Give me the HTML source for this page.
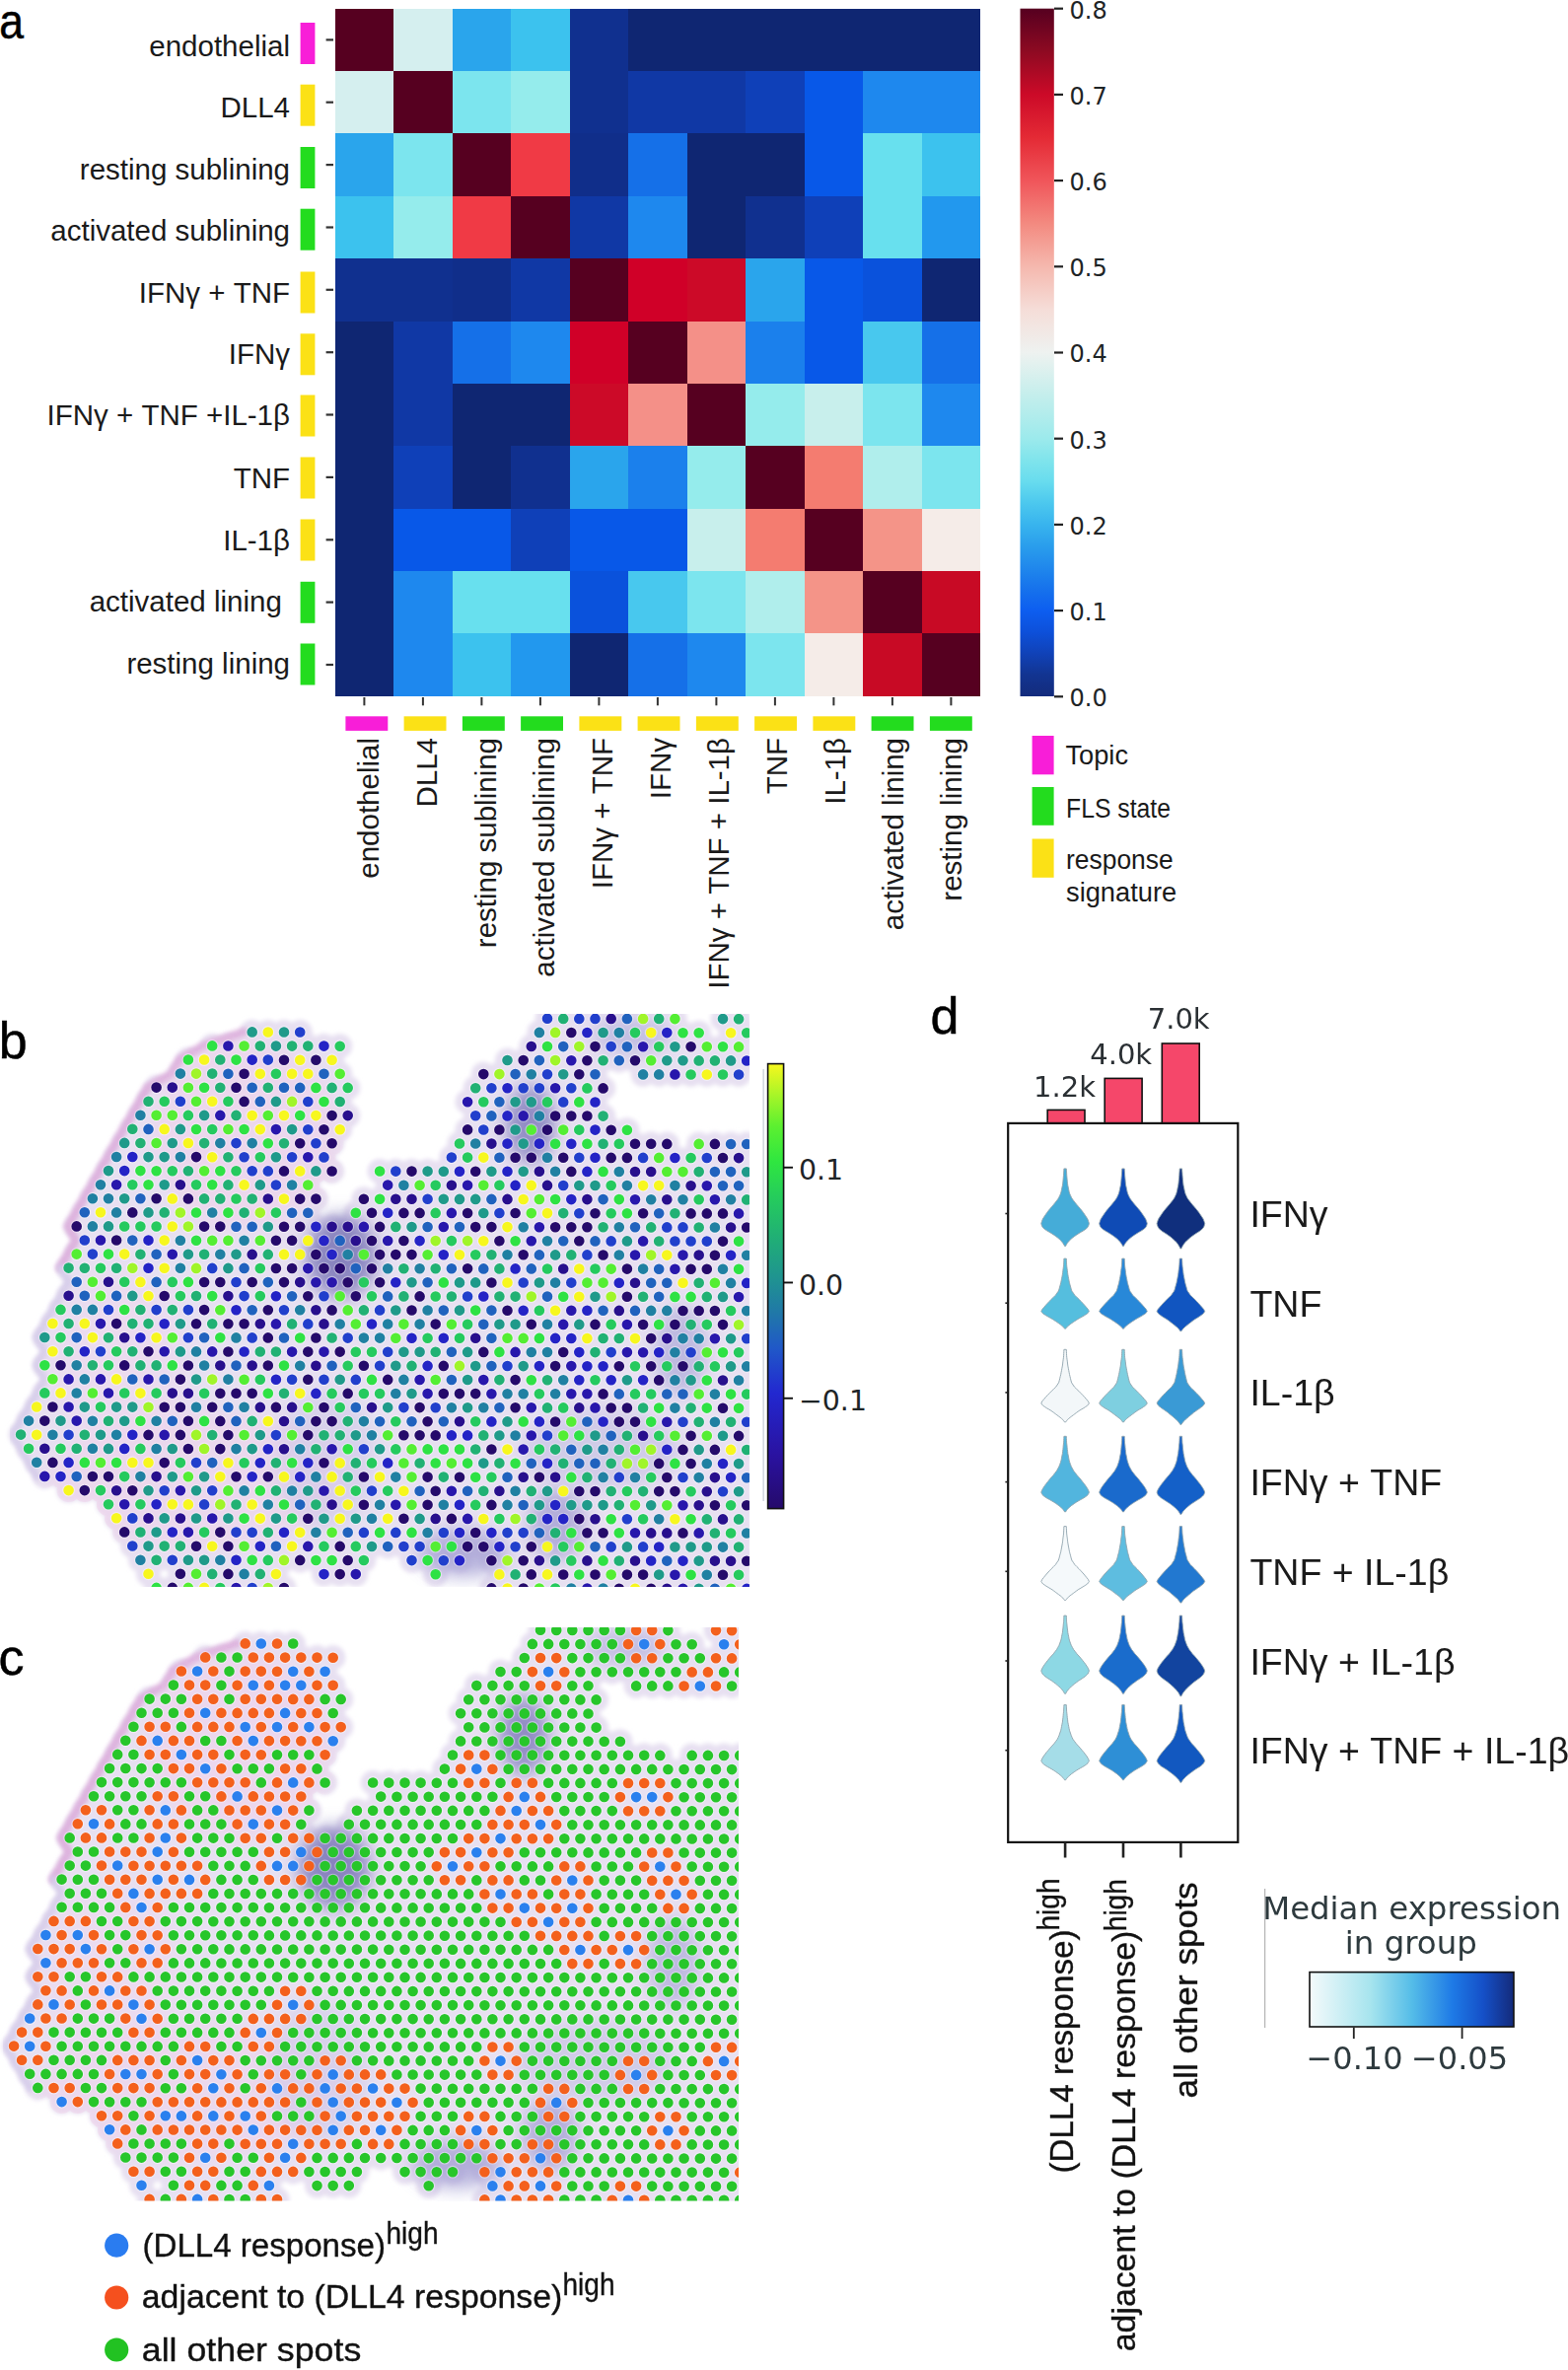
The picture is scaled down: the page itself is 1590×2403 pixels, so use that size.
<!DOCTYPE html>
<html><head><meta charset="utf-8"><title>Figure</title>
<style>html,body{margin:0;padding:0;background:#fff}svg{display:block}</style></head>
<body>
<svg width="1590" height="2403" viewBox="0 0 1590 2403">
<rect width="1590" height="2403" fill="#fff"/>
<g shape-rendering="crispEdges">
<rect x="339.6" y="8.7" width="60.1" height="64" fill="#560020"/>
<rect x="399.1" y="8.7" width="60.1" height="64" fill="#d5efef"/>
<rect x="458.6" y="8.7" width="60.1" height="64" fill="#2aa5ec"/>
<rect x="518.1" y="8.7" width="60.1" height="64" fill="#3cc2ee"/>
<rect x="577.6" y="8.7" width="60.1" height="64" fill="#10308f"/>
<rect x="637.1" y="8.7" width="60.1" height="64" fill="#0f2672"/>
<rect x="696.6" y="8.7" width="60.1" height="64" fill="#0f2672"/>
<rect x="756.1" y="8.7" width="60.1" height="64" fill="#0f2672"/>
<rect x="815.6" y="8.7" width="60.1" height="64" fill="#0f2672"/>
<rect x="875.1" y="8.7" width="60.1" height="64" fill="#0f2672"/>
<rect x="934.6" y="8.7" width="59.5" height="64" fill="#0f2672"/>
<rect x="339.6" y="72.1" width="60.1" height="64" fill="#d5efef"/>
<rect x="399.1" y="72.1" width="60.1" height="64" fill="#560020"/>
<rect x="458.6" y="72.1" width="60.1" height="64" fill="#7ce5ee"/>
<rect x="518.1" y="72.1" width="60.1" height="64" fill="#95ecec"/>
<rect x="577.6" y="72.1" width="60.1" height="64" fill="#10308f"/>
<rect x="637.1" y="72.1" width="60.1" height="64" fill="#1038a5"/>
<rect x="696.6" y="72.1" width="60.1" height="64" fill="#1038a5"/>
<rect x="756.1" y="72.1" width="60.1" height="64" fill="#0f40b8"/>
<rect x="815.6" y="72.1" width="60.1" height="64" fill="#0858e8"/>
<rect x="875.1" y="72.1" width="60.1" height="64" fill="#1e88ee"/>
<rect x="934.6" y="72.1" width="59.5" height="64" fill="#1e88ee"/>
<rect x="339.6" y="135.4" width="60.1" height="64" fill="#2aa5ec"/>
<rect x="399.1" y="135.4" width="60.1" height="64" fill="#7ce5ee"/>
<rect x="458.6" y="135.4" width="60.1" height="64" fill="#560020"/>
<rect x="518.1" y="135.4" width="60.1" height="64" fill="#f03a45"/>
<rect x="577.6" y="135.4" width="60.1" height="64" fill="#102e8a"/>
<rect x="637.1" y="135.4" width="60.1" height="64" fill="#1570e8"/>
<rect x="696.6" y="135.4" width="60.1" height="64" fill="#0f2672"/>
<rect x="756.1" y="135.4" width="60.1" height="64" fill="#0f2672"/>
<rect x="815.6" y="135.4" width="60.1" height="64" fill="#0858e8"/>
<rect x="875.1" y="135.4" width="60.1" height="64" fill="#68e0ee"/>
<rect x="934.6" y="135.4" width="59.5" height="64" fill="#3cc2ee"/>
<rect x="339.6" y="198.8" width="60.1" height="64" fill="#3cc2ee"/>
<rect x="399.1" y="198.8" width="60.1" height="64" fill="#95ecec"/>
<rect x="458.6" y="198.8" width="60.1" height="64" fill="#f03a45"/>
<rect x="518.1" y="198.8" width="60.1" height="64" fill="#560020"/>
<rect x="577.6" y="198.8" width="60.1" height="64" fill="#1038a5"/>
<rect x="637.1" y="198.8" width="60.1" height="64" fill="#1e88ee"/>
<rect x="696.6" y="198.8" width="60.1" height="64" fill="#0f2672"/>
<rect x="756.1" y="198.8" width="60.1" height="64" fill="#10308f"/>
<rect x="815.6" y="198.8" width="60.1" height="64" fill="#0f40b8"/>
<rect x="875.1" y="198.8" width="60.1" height="64" fill="#68e0ee"/>
<rect x="934.6" y="198.8" width="59.5" height="64" fill="#2298ee"/>
<rect x="339.6" y="262.1" width="60.1" height="64" fill="#10308f"/>
<rect x="399.1" y="262.1" width="60.1" height="64" fill="#10308f"/>
<rect x="458.6" y="262.1" width="60.1" height="64" fill="#102e8a"/>
<rect x="518.1" y="262.1" width="60.1" height="64" fill="#1038a5"/>
<rect x="577.6" y="262.1" width="60.1" height="64" fill="#560020"/>
<rect x="637.1" y="262.1" width="60.1" height="64" fill="#d00028"/>
<rect x="696.6" y="262.1" width="60.1" height="64" fill="#cc0a28"/>
<rect x="756.1" y="262.1" width="60.1" height="64" fill="#2aa5ec"/>
<rect x="815.6" y="262.1" width="60.1" height="64" fill="#0858e8"/>
<rect x="875.1" y="262.1" width="60.1" height="64" fill="#0a52dc"/>
<rect x="934.6" y="262.1" width="59.5" height="64" fill="#0f2672"/>
<rect x="339.6" y="325.5" width="60.1" height="64" fill="#0f2672"/>
<rect x="399.1" y="325.5" width="60.1" height="64" fill="#1038a5"/>
<rect x="458.6" y="325.5" width="60.1" height="64" fill="#1570e8"/>
<rect x="518.1" y="325.5" width="60.1" height="64" fill="#1e88ee"/>
<rect x="577.6" y="325.5" width="60.1" height="64" fill="#d00028"/>
<rect x="637.1" y="325.5" width="60.1" height="64" fill="#560020"/>
<rect x="696.6" y="325.5" width="60.1" height="64" fill="#f49088"/>
<rect x="756.1" y="325.5" width="60.1" height="64" fill="#1b80ec"/>
<rect x="815.6" y="325.5" width="60.1" height="64" fill="#0858e8"/>
<rect x="875.1" y="325.5" width="60.1" height="64" fill="#48c8ee"/>
<rect x="934.6" y="325.5" width="59.5" height="64" fill="#1570e8"/>
<rect x="339.6" y="388.9" width="60.1" height="64" fill="#0f2672"/>
<rect x="399.1" y="388.9" width="60.1" height="64" fill="#1038a5"/>
<rect x="458.6" y="388.9" width="60.1" height="64" fill="#0f2672"/>
<rect x="518.1" y="388.9" width="60.1" height="64" fill="#0f2672"/>
<rect x="577.6" y="388.9" width="60.1" height="64" fill="#cc0a28"/>
<rect x="637.1" y="388.9" width="60.1" height="64" fill="#f49088"/>
<rect x="696.6" y="388.9" width="60.1" height="64" fill="#560020"/>
<rect x="756.1" y="388.9" width="60.1" height="64" fill="#95ecec"/>
<rect x="815.6" y="388.9" width="60.1" height="64" fill="#c8efec"/>
<rect x="875.1" y="388.9" width="60.1" height="64" fill="#7ce5ee"/>
<rect x="934.6" y="388.9" width="59.5" height="64" fill="#1e88ee"/>
<rect x="339.6" y="452.2" width="60.1" height="64" fill="#0f2672"/>
<rect x="399.1" y="452.2" width="60.1" height="64" fill="#0f40b8"/>
<rect x="458.6" y="452.2" width="60.1" height="64" fill="#0f2672"/>
<rect x="518.1" y="452.2" width="60.1" height="64" fill="#10308f"/>
<rect x="577.6" y="452.2" width="60.1" height="64" fill="#2aa5ec"/>
<rect x="637.1" y="452.2" width="60.1" height="64" fill="#1b80ec"/>
<rect x="696.6" y="452.2" width="60.1" height="64" fill="#95ecec"/>
<rect x="756.1" y="452.2" width="60.1" height="64" fill="#560020"/>
<rect x="815.6" y="452.2" width="60.1" height="64" fill="#f47c70"/>
<rect x="875.1" y="452.2" width="60.1" height="64" fill="#b0eeec"/>
<rect x="934.6" y="452.2" width="59.5" height="64" fill="#7ce5ee"/>
<rect x="339.6" y="515.6" width="60.1" height="64" fill="#0f2672"/>
<rect x="399.1" y="515.6" width="60.1" height="64" fill="#0858e8"/>
<rect x="458.6" y="515.6" width="60.1" height="64" fill="#0858e8"/>
<rect x="518.1" y="515.6" width="60.1" height="64" fill="#0f40b8"/>
<rect x="577.6" y="515.6" width="60.1" height="64" fill="#0858e8"/>
<rect x="637.1" y="515.6" width="60.1" height="64" fill="#0858e8"/>
<rect x="696.6" y="515.6" width="60.1" height="64" fill="#c8efec"/>
<rect x="756.1" y="515.6" width="60.1" height="64" fill="#f47c70"/>
<rect x="815.6" y="515.6" width="60.1" height="64" fill="#560020"/>
<rect x="875.1" y="515.6" width="60.1" height="64" fill="#f49488"/>
<rect x="934.6" y="515.6" width="59.5" height="64" fill="#f5ece8"/>
<rect x="339.6" y="578.9" width="60.1" height="64" fill="#0f2672"/>
<rect x="399.1" y="578.9" width="60.1" height="64" fill="#1e88ee"/>
<rect x="458.6" y="578.9" width="60.1" height="64" fill="#68e0ee"/>
<rect x="518.1" y="578.9" width="60.1" height="64" fill="#68e0ee"/>
<rect x="577.6" y="578.9" width="60.1" height="64" fill="#0a52dc"/>
<rect x="637.1" y="578.9" width="60.1" height="64" fill="#48c8ee"/>
<rect x="696.6" y="578.9" width="60.1" height="64" fill="#7ce5ee"/>
<rect x="756.1" y="578.9" width="60.1" height="64" fill="#b0eeec"/>
<rect x="815.6" y="578.9" width="60.1" height="64" fill="#f49488"/>
<rect x="875.1" y="578.9" width="60.1" height="64" fill="#560020"/>
<rect x="934.6" y="578.9" width="59.5" height="64" fill="#c80a25"/>
<rect x="339.6" y="642.3" width="60.1" height="63.4" fill="#0f2672"/>
<rect x="399.1" y="642.3" width="60.1" height="63.4" fill="#1e88ee"/>
<rect x="458.6" y="642.3" width="60.1" height="63.4" fill="#3cc2ee"/>
<rect x="518.1" y="642.3" width="60.1" height="63.4" fill="#2298ee"/>
<rect x="577.6" y="642.3" width="60.1" height="63.4" fill="#0f2672"/>
<rect x="637.1" y="642.3" width="60.1" height="63.4" fill="#1570e8"/>
<rect x="696.6" y="642.3" width="60.1" height="63.4" fill="#1e88ee"/>
<rect x="756.1" y="642.3" width="60.1" height="63.4" fill="#7ce5ee"/>
<rect x="815.6" y="642.3" width="60.1" height="63.4" fill="#f5ece8"/>
<rect x="875.1" y="642.3" width="60.1" height="63.4" fill="#c80a25"/>
<rect x="934.6" y="642.3" width="59.5" height="63.4" fill="#560020"/>
</g>
<g font-family='"Liberation Sans", Arial, sans-serif' font-size="29.5" fill="#1a1a1a">
<text x="294" y="57" text-anchor="end" xml:space="preserve">endothelial</text>
<rect x="304.6" y="23" width="14.8" height="42" fill="#f81ed8"/>
<rect x="330.6" y="39.3" width="7.4" height="2.2" fill="#333"/>
<rect x="368.4" y="707" width="2" height="8.3" fill="#333"/>
<rect x="350.4" y="726.3" width="42.9" height="14.6" fill="#f81ed8"/>
<text transform="translate(384.3 748) rotate(-90)" text-anchor="end">endothelial</text>
<text x="294" y="119" text-anchor="end" xml:space="preserve">DLL4</text>
<rect x="304.6" y="85.7" width="14.8" height="42" fill="#fbe116"/>
<rect x="330.6" y="102.6" width="7.4" height="2.2" fill="#333"/>
<rect x="427.9" y="707" width="2" height="8.3" fill="#333"/>
<rect x="409.6" y="726.3" width="42.9" height="14.6" fill="#fbe116"/>
<text transform="translate(443.4 748) rotate(-90)" text-anchor="end">DLL4</text>
<text x="294" y="182" text-anchor="end" xml:space="preserve">resting sublining</text>
<rect x="304.6" y="149" width="14.8" height="42" fill="#23dc1e"/>
<rect x="330.6" y="166" width="7.4" height="2.2" fill="#333"/>
<rect x="487.4" y="707" width="2" height="8.3" fill="#333"/>
<rect x="468.9" y="726.3" width="42.9" height="14.6" fill="#23dc1e"/>
<text transform="translate(502.5 748) rotate(-90)" text-anchor="end">resting sublining</text>
<text x="294" y="244" text-anchor="end" xml:space="preserve">activated sublining</text>
<rect x="304.6" y="211.7" width="14.8" height="42" fill="#23dc1e"/>
<rect x="330.6" y="229.4" width="7.4" height="2.2" fill="#333"/>
<rect x="546.9" y="707" width="2" height="8.3" fill="#333"/>
<rect x="528.1" y="726.3" width="42.9" height="14.6" fill="#23dc1e"/>
<text transform="translate(561.6 748) rotate(-90)" text-anchor="end">activated sublining</text>
<text x="294" y="307" text-anchor="end" xml:space="preserve">IFNγ + TNF</text>
<rect x="304.6" y="275.5" width="14.8" height="42" fill="#fbe116"/>
<rect x="330.6" y="292.7" width="7.4" height="2.2" fill="#333"/>
<rect x="606.4" y="707" width="2" height="8.3" fill="#333"/>
<rect x="587.4" y="726.3" width="42.9" height="14.6" fill="#fbe116"/>
<text transform="translate(620.7 748) rotate(-90)" text-anchor="end">IFNγ + TNF</text>
<text x="294" y="368.5" text-anchor="end" xml:space="preserve">IFNγ</text>
<rect x="304.6" y="338.3" width="14.8" height="42" fill="#fbe116"/>
<rect x="330.6" y="356.1" width="7.4" height="2.2" fill="#333"/>
<rect x="665.9" y="707" width="2" height="8.3" fill="#333"/>
<rect x="646.6" y="726.3" width="42.9" height="14.6" fill="#fbe116"/>
<text transform="translate(679.8 748) rotate(-90)" text-anchor="end">IFNγ</text>
<text x="294" y="431" text-anchor="end" xml:space="preserve">IFNγ + TNF +IL-1β</text>
<rect x="304.6" y="400.5" width="14.8" height="42" fill="#fbe116"/>
<rect x="330.6" y="419.4" width="7.4" height="2.2" fill="#333"/>
<rect x="725.4" y="707" width="2" height="8.3" fill="#333"/>
<rect x="705.9" y="726.3" width="42.9" height="14.6" fill="#fbe116"/>
<text transform="translate(738.9 748) rotate(-90)" text-anchor="end">IFNγ + TNF + IL-1β</text>
<text x="294" y="494.5" text-anchor="end" xml:space="preserve">TNF</text>
<rect x="304.6" y="463.5" width="14.8" height="42" fill="#fbe116"/>
<rect x="330.6" y="482.8" width="7.4" height="2.2" fill="#333"/>
<rect x="784.9" y="707" width="2" height="8.3" fill="#333"/>
<rect x="765.1" y="726.3" width="42.9" height="14.6" fill="#fbe116"/>
<text transform="translate(798 748) rotate(-90)" text-anchor="end">TNF</text>
<text x="294" y="558" text-anchor="end" xml:space="preserve">IL-1β</text>
<rect x="304.6" y="526.5" width="14.8" height="42" fill="#fbe116"/>
<rect x="330.6" y="546.2" width="7.4" height="2.2" fill="#333"/>
<rect x="844.4" y="707" width="2" height="8.3" fill="#333"/>
<rect x="824.4" y="726.3" width="42.9" height="14.6" fill="#fbe116"/>
<text transform="translate(857.1 748) rotate(-90)" text-anchor="end">IL-1β</text>
<text x="294" y="619.5" text-anchor="end" xml:space="preserve">activated lining </text>
<rect x="304.6" y="589.8" width="14.8" height="42" fill="#23dc1e"/>
<rect x="330.6" y="609.5" width="7.4" height="2.2" fill="#333"/>
<rect x="903.9" y="707" width="2" height="8.3" fill="#333"/>
<rect x="883.6" y="726.3" width="42.9" height="14.6" fill="#23dc1e"/>
<text transform="translate(916.2 748) rotate(-90)" text-anchor="end">activated lining</text>
<text x="294" y="683" text-anchor="end" xml:space="preserve">resting lining</text>
<rect x="304.6" y="652.5" width="14.8" height="42" fill="#23dc1e"/>
<rect x="330.6" y="672.9" width="7.4" height="2.2" fill="#333"/>
<rect x="963.4" y="707" width="2" height="8.3" fill="#333"/>
<rect x="942.9" y="726.3" width="42.9" height="14.6" fill="#23dc1e"/>
<text transform="translate(975.3 748) rotate(-90)" text-anchor="end">resting lining</text>
</g>
<defs><linearGradient id="ga" x1="0" y1="1" x2="0" y2="0">
<stop offset="0.0000" stop-color="#132b7c"/>
<stop offset="0.0312" stop-color="#123491"/>
<stop offset="0.0625" stop-color="#1042b8"/>
<stop offset="0.0937" stop-color="#0d50da"/>
<stop offset="0.1250" stop-color="#0d5ef0"/>
<stop offset="0.1562" stop-color="#1672ec"/>
<stop offset="0.1875" stop-color="#2088ec"/>
<stop offset="0.2187" stop-color="#2a9eec"/>
<stop offset="0.2500" stop-color="#38b4ee"/>
<stop offset="0.2812" stop-color="#4cc8ee"/>
<stop offset="0.3125" stop-color="#68dcee"/>
<stop offset="0.3438" stop-color="#80e4ec"/>
<stop offset="0.3750" stop-color="#9ceaec"/>
<stop offset="0.4375" stop-color="#c4eeec"/>
<stop offset="0.5000" stop-color="#eef2f0"/>
<stop offset="0.5625" stop-color="#f5ddd8"/>
<stop offset="0.6250" stop-color="#f5b8ae"/>
<stop offset="0.6875" stop-color="#f38a80"/>
<stop offset="0.7500" stop-color="#f0555a"/>
<stop offset="0.8125" stop-color="#e42a35"/>
<stop offset="0.8750" stop-color="#cc0a28"/>
<stop offset="0.9375" stop-color="#8e0a22"/>
<stop offset="1.0000" stop-color="#560020"/>
</linearGradient></defs>
<rect x="1034.5" y="8.7" width="34.3" height="697.3" fill="url(#ga)"/>
<g font-family='"DejaVu Sans", "Liberation Sans", sans-serif' font-size="24" fill="#1e2426">
<rect x="1069" y="705.2" width="9" height="2.2" fill="#222"/>
<text x="1084.5" y="716.1">0.0</text>
<rect x="1069" y="618" width="9" height="2.2" fill="#222"/>
<text x="1084.5" y="628.9">0.1</text>
<rect x="1069" y="530.8" width="9" height="2.2" fill="#222"/>
<text x="1084.5" y="541.8">0.2</text>
<rect x="1069" y="443.6" width="9" height="2.2" fill="#222"/>
<text x="1084.5" y="454.5">0.3</text>
<rect x="1069" y="356.4" width="9" height="2.2" fill="#222"/>
<text x="1084.5" y="367.3">0.4</text>
<rect x="1069" y="269.2" width="9" height="2.2" fill="#222"/>
<text x="1084.5" y="280.1">0.5</text>
<rect x="1069" y="182" width="9" height="2.2" fill="#222"/>
<text x="1084.5" y="192.9">0.6</text>
<rect x="1069" y="94.8" width="9" height="2.2" fill="#222"/>
<text x="1084.5" y="105.7">0.7</text>
<rect x="1069" y="7.6" width="9" height="2.2" fill="#222"/>
<text x="1084.5" y="18.5">0.8</text>
</g>
<rect x="1046.6" y="746" width="22" height="39.3" fill="#f81ed8"/>
<rect x="1046.6" y="798" width="22" height="38.8" fill="#23dc1e"/>
<rect x="1046.6" y="850.5" width="22" height="39.3" fill="#fbe116"/>
<g font-family='"Liberation Sans", Arial, sans-serif' font-size="27" fill="#1a1a1a">
<text x="1080.5" y="775" textLength="63.5" lengthAdjust="spacingAndGlyphs">Topic</text>
<text x="1081" y="828.6" textLength="106" lengthAdjust="spacingAndGlyphs">FLS state</text>
<text x="1081" y="881" textLength="108.7" lengthAdjust="spacingAndGlyphs">response</text>
<text x="1081" y="914.3" textLength="112.2" lengthAdjust="spacingAndGlyphs">signature</text>
</g>
<g font-family='"Liberation Sans", Arial, sans-serif' font-size="52" fill="#000" stroke="#000" stroke-width="0.5">
<text transform="translate(-0.8 39.3) scale(0.9 1)" font-size="49.5">a</text>
<text x="-1.3" y="1072.8">b</text>
<text x="-1.5" y="1697.6">c</text>
<text x="943.5" y="1047.8">d</text>
</g>
<defs>
<path id="allsp" d="M555 1032.8h0M571.2 1032.9h0M587.3 1032.9h0M603.5 1032.9h0M619.7 1033h0M635.9 1033h0M652.1 1033h0M668.2 1033h0M684.4 1033.1h0M733 1033.1h0M749.1 1033.2h0M255.7 1046.4h0M271.8 1046.5h0M288 1046.5h0M304.2 1046.5h0M546.9 1046.9h0M563.1 1046.9h0M579.3 1047h0M595.4 1047h0M611.6 1047h0M627.8 1047.1h0M644 1047.1h0M660.2 1047.1h0M676.3 1047.1h0M692.5 1047.2h0M708.7 1047.2h0M741.1 1047.2h0M757.2 1047.3h0M215.2 1060.4h0M231.4 1060.5h0M247.6 1060.5h0M263.8 1060.5h0M279.9 1060.6h0M296.1 1060.6h0M312.3 1060.6h0M328.5 1060.6h0M344.7 1060.7h0M538.8 1061h0M555 1061h0M571.2 1061.1h0M587.3 1061.1h0M603.5 1061.1h0M619.7 1061.1h0M635.9 1061.2h0M652.1 1061.2h0M668.2 1061.2h0M684.4 1061.2h0M700.6 1061.3h0M716.8 1061.3h0M733 1061.3h0M749.1 1061.4h0M190.9 1074.5h0M207.1 1074.5h0M223.3 1074.5h0M239.5 1074.6h0M255.7 1074.6h0M271.8 1074.6h0M288 1074.7h0M304.2 1074.7h0M320.4 1074.7h0M336.6 1074.7h0M514.5 1075h0M530.7 1075.1h0M546.9 1075.1h0M563.1 1075.1h0M579.3 1075.2h0M595.4 1075.2h0M611.6 1075.2h0M627.8 1075.2h0M644 1075.3h0M660.2 1075.3h0M676.3 1075.3h0M692.5 1075.3h0M708.7 1075.4h0M724.9 1075.4h0M741.1 1075.4h0M757.2 1075.5h0M182.9 1088.6h0M199 1088.6h0M215.2 1088.6h0M231.4 1088.7h0M247.6 1088.7h0M263.8 1088.7h0M279.9 1088.7h0M296.1 1088.8h0M312.3 1088.8h0M328.5 1088.8h0M344.7 1088.8h0M490.3 1089.1h0M506.4 1089.1h0M522.6 1089.1h0M538.8 1089.2h0M555 1089.2h0M571.2 1089.2h0M587.3 1089.3h0M603.5 1089.3h0M652.1 1089.4h0M668.2 1089.4h0M684.4 1089.4h0M700.6 1089.5h0M716.8 1089.5h0M733 1089.5h0M749.1 1089.5h0M158.6 1102.6h0M174.8 1102.6h0M190.9 1102.7h0M207.1 1102.7h0M223.3 1102.7h0M239.5 1102.8h0M255.7 1102.8h0M271.8 1102.8h0M288 1102.8h0M304.2 1102.9h0M320.4 1102.9h0M336.6 1102.9h0M352.7 1102.9h0M482.2 1103.2h0M498.4 1103.2h0M514.5 1103.2h0M530.7 1103.3h0M546.9 1103.3h0M563.1 1103.3h0M579.3 1103.3h0M595.4 1103.4h0M611.6 1103.4h0M150.5 1116.7h0M166.7 1116.7h0M182.9 1116.8h0M199 1116.8h0M215.2 1116.8h0M231.4 1116.8h0M247.6 1116.9h0M263.8 1116.9h0M279.9 1116.9h0M296.1 1116.9h0M312.3 1117h0M328.5 1117h0M344.7 1117h0M474.1 1117.2h0M490.3 1117.3h0M506.4 1117.3h0M522.6 1117.3h0M538.8 1117.4h0M555 1117.4h0M571.2 1117.4h0M587.3 1117.4h0M603.5 1117.5h0M142.4 1130.8h0M158.6 1130.8h0M174.8 1130.8h0M190.9 1130.9h0M207.1 1130.9h0M223.3 1130.9h0M239.5 1130.9h0M255.7 1131h0M271.8 1131h0M288 1131h0M304.2 1131h0M320.4 1131.1h0M336.6 1131.1h0M352.7 1131.1h0M482.2 1131.3h0M498.4 1131.4h0M514.5 1131.4h0M530.7 1131.4h0M546.9 1131.5h0M563.1 1131.5h0M579.3 1131.5h0M595.4 1131.5h0M611.6 1131.6h0M134.3 1144.8h0M150.5 1144.9h0M166.7 1144.9h0M182.9 1144.9h0M199 1145h0M215.2 1145h0M231.4 1145h0M247.6 1145h0M263.8 1145.1h0M279.9 1145.1h0M296.1 1145.1h0M312.3 1145.2h0M328.5 1145.2h0M344.7 1145.2h0M474.1 1145.4h0M490.3 1145.5h0M506.4 1145.5h0M522.6 1145.5h0M538.8 1145.5h0M555 1145.6h0M571.2 1145.6h0M587.3 1145.6h0M603.5 1145.6h0M619.7 1145.7h0M635.9 1145.7h0M126.2 1158.9h0M142.4 1159h0M158.6 1159h0M174.8 1159h0M190.9 1159h0M207.1 1159.1h0M223.3 1159.1h0M239.5 1159.1h0M255.7 1159.1h0M271.8 1159.2h0M288 1159.2h0M304.2 1159.2h0M320.4 1159.3h0M336.6 1159.3h0M466 1159.5h0M482.2 1159.5h0M498.4 1159.6h0M514.5 1159.6h0M530.7 1159.6h0M546.9 1159.6h0M563.1 1159.7h0M579.3 1159.7h0M595.4 1159.7h0M611.6 1159.7h0M627.8 1159.8h0M644 1159.8h0M660.2 1159.8h0M676.3 1159.9h0M708.7 1159.9h0M724.9 1159.9h0M741.1 1160h0M757.2 1160h0M118.1 1173h0M134.3 1173h0M150.5 1173.1h0M166.7 1173.1h0M182.9 1173.1h0M199 1173.1h0M215.2 1173.2h0M231.4 1173.2h0M247.6 1173.2h0M263.8 1173.2h0M279.9 1173.3h0M296.1 1173.3h0M312.3 1173.3h0M328.5 1173.4h0M457.9 1173.6h0M474.1 1173.6h0M490.3 1173.6h0M506.4 1173.7h0M522.6 1173.7h0M538.8 1173.7h0M555 1173.7h0M571.2 1173.8h0M587.3 1173.8h0M603.5 1173.8h0M619.7 1173.9h0M635.9 1173.9h0M652.1 1173.9h0M668.2 1173.9h0M684.4 1174h0M700.6 1174h0M716.8 1174h0M733 1174h0M749.1 1174.1h0M110 1187.1h0M126.2 1187.1h0M142.4 1187.1h0M158.6 1187.2h0M174.8 1187.2h0M190.9 1187.2h0M207.1 1187.2h0M223.3 1187.3h0M239.5 1187.3h0M255.7 1187.3h0M271.8 1187.4h0M288 1187.4h0M304.2 1187.4h0M320.4 1187.4h0M336.6 1187.5h0M385.1 1187.5h0M401.3 1187.6h0M417.5 1187.6h0M433.6 1187.6h0M449.8 1187.7h0M466 1187.7h0M482.2 1187.7h0M498.4 1187.7h0M514.5 1187.8h0M530.7 1187.8h0M546.9 1187.8h0M563.1 1187.8h0M579.3 1187.9h0M595.4 1187.9h0M611.6 1187.9h0M627.8 1188h0M644 1188h0M660.2 1188h0M676.3 1188h0M692.5 1188.1h0M708.7 1188.1h0M724.9 1188.1h0M741.1 1188.1h0M757.2 1188.2h0M102 1201.2h0M118.1 1201.2h0M134.3 1201.2h0M150.5 1201.2h0M166.7 1201.3h0M182.9 1201.3h0M199 1201.3h0M215.2 1201.3h0M231.4 1201.4h0M247.6 1201.4h0M263.8 1201.4h0M279.9 1201.5h0M296.1 1201.5h0M312.3 1201.5h0M393.2 1201.6h0M409.4 1201.7h0M425.6 1201.7h0M441.7 1201.7h0M457.9 1201.8h0M474.1 1201.8h0M490.3 1201.8h0M506.4 1201.8h0M522.6 1201.9h0M538.8 1201.9h0M555 1201.9h0M571.2 1202h0M587.3 1202h0M603.5 1202h0M619.7 1202h0M635.9 1202.1h0M652.1 1202.1h0M668.2 1202.1h0M684.4 1202.1h0M700.6 1202.2h0M716.8 1202.2h0M733 1202.2h0M749.1 1202.3h0M93.9 1215.2h0M110 1215.3h0M126.2 1215.3h0M142.4 1215.3h0M158.6 1215.3h0M174.8 1215.4h0M190.9 1215.4h0M207.1 1215.4h0M223.3 1215.4h0M239.5 1215.5h0M255.7 1215.5h0M271.8 1215.5h0M288 1215.6h0M304.2 1215.6h0M320.4 1215.6h0M368.9 1215.7h0M385.1 1215.7h0M401.3 1215.8h0M417.5 1215.8h0M433.6 1215.8h0M449.8 1215.8h0M466 1215.9h0M482.2 1215.9h0M498.4 1215.9h0M514.5 1215.9h0M530.7 1216h0M546.9 1216h0M563.1 1216h0M579.3 1216.1h0M595.4 1216.1h0M611.6 1216.1h0M627.8 1216.1h0M644 1216.2h0M660.2 1216.2h0M676.3 1216.2h0M692.5 1216.2h0M708.7 1216.3h0M724.9 1216.3h0M741.1 1216.3h0M757.2 1216.4h0M85.8 1229.3h0M102 1229.3h0M118.1 1229.4h0M134.3 1229.4h0M150.5 1229.4h0M166.7 1229.4h0M182.9 1229.5h0M199 1229.5h0M215.2 1229.5h0M231.4 1229.6h0M247.6 1229.6h0M263.8 1229.6h0M279.9 1229.6h0M296.1 1229.7h0M312.3 1229.7h0M360.8 1229.8h0M377 1229.8h0M393.2 1229.8h0M409.4 1229.9h0M425.6 1229.9h0M441.7 1229.9h0M457.9 1229.9h0M474.1 1230h0M490.3 1230h0M506.4 1230h0M522.6 1230h0M538.8 1230.1h0M555 1230.1h0M571.2 1230.1h0M587.3 1230.2h0M603.5 1230.2h0M619.7 1230.2h0M635.9 1230.2h0M652.1 1230.3h0M668.2 1230.3h0M684.4 1230.3h0M700.6 1230.4h0M716.8 1230.4h0M733 1230.4h0M749.1 1230.4h0M77.7 1243.4h0M93.9 1243.4h0M110 1243.4h0M126.2 1243.5h0M142.4 1243.5h0M158.6 1243.5h0M174.8 1243.5h0M190.9 1243.6h0M207.1 1243.6h0M223.3 1243.6h0M239.5 1243.7h0M255.7 1243.7h0M271.8 1243.7h0M288 1243.7h0M304.2 1243.8h0M320.4 1243.8h0M336.6 1243.8h0M352.7 1243.8h0M368.9 1243.9h0M385.1 1243.9h0M401.3 1243.9h0M417.5 1244h0M433.6 1244h0M449.8 1244h0M466 1244h0M482.2 1244.1h0M498.4 1244.1h0M514.5 1244.1h0M530.7 1244.2h0M546.9 1244.2h0M563.1 1244.2h0M579.3 1244.2h0M595.4 1244.3h0M611.6 1244.3h0M627.8 1244.3h0M644 1244.3h0M660.2 1244.4h0M676.3 1244.4h0M692.5 1244.4h0M708.7 1244.5h0M724.9 1244.5h0M741.1 1244.5h0M757.2 1244.5h0M85.8 1257.5h0M102 1257.5h0M118.1 1257.5h0M134.3 1257.6h0M150.5 1257.6h0M166.7 1257.6h0M182.9 1257.7h0M199 1257.7h0M215.2 1257.7h0M231.4 1257.7h0M247.6 1257.8h0M263.8 1257.8h0M279.9 1257.8h0M296.1 1257.8h0M312.3 1257.9h0M328.5 1257.9h0M344.7 1257.9h0M360.8 1258h0M377 1258h0M393.2 1258h0M409.4 1258h0M425.6 1258.1h0M441.7 1258.1h0M457.9 1258.1h0M474.1 1258.1h0M490.3 1258.2h0M506.4 1258.2h0M522.6 1258.2h0M538.8 1258.3h0M555 1258.3h0M571.2 1258.3h0M587.3 1258.3h0M603.5 1258.4h0M619.7 1258.4h0M635.9 1258.4h0M652.1 1258.4h0M668.2 1258.5h0M684.4 1258.5h0M700.6 1258.5h0M716.8 1258.6h0M733 1258.6h0M749.1 1258.6h0M77.7 1271.6h0M93.9 1271.6h0M110 1271.6h0M126.2 1271.6h0M142.4 1271.7h0M158.6 1271.7h0M174.8 1271.7h0M190.9 1271.8h0M207.1 1271.8h0M223.3 1271.8h0M239.5 1271.8h0M255.7 1271.9h0M271.8 1271.9h0M288 1271.9h0M304.2 1271.9h0M320.4 1272h0M336.6 1272h0M352.7 1272h0M368.9 1272.1h0M385.1 1272.1h0M401.3 1272.1h0M417.5 1272.1h0M433.6 1272.2h0M449.8 1272.2h0M466 1272.2h0M482.2 1272.2h0M498.4 1272.3h0M514.5 1272.3h0M530.7 1272.3h0M546.9 1272.4h0M563.1 1272.4h0M579.3 1272.4h0M595.4 1272.4h0M611.6 1272.5h0M627.8 1272.5h0M644 1272.5h0M660.2 1272.6h0M676.3 1272.6h0M692.5 1272.6h0M708.7 1272.6h0M724.9 1272.7h0M741.1 1272.7h0M757.2 1272.7h0M69.6 1285.6h0M85.8 1285.7h0M102 1285.7h0M118.1 1285.7h0M134.3 1285.7h0M150.5 1285.8h0M166.7 1285.8h0M182.9 1285.8h0M199 1285.9h0M215.2 1285.9h0M231.4 1285.9h0M247.6 1285.9h0M263.8 1286h0M279.9 1286h0M296.1 1286h0M312.3 1286.1h0M328.5 1286.1h0M344.7 1286.1h0M360.8 1286.1h0M377 1286.2h0M393.2 1286.2h0M409.4 1286.2h0M425.6 1286.2h0M441.7 1286.3h0M457.9 1286.3h0M474.1 1286.3h0M490.3 1286.4h0M506.4 1286.4h0M522.6 1286.4h0M538.8 1286.4h0M555 1286.5h0M571.2 1286.5h0M587.3 1286.5h0M603.5 1286.5h0M619.7 1286.6h0M635.9 1286.6h0M652.1 1286.6h0M668.2 1286.7h0M684.4 1286.7h0M700.6 1286.7h0M716.8 1286.7h0M733 1286.8h0M749.1 1286.8h0M77.7 1299.7h0M93.9 1299.8h0M110 1299.8h0M126.2 1299.8h0M142.4 1299.9h0M158.6 1299.9h0M174.8 1299.9h0M190.9 1299.9h0M207.1 1300h0M223.3 1300h0M239.5 1300h0M255.7 1300h0M271.8 1300.1h0M288 1300.1h0M304.2 1300.1h0M320.4 1300.2h0M336.6 1300.2h0M352.7 1300.2h0M368.9 1300.2h0M385.1 1300.3h0M401.3 1300.3h0M417.5 1300.3h0M433.6 1300.3h0M449.8 1300.4h0M466 1300.4h0M482.2 1300.4h0M498.4 1300.5h0M514.5 1300.5h0M530.7 1300.5h0M546.9 1300.5h0M563.1 1300.6h0M579.3 1300.6h0M595.4 1300.6h0M611.6 1300.6h0M627.8 1300.7h0M644 1300.7h0M660.2 1300.7h0M676.3 1300.8h0M692.5 1300.8h0M708.7 1300.8h0M724.9 1300.8h0M741.1 1300.9h0M757.2 1300.9h0M69.6 1313.8h0M85.8 1313.8h0M102 1313.9h0M118.1 1313.9h0M134.3 1313.9h0M150.5 1314h0M166.7 1314h0M182.9 1314h0M199 1314h0M215.2 1314.1h0M231.4 1314.1h0M247.6 1314.1h0M263.8 1314.1h0M279.9 1314.2h0M296.1 1314.2h0M312.3 1314.2h0M328.5 1314.3h0M344.7 1314.3h0M360.8 1314.3h0M377 1314.3h0M393.2 1314.4h0M409.4 1314.4h0M425.6 1314.4h0M441.7 1314.5h0M457.9 1314.5h0M474.1 1314.5h0M490.3 1314.5h0M506.4 1314.6h0M522.6 1314.6h0M538.8 1314.6h0M555 1314.6h0M571.2 1314.7h0M587.3 1314.7h0M603.5 1314.7h0M619.7 1314.8h0M635.9 1314.8h0M652.1 1314.8h0M668.2 1314.8h0M684.4 1314.9h0M700.6 1314.9h0M716.8 1314.9h0M733 1314.9h0M749.1 1315h0M61.5 1327.9h0M77.7 1327.9h0M93.9 1327.9h0M110 1328h0M126.2 1328h0M142.4 1328h0M158.6 1328.1h0M174.8 1328.1h0M190.9 1328.1h0M207.1 1328.1h0M223.3 1328.2h0M239.5 1328.2h0M255.7 1328.2h0M271.8 1328.3h0M288 1328.3h0M304.2 1328.3h0M320.4 1328.3h0M336.6 1328.4h0M352.7 1328.4h0M368.9 1328.4h0M385.1 1328.4h0M401.3 1328.5h0M417.5 1328.5h0M433.6 1328.5h0M449.8 1328.6h0M466 1328.6h0M482.2 1328.6h0M498.4 1328.6h0M514.5 1328.7h0M530.7 1328.7h0M546.9 1328.7h0M563.1 1328.7h0M579.3 1328.8h0M595.4 1328.8h0M611.6 1328.8h0M627.8 1328.9h0M644 1328.9h0M660.2 1328.9h0M676.3 1328.9h0M692.5 1329h0M708.7 1329h0M724.9 1329h0M741.1 1329h0M757.2 1329.1h0M53.4 1342h0M69.6 1342h0M85.8 1342h0M102 1342.1h0M118.1 1342.1h0M134.3 1342.1h0M150.5 1342.1h0M166.7 1342.2h0M182.9 1342.2h0M199 1342.2h0M215.2 1342.2h0M231.4 1342.3h0M247.6 1342.3h0M263.8 1342.3h0M279.9 1342.4h0M296.1 1342.4h0M312.3 1342.4h0M328.5 1342.4h0M344.7 1342.5h0M360.8 1342.5h0M377 1342.5h0M393.2 1342.5h0M409.4 1342.6h0M425.6 1342.6h0M441.7 1342.6h0M457.9 1342.7h0M474.1 1342.7h0M490.3 1342.7h0M506.4 1342.7h0M522.6 1342.8h0M538.8 1342.8h0M555 1342.8h0M571.2 1342.9h0M587.3 1342.9h0M603.5 1342.9h0M619.7 1342.9h0M635.9 1343h0M652.1 1343h0M668.2 1343h0M684.4 1343h0M700.6 1343.1h0M716.8 1343.1h0M733 1343.1h0M749.1 1343.2h0M45.3 1356h0M61.5 1356.1h0M77.7 1356.1h0M93.9 1356.1h0M110 1356.2h0M126.2 1356.2h0M142.4 1356.2h0M158.6 1356.2h0M174.8 1356.3h0M190.9 1356.3h0M207.1 1356.3h0M223.3 1356.3h0M239.5 1356.4h0M255.7 1356.4h0M271.8 1356.4h0M288 1356.5h0M304.2 1356.5h0M320.4 1356.5h0M336.6 1356.5h0M352.7 1356.6h0M368.9 1356.6h0M385.1 1356.6h0M401.3 1356.7h0M417.5 1356.7h0M433.6 1356.7h0M449.8 1356.7h0M466 1356.8h0M482.2 1356.8h0M498.4 1356.8h0M514.5 1356.8h0M530.7 1356.9h0M546.9 1356.9h0M563.1 1356.9h0M579.3 1357h0M595.4 1357h0M611.6 1357h0M627.8 1357h0M644 1357.1h0M660.2 1357.1h0M676.3 1357.1h0M692.5 1357.1h0M708.7 1357.2h0M724.9 1357.2h0M741.1 1357.2h0M757.2 1357.3h0M53.4 1370.2h0M69.6 1370.2h0M85.8 1370.2h0M102 1370.2h0M118.1 1370.3h0M134.3 1370.3h0M150.5 1370.3h0M166.7 1370.3h0M182.9 1370.4h0M199 1370.4h0M215.2 1370.4h0M231.4 1370.5h0M247.6 1370.5h0M263.8 1370.5h0M279.9 1370.5h0M296.1 1370.6h0M312.3 1370.6h0M328.5 1370.6h0M344.7 1370.6h0M360.8 1370.7h0M377 1370.7h0M393.2 1370.7h0M409.4 1370.8h0M425.6 1370.8h0M441.7 1370.8h0M457.9 1370.8h0M474.1 1370.9h0M490.3 1370.9h0M506.4 1370.9h0M522.6 1370.9h0M538.8 1371h0M555 1371h0M571.2 1371h0M587.3 1371.1h0M603.5 1371.1h0M619.7 1371.1h0M635.9 1371.1h0M652.1 1371.2h0M668.2 1371.2h0M684.4 1371.2h0M700.6 1371.3h0M716.8 1371.3h0M733 1371.3h0M749.1 1371.3h0M45.3 1384.2h0M61.5 1384.3h0M77.7 1384.3h0M93.9 1384.3h0M110 1384.3h0M126.2 1384.4h0M142.4 1384.4h0M158.6 1384.4h0M174.8 1384.4h0M190.9 1384.5h0M207.1 1384.5h0M223.3 1384.5h0M239.5 1384.6h0M255.7 1384.6h0M271.8 1384.6h0M288 1384.6h0M304.2 1384.7h0M320.4 1384.7h0M336.6 1384.7h0M352.7 1384.7h0M368.9 1384.8h0M385.1 1384.8h0M401.3 1384.8h0M417.5 1384.9h0M433.6 1384.9h0M449.8 1384.9h0M466 1384.9h0M482.2 1385h0M498.4 1385h0M514.5 1385h0M530.7 1385.1h0M546.9 1385.1h0M563.1 1385.1h0M579.3 1385.1h0M595.4 1385.2h0M611.6 1385.2h0M627.8 1385.2h0M644 1385.2h0M660.2 1385.3h0M676.3 1385.3h0M692.5 1385.3h0M708.7 1385.4h0M724.9 1385.4h0M741.1 1385.4h0M757.2 1385.4h0M53.4 1398.3h0M69.6 1398.4h0M85.8 1398.4h0M102 1398.4h0M118.1 1398.4h0M134.3 1398.5h0M150.5 1398.5h0M166.7 1398.5h0M182.9 1398.6h0M199 1398.6h0M215.2 1398.6h0M231.4 1398.6h0M247.6 1398.7h0M263.8 1398.7h0M279.9 1398.7h0M296.1 1398.7h0M312.3 1398.8h0M328.5 1398.8h0M344.7 1398.8h0M360.8 1398.9h0M377 1398.9h0M393.2 1398.9h0M409.4 1398.9h0M425.6 1399h0M441.7 1399h0M457.9 1399h0M474.1 1399h0M490.3 1399.1h0M506.4 1399.1h0M522.6 1399.1h0M538.8 1399.2h0M555 1399.2h0M571.2 1399.2h0M587.3 1399.2h0M603.5 1399.3h0M619.7 1399.3h0M635.9 1399.3h0M652.1 1399.3h0M668.2 1399.4h0M684.4 1399.4h0M700.6 1399.4h0M716.8 1399.5h0M733 1399.5h0M749.1 1399.5h0M45.3 1412.4h0M61.5 1412.4h0M77.7 1412.5h0M93.9 1412.5h0M110 1412.5h0M126.2 1412.5h0M142.4 1412.6h0M158.6 1412.6h0M174.8 1412.6h0M190.9 1412.7h0M207.1 1412.7h0M223.3 1412.7h0M239.5 1412.7h0M255.7 1412.8h0M271.8 1412.8h0M288 1412.8h0M304.2 1412.8h0M320.4 1412.9h0M336.6 1412.9h0M352.7 1412.9h0M368.9 1413h0M385.1 1413h0M401.3 1413h0M417.5 1413h0M433.6 1413.1h0M449.8 1413.1h0M466 1413.1h0M482.2 1413.1h0M498.4 1413.2h0M514.5 1413.2h0M530.7 1413.2h0M546.9 1413.3h0M563.1 1413.3h0M579.3 1413.3h0M595.4 1413.3h0M611.6 1413.4h0M627.8 1413.4h0M644 1413.4h0M660.2 1413.5h0M676.3 1413.5h0M692.5 1413.5h0M708.7 1413.5h0M724.9 1413.6h0M741.1 1413.6h0M757.2 1413.6h0M37.2 1426.5h0M53.4 1426.5h0M69.6 1426.5h0M85.8 1426.6h0M102 1426.6h0M118.1 1426.6h0M134.3 1426.6h0M150.5 1426.7h0M166.7 1426.7h0M182.9 1426.7h0M199 1426.8h0M215.2 1426.8h0M231.4 1426.8h0M247.6 1426.8h0M263.8 1426.9h0M279.9 1426.9h0M296.1 1426.9h0M312.3 1427h0M328.5 1427h0M344.7 1427h0M360.8 1427h0M377 1427.1h0M393.2 1427.1h0M409.4 1427.1h0M425.6 1427.1h0M441.7 1427.2h0M457.9 1427.2h0M474.1 1427.2h0M490.3 1427.3h0M506.4 1427.3h0M522.6 1427.3h0M538.8 1427.3h0M555 1427.4h0M571.2 1427.4h0M587.3 1427.4h0M603.5 1427.4h0M619.7 1427.5h0M635.9 1427.5h0M652.1 1427.5h0M668.2 1427.6h0M684.4 1427.6h0M700.6 1427.6h0M716.8 1427.6h0M733 1427.7h0M749.1 1427.7h0M29.1 1440.6h0M45.3 1440.6h0M61.5 1440.6h0M77.7 1440.6h0M93.9 1440.7h0M110 1440.7h0M126.2 1440.7h0M142.4 1440.8h0M158.6 1440.8h0M174.8 1440.8h0M190.9 1440.8h0M207.1 1440.9h0M223.3 1440.9h0M239.5 1440.9h0M255.7 1440.9h0M271.8 1441h0M288 1441h0M304.2 1441h0M320.4 1441.1h0M336.6 1441.1h0M352.7 1441.1h0M368.9 1441.1h0M385.1 1441.2h0M401.3 1441.2h0M417.5 1441.2h0M433.6 1441.2h0M449.8 1441.3h0M466 1441.3h0M482.2 1441.3h0M498.4 1441.4h0M514.5 1441.4h0M530.7 1441.4h0M546.9 1441.4h0M563.1 1441.5h0M579.3 1441.5h0M595.4 1441.5h0M611.6 1441.5h0M627.8 1441.6h0M644 1441.6h0M660.2 1441.6h0M676.3 1441.7h0M692.5 1441.7h0M708.7 1441.7h0M724.9 1441.7h0M741.1 1441.8h0M757.2 1441.8h0M21.1 1454.6h0M37.2 1454.7h0M53.4 1454.7h0M69.6 1454.7h0M85.8 1454.7h0M102 1454.8h0M118.1 1454.8h0M134.3 1454.8h0M150.5 1454.9h0M166.7 1454.9h0M182.9 1454.9h0M199 1454.9h0M215.2 1455h0M231.4 1455h0M247.6 1455h0M263.8 1455h0M279.9 1455.1h0M296.1 1455.1h0M312.3 1455.1h0M328.5 1455.2h0M344.7 1455.2h0M360.8 1455.2h0M377 1455.2h0M393.2 1455.3h0M409.4 1455.3h0M425.6 1455.3h0M441.7 1455.4h0M457.9 1455.4h0M474.1 1455.4h0M490.3 1455.4h0M506.4 1455.5h0M522.6 1455.5h0M538.8 1455.5h0M555 1455.5h0M571.2 1455.6h0M587.3 1455.6h0M603.5 1455.6h0M619.7 1455.7h0M635.9 1455.7h0M652.1 1455.7h0M668.2 1455.7h0M684.4 1455.8h0M700.6 1455.8h0M716.8 1455.8h0M733 1455.8h0M749.1 1455.9h0M29.1 1468.7h0M45.3 1468.8h0M61.5 1468.8h0M77.7 1468.8h0M93.9 1468.8h0M110 1468.9h0M126.2 1468.9h0M142.4 1468.9h0M158.6 1469h0M174.8 1469h0M190.9 1469h0M207.1 1469h0M223.3 1469.1h0M239.5 1469.1h0M255.7 1469.1h0M271.8 1469.2h0M288 1469.2h0M304.2 1469.2h0M320.4 1469.2h0M336.6 1469.3h0M352.7 1469.3h0M368.9 1469.3h0M385.1 1469.3h0M401.3 1469.4h0M417.5 1469.4h0M433.6 1469.4h0M449.8 1469.5h0M466 1469.5h0M482.2 1469.5h0M498.4 1469.5h0M514.5 1469.6h0M530.7 1469.6h0M546.9 1469.6h0M563.1 1469.6h0M579.3 1469.7h0M595.4 1469.7h0M611.6 1469.7h0M627.8 1469.8h0M644 1469.8h0M660.2 1469.8h0M676.3 1469.8h0M692.5 1469.9h0M708.7 1469.9h0M724.9 1469.9h0M741.1 1469.9h0M757.2 1470h0M37.2 1482.8h0M53.4 1482.9h0M69.6 1482.9h0M85.8 1482.9h0M102 1483h0M118.1 1483h0M134.3 1483h0M150.5 1483h0M166.7 1483.1h0M182.9 1483.1h0M199 1483.1h0M215.2 1483.1h0M231.4 1483.2h0M247.6 1483.2h0M263.8 1483.2h0M279.9 1483.3h0M296.1 1483.3h0M312.3 1483.3h0M328.5 1483.3h0M344.7 1483.4h0M360.8 1483.4h0M377 1483.4h0M393.2 1483.4h0M409.4 1483.5h0M425.6 1483.5h0M441.7 1483.5h0M457.9 1483.6h0M474.1 1483.6h0M490.3 1483.6h0M506.4 1483.6h0M522.6 1483.7h0M538.8 1483.7h0M555 1483.7h0M571.2 1483.8h0M587.3 1483.8h0M603.5 1483.8h0M619.7 1483.8h0M635.9 1483.9h0M652.1 1483.9h0M668.2 1483.9h0M684.4 1483.9h0M700.6 1484h0M716.8 1484h0M733 1484h0M749.1 1484.1h0M45.3 1496.9h0M61.5 1497h0M77.7 1497h0M93.9 1497h0M110 1497.1h0M126.2 1497.1h0M142.4 1497.1h0M158.6 1497.1h0M174.8 1497.2h0M190.9 1497.2h0M207.1 1497.2h0M223.3 1497.2h0M239.5 1497.3h0M255.7 1497.3h0M271.8 1497.3h0M288 1497.4h0M304.2 1497.4h0M320.4 1497.4h0M336.6 1497.4h0M352.7 1497.5h0M368.9 1497.5h0M385.1 1497.5h0M401.3 1497.6h0M417.5 1497.6h0M433.6 1497.6h0M449.8 1497.6h0M466 1497.7h0M482.2 1497.7h0M498.4 1497.7h0M514.5 1497.7h0M530.7 1497.8h0M546.9 1497.8h0M563.1 1497.8h0M579.3 1497.9h0M595.4 1497.9h0M611.6 1497.9h0M627.8 1497.9h0M644 1498h0M660.2 1498h0M676.3 1498h0M692.5 1498h0M708.7 1498.1h0M724.9 1498.1h0M741.1 1498.1h0M757.2 1498.2h0M69.6 1511.1h0M85.8 1511.1h0M102 1511.1h0M118.1 1511.2h0M134.3 1511.2h0M150.5 1511.2h0M166.7 1511.2h0M182.9 1511.3h0M199 1511.3h0M215.2 1511.3h0M231.4 1511.4h0M247.6 1511.4h0M263.8 1511.4h0M279.9 1511.4h0M296.1 1511.5h0M312.3 1511.5h0M328.5 1511.5h0M344.7 1511.5h0M360.8 1511.6h0M377 1511.6h0M393.2 1511.6h0M409.4 1511.7h0M425.6 1511.7h0M441.7 1511.7h0M457.9 1511.7h0M474.1 1511.8h0M490.3 1511.8h0M506.4 1511.8h0M522.6 1511.8h0M538.8 1511.9h0M555 1511.9h0M571.2 1511.9h0M587.3 1512h0M603.5 1512h0M619.7 1512h0M635.9 1512h0M652.1 1512.1h0M668.2 1512.1h0M684.4 1512.1h0M700.6 1512.2h0M716.8 1512.2h0M733 1512.2h0M749.1 1512.2h0M110 1525.2h0M126.2 1525.3h0M142.4 1525.3h0M158.6 1525.3h0M174.8 1525.3h0M190.9 1525.4h0M207.1 1525.4h0M223.3 1525.4h0M239.5 1525.5h0M255.7 1525.5h0M271.8 1525.5h0M288 1525.5h0M304.2 1525.6h0M320.4 1525.6h0M336.6 1525.6h0M352.7 1525.6h0M368.9 1525.7h0M385.1 1525.7h0M401.3 1525.7h0M417.5 1525.8h0M433.6 1525.8h0M449.8 1525.8h0M466 1525.8h0M482.2 1525.9h0M498.4 1525.9h0M514.5 1525.9h0M530.7 1526h0M546.9 1526h0M563.1 1526h0M579.3 1526h0M595.4 1526.1h0M611.6 1526.1h0M627.8 1526.1h0M644 1526.1h0M660.2 1526.2h0M676.3 1526.2h0M692.5 1526.2h0M708.7 1526.3h0M724.9 1526.3h0M741.1 1526.3h0M757.2 1526.3h0M118.1 1539.3h0M134.3 1539.4h0M150.5 1539.4h0M166.7 1539.4h0M182.9 1539.5h0M199 1539.5h0M215.2 1539.5h0M231.4 1539.5h0M247.6 1539.6h0M263.8 1539.6h0M279.9 1539.6h0M296.1 1539.6h0M312.3 1539.7h0M328.5 1539.7h0M344.7 1539.7h0M360.8 1539.8h0M377 1539.8h0M393.2 1539.8h0M409.4 1539.8h0M425.6 1539.9h0M441.7 1539.9h0M457.9 1539.9h0M474.1 1539.9h0M490.3 1540h0M506.4 1540h0M522.6 1540h0M538.8 1540.1h0M555 1540.1h0M571.2 1540.1h0M587.3 1540.1h0M603.5 1540.2h0M619.7 1540.2h0M635.9 1540.2h0M652.1 1540.2h0M668.2 1540.3h0M684.4 1540.3h0M700.6 1540.3h0M716.8 1540.4h0M733 1540.4h0M749.1 1540.4h0M126.2 1553.4h0M142.4 1553.5h0M158.6 1553.5h0M174.8 1553.5h0M190.9 1553.6h0M207.1 1553.6h0M223.3 1553.6h0M239.5 1553.6h0M255.7 1553.7h0M271.8 1553.7h0M288 1553.7h0M304.2 1553.7h0M320.4 1553.8h0M336.6 1553.8h0M352.7 1553.8h0M368.9 1553.9h0M385.1 1553.9h0M401.3 1553.9h0M417.5 1553.9h0M433.6 1554h0M449.8 1554h0M466 1554h0M482.2 1554h0M498.4 1554.1h0M514.5 1554.1h0M530.7 1554.1h0M546.9 1554.2h0M563.1 1554.2h0M579.3 1554.2h0M595.4 1554.2h0M611.6 1554.3h0M627.8 1554.3h0M644 1554.3h0M660.2 1554.4h0M676.3 1554.4h0M692.5 1554.4h0M708.7 1554.4h0M724.9 1554.5h0M741.1 1554.5h0M757.2 1554.5h0M134.3 1567.5h0M150.5 1567.6h0M166.7 1567.6h0M182.9 1567.6h0M199 1567.7h0M215.2 1567.7h0M231.4 1567.7h0M247.6 1567.7h0M263.8 1567.8h0M279.9 1567.8h0M296.1 1567.8h0M312.3 1567.9h0M328.5 1567.9h0M344.7 1567.9h0M360.8 1567.9h0M377 1568h0M393.2 1568h0M409.4 1568h0M425.6 1568h0M441.7 1568.1h0M457.9 1568.1h0M474.1 1568.1h0M490.3 1568.2h0M506.4 1568.2h0M522.6 1568.2h0M538.8 1568.2h0M555 1568.3h0M571.2 1568.3h0M587.3 1568.3h0M603.5 1568.3h0M619.7 1568.4h0M635.9 1568.4h0M652.1 1568.4h0M668.2 1568.5h0M684.4 1568.5h0M700.6 1568.5h0M716.8 1568.5h0M733 1568.6h0M749.1 1568.6h0M142.4 1581.7h0M158.6 1581.7h0M174.8 1581.7h0M190.9 1581.7h0M207.1 1581.8h0M223.3 1581.8h0M239.5 1581.8h0M255.7 1581.8h0M271.8 1581.9h0M288 1581.9h0M304.2 1581.9h0M320.4 1582h0M336.6 1582h0M352.7 1582h0M368.9 1582h0M417.5 1582.1h0M433.6 1582.1h0M449.8 1582.2h0M466 1582.2h0M498.4 1582.3h0M514.5 1582.3h0M530.7 1582.3h0M546.9 1582.3h0M563.1 1582.4h0M579.3 1582.4h0M595.4 1582.4h0M611.6 1582.4h0M627.8 1582.5h0M644 1582.5h0M660.2 1582.5h0M676.3 1582.6h0M692.5 1582.6h0M708.7 1582.6h0M724.9 1582.6h0M741.1 1582.7h0M757.2 1582.7h0M150.5 1595.8h0M182.9 1595.8h0M199 1595.8h0M215.2 1595.9h0M231.4 1595.9h0M247.6 1595.9h0M263.8 1595.9h0M279.9 1596h0M328.5 1596.1h0M344.7 1596.1h0M360.8 1596.1h0M441.7 1596.3h0M506.4 1596.4h0M522.6 1596.4h0M538.8 1596.4h0M555 1596.4h0M571.2 1596.5h0M587.3 1596.5h0M603.5 1596.5h0M619.7 1596.6h0M635.9 1596.6h0M652.1 1596.6h0M668.2 1596.6h0M684.4 1596.7h0M700.6 1596.7h0M716.8 1596.7h0M733 1596.7h0M749.1 1596.8h0M158.6 1609.9h0M174.8 1609.9h0M190.9 1609.9h0M207.1 1609.9h0M223.3 1610h0M239.5 1610h0M255.7 1610h0M271.8 1610.1h0M288 1610.1h0M498.4 1610.4h0M514.5 1610.5h0M530.7 1610.5h0M546.9 1610.5h0M563.1 1610.5h0M579.3 1610.6h0M595.4 1610.6h0M611.6 1610.6h0M627.8 1610.7h0M644 1610.7h0M660.2 1610.7h0M676.3 1610.7h0M692.5 1610.8h0M708.7 1610.8h0M724.9 1610.8h0M741.1 1610.8h0M757.2 1610.9h0"/>
<clipPath id="clipb"><rect x="0" y="1028" width="760" height="581"/></clipPath>
<clipPath id="clipc"><rect x="0" y="1650" width="749" height="581.5"/></clipPath>
<filter id="bl3" x="-5%" y="-5%" width="110%" height="110%"><feGaussianBlur stdDeviation="2.2"/></filter>
<filter id="bl10" x="-50%" y="-50%" width="200%" height="200%"><feGaussianBlur stdDeviation="9"/></filter>
<filter id="bl5" x="-20%" y="-20%" width="140%" height="140%"><feGaussianBlur stdDeviation="4"/></filter>
<mask id="tm" maskUnits="userSpaceOnUse" x="0" y="1000" width="800" height="640"><use href="#allsp" stroke="#fff" stroke-width="24" stroke-linecap="round" fill="none"/></mask>
<g id="tissue">
<use href="#allsp" stroke="#e7e0f1" stroke-width="25" stroke-linecap="round" fill="none" filter="url(#bl3)"/>
<polyline points="246.7,1046.4 206.2,1060.4 181.9,1074.5 173.9,1088.6 149.6,1102.6 141.5,1116.7 133.4,1130.8 125.3,1144.8 117.2,1158.9 109.1,1173 101,1187.1 93,1201.2 84.9,1215.2 76.8,1229.3 68.7,1243.4 76.8,1257.5 68.7,1271.6 60.6,1285.6" fill="none" stroke="#dcaedc" stroke-width="9" stroke-linejoin="round" stroke-linecap="round" filter="url(#bl3)" opacity="0.9"/>
<polyline points="61.6,1285.6 69.7,1299.7 61.6,1313.8 53.5,1327.9 45.4,1342 37.3,1356 45.4,1370.2 37.3,1384.2 45.4,1398.3 37.3,1412.4 29.2,1426.5 21.1,1440.6 13.1,1454.6 21.1,1468.7 29.2,1482.8 37.3,1496.9" fill="none" stroke="#d6cdea" stroke-width="8" stroke-linejoin="round" stroke-linecap="round" filter="url(#bl3)" opacity="0.9"/>
<g mask="url(#tm)">
<ellipse cx="250" cy="1150" rx="95" ry="95" fill="#f0cfe9" opacity="0.55" filter="url(#bl10)"/>
<ellipse cx="200" cy="1500" rx="150" ry="70" fill="#f0cfe9" opacity="0.5" filter="url(#bl10)"/>
<ellipse cx="120" cy="1380" rx="70" ry="90" fill="#efd6ee" opacity="0.45" filter="url(#bl10)"/>
</g>
<ellipse cx="346" cy="1274" rx="36" ry="42" fill="#928cc4" filter="url(#bl10)"/>
<ellipse cx="346" cy="1270" rx="20" ry="24" fill="#8783bd" filter="url(#bl10)"/>
<ellipse cx="538" cy="1140" rx="25" ry="40" fill="#9a95c9" filter="url(#bl10)"/>
<ellipse cx="538" cy="1140" rx="12" ry="22" fill="#908bc3" filter="url(#bl10)"/>
<ellipse cx="690" cy="1370" rx="26" ry="45" fill="#b4b0dc" opacity="0.8" filter="url(#bl10)"/>
<ellipse cx="565" cy="1545" rx="28" ry="36" fill="#aaa5d6" opacity="0.85" filter="url(#bl10)"/>
<ellipse cx="470" cy="1575" rx="45" ry="24" fill="#a9a4d6" opacity="0.85" filter="url(#bl10)"/>
<ellipse cx="610" cy="1470" rx="80" ry="40" fill="#c2bee2" opacity="0.6" filter="url(#bl10)"/>
<ellipse cx="330" cy="1480" rx="50" ry="70" fill="#c9c4e6" opacity="0.5" filter="url(#bl10)"/>
<ellipse cx="640" cy="1050" rx="40" ry="18" fill="#b4b0dc" opacity="0.7" filter="url(#bl10)"/>
</g>
</defs>
<g clip-path="url(#clipb)">
<use href="#tissue"/>
<use href="#allsp" stroke="#fff" stroke-opacity="0.4" stroke-width="12.8" stroke-linecap="round" fill="none"/>
<g stroke-width="10.6" stroke-linecap="round" fill="none">
<path stroke="#250a6b" d="M579.3 1047h0M603.5 1061.1h0M700.6 1061.3h0M288 1074.7h0M320.4 1074.7h0M530.7 1075.1h0M595.4 1075.2h0M644 1075.3h0M247.6 1088.7h0M490.3 1089.1h0M587.3 1089.3h0M158.6 1102.6h0M239.5 1102.8h0M611.6 1103.4h0M247.6 1116.9h0M336.6 1131.1h0M563.1 1131.5h0M579.3 1131.5h0M595.4 1131.5h0M328.5 1145.2h0M474.1 1145.4h0M506.4 1145.5h0M555 1145.6h0M619.7 1145.7h0M304.2 1159.2h0M336.6 1159.3h0M644 1159.8h0M660.2 1159.8h0M676.3 1159.9h0M724.9 1159.9h0M199 1173.1h0M522.6 1173.7h0M538.8 1173.7h0M571.2 1173.8h0M619.7 1173.9h0M635.9 1173.9h0M733 1174h0M288 1187.4h0M336.6 1187.5h0M417.5 1187.6h0M482.2 1187.7h0M579.3 1187.9h0M158.6 1215.3h0M190.9 1215.4h0M304.2 1215.6h0M320.4 1215.6h0M368.9 1215.7h0M134.3 1229.4h0M377 1229.8h0M409.4 1229.9h0M425.6 1229.9h0M474.1 1230h0M522.6 1230h0M603.5 1230.2h0M652.1 1230.3h0M700.6 1230.4h0M716.8 1230.4h0M733 1230.4h0M77.7 1243.4h0M207.1 1243.6h0M223.3 1243.6h0M288 1243.7h0M304.2 1243.8h0M385.1 1243.9h0M482.2 1244.1h0M498.4 1244.1h0M563.1 1244.2h0M579.3 1244.2h0M595.4 1244.3h0M757.2 1244.5h0M118.1 1257.5h0M279.9 1257.8h0M296.1 1257.8h0M377 1258h0M409.4 1258h0M506.4 1258.2h0M587.3 1258.3h0M733 1258.6h0M320.4 1272h0M385.1 1272.1h0M401.3 1272.1h0M417.5 1272.1h0M530.7 1272.3h0M611.6 1272.5h0M724.9 1272.7h0M279.9 1286h0M296.1 1286h0M328.5 1286.1h0M344.7 1286.1h0M377 1286.2h0M474.1 1286.3h0M635.9 1286.6h0M700.6 1286.7h0M716.8 1286.7h0M207.1 1300h0M223.3 1300h0M255.7 1300h0M288 1300.1h0M352.7 1300.2h0M385.1 1300.3h0M498.4 1300.5h0M166.7 1314h0M312.3 1314.2h0M360.8 1314.3h0M425.6 1314.4h0M635.9 1314.8h0M207.1 1328.1h0M271.8 1328.3h0M336.6 1328.4h0M417.5 1328.5h0M514.5 1328.7h0M692.5 1329h0M708.7 1329h0M724.9 1329h0M118.1 1342.1h0M199 1342.2h0M231.4 1342.3h0M247.6 1342.3h0M441.7 1342.6h0M538.8 1342.8h0M603.5 1342.9h0M652.1 1343h0M684.4 1343h0M733 1343.1h0M271.8 1356.4h0M320.4 1356.5h0M660.2 1357.1h0M150.5 1370.3h0M231.4 1370.5h0M312.3 1370.6h0M344.7 1370.6h0M490.3 1370.9h0M571.2 1371h0M61.5 1384.3h0M126.2 1384.4h0M190.9 1384.5h0M271.8 1384.6h0M368.9 1384.8h0M449.8 1384.9h0M563.1 1385.1h0M627.8 1385.2h0M660.2 1385.3h0M692.5 1385.3h0M182.9 1398.6h0M312.3 1398.8h0M393.2 1398.9h0M522.6 1399.1h0M668.2 1399.4h0M223.3 1412.7h0M239.5 1412.7h0M255.7 1412.8h0M352.7 1412.9h0M449.8 1413.1h0M466 1413.1h0M482.2 1413.1h0M611.6 1413.4h0M53.4 1426.5h0M166.7 1426.7h0M182.9 1426.7h0M215.2 1426.8h0M279.9 1426.9h0M328.5 1427h0M425.6 1427.1h0M522.6 1427.3h0M619.7 1427.5h0M635.9 1427.5h0M733 1427.7h0M45.3 1440.6h0M190.9 1440.8h0M223.3 1440.9h0M320.4 1441.1h0M336.6 1441.1h0M433.6 1441.2h0M563.1 1441.5h0M627.8 1441.6h0M644 1441.6h0M150.5 1454.9h0M182.9 1454.9h0M231.4 1455h0M312.3 1455.1h0M409.4 1455.3h0M425.6 1455.3h0M441.7 1455.4h0M700.6 1455.8h0M749.1 1455.9h0M190.9 1469h0M223.3 1469.1h0M498.4 1469.5h0M692.5 1469.9h0M724.9 1469.9h0M53.4 1482.9h0M166.7 1483.1h0M328.5 1483.3h0M668.2 1483.9h0M700.6 1484h0M93.9 1497h0M110 1497.1h0M239.5 1497.3h0M271.8 1497.3h0M368.9 1497.5h0M433.6 1497.6h0M466 1497.7h0M546.9 1497.8h0M676.3 1498h0M85.8 1511.1h0M134.3 1511.2h0M441.7 1511.7h0M587.3 1512h0M603.5 1512h0M668.2 1512.1h0M684.4 1512.1h0M368.9 1525.7h0M433.6 1525.8h0M498.4 1525.9h0M724.9 1526.3h0M757.2 1526.3h0M312.3 1539.7h0M409.4 1539.8h0M457.9 1539.9h0M587.3 1540.1h0M126.2 1553.4h0M223.3 1553.6h0M482.2 1554h0M595.4 1554.2h0M611.6 1554.3h0M692.5 1554.4h0M199 1567.7h0M231.4 1567.7h0M344.7 1567.9h0M474.1 1568.1h0M490.3 1568.2h0M538.8 1568.2h0M304.2 1581.9h0M352.7 1582h0M498.4 1582.3h0M530.7 1582.3h0M757.2 1582.7h0M182.9 1595.8h0M231.4 1595.9h0M344.7 1596.1h0M538.8 1596.4h0M571.2 1596.5h0M603.5 1596.5h0M635.9 1596.6h0M652.1 1596.6h0M733 1596.7h0M174.8 1609.9h0M288 1610.1h0M498.4 1610.4h0M530.7 1610.5h0M627.8 1610.7h0M660.2 1610.7h0"/>
<path stroke="#280f8d" d="M619.7 1033h0M538.8 1061h0M174.8 1102.6h0M352.7 1131.1h0M498.4 1159.6h0M749.1 1174.1h0M546.9 1187.8h0M644 1188h0M660.2 1188h0M182.9 1201.3h0M457.9 1201.8h0M555 1201.9h0M700.6 1202.2h0M271.8 1215.5h0M401.3 1215.8h0M417.5 1215.8h0M514.5 1215.9h0M595.4 1216.1h0M676.3 1216.2h0M336.6 1243.8h0M352.7 1243.8h0M741.1 1244.5h0M360.8 1258h0M255.7 1271.9h0M708.7 1272.6h0M571.2 1286.5h0M110 1299.8h0M304.2 1300.1h0M644 1300.7h0M69.6 1313.8h0M231.4 1314.1h0M320.4 1328.3h0M627.8 1328.9h0M263.8 1342.3h0M328.5 1342.4h0M126.2 1356.2h0M482.2 1356.8h0M676.3 1357.1h0M223.3 1384.5h0M255.7 1384.6h0M320.4 1384.7h0M733 1399.5h0M174.8 1412.6h0M190.9 1412.7h0M263.8 1426.9h0M296.1 1426.9h0M377 1427.1h0M587.3 1427.4h0M288 1441h0M466 1441.3h0M652.1 1455.7h0M45.3 1468.8h0M288 1469.2h0M158.6 1497.1h0M530.7 1497.8h0M563.1 1497.8h0M724.9 1498.1h0M118.1 1511.2h0M506.4 1511.8h0M716.8 1512.2h0M336.6 1525.6h0M708.7 1526.3h0M150.5 1539.4h0M182.9 1539.5h0M441.7 1539.9h0M603.5 1540.2h0M733 1540.4h0M660.2 1554.4h0M676.3 1554.4h0M546.9 1582.3h0M595.4 1582.4h0M644 1582.5h0M724.9 1582.6h0M741.1 1582.7h0M676.3 1610.7h0"/>
<path stroke="#2817ac" d="M231.4 1060.5h0M652.1 1061.2h0M579.3 1075.2h0M684.4 1089.4h0M563.1 1103.3h0M474.1 1117.2h0M223.3 1130.9h0M530.7 1131.4h0M279.9 1145.1h0M312.3 1173.3h0M118.1 1201.2h0M393.2 1201.6h0M474.1 1201.8h0M716.8 1202.2h0M644 1216.2h0M724.9 1216.3h0M457.9 1229.9h0M749.1 1230.4h0M368.9 1243.9h0M449.8 1244h0M546.9 1244.2h0M102 1257.5h0M393.2 1258h0M538.8 1258.3h0M652.1 1258.4h0M174.8 1271.7h0M644 1272.5h0M692.5 1272.6h0M312.3 1286.1h0M684.4 1286.7h0M320.4 1300.2h0M336.6 1300.2h0M749.1 1315h0M579.3 1328.8h0M102 1342.1h0M279.9 1342.4h0M571.2 1342.9h0M635.9 1343h0M724.9 1357.2h0M166.7 1370.3h0M215.2 1370.4h0M296.1 1370.6h0M328.5 1370.6h0M522.6 1370.9h0M635.9 1371.1h0M652.1 1371.2h0M579.3 1385.1h0M69.6 1398.4h0M102 1398.4h0M150.5 1398.5h0M425.6 1399h0M490.3 1399.1h0M110 1412.5h0M433.6 1413.1h0M498.4 1413.2h0M579.3 1413.3h0M595.4 1413.3h0M69.6 1426.5h0M538.8 1427.3h0M603.5 1427.4h0M77.7 1440.6h0M676.3 1441.7h0M166.7 1454.9h0M538.8 1455.5h0M336.6 1469.3h0M530.7 1469.6h0M45.3 1496.9h0M182.9 1511.3h0M328.5 1511.5h0M457.9 1511.7h0M126.2 1525.3h0M401.3 1525.7h0M692.5 1526.2h0M215.2 1539.5h0M474.1 1539.9h0M190.9 1553.6h0M644 1554.3h0M708.7 1554.4h0M312.3 1567.9h0M360.8 1596.1h0M684.4 1596.7h0M239.5 1610h0M595.4 1610.6h0M692.5 1610.8h0"/>
<path stroke="#2423c6" d="M595.4 1047h0M676.3 1047.1h0M328.5 1060.6h0M255.7 1074.6h0M757.2 1075.5h0M514.5 1103.2h0M603.5 1117.5h0M514.5 1131.4h0M603.5 1145.6h0M514.5 1159.6h0M546.9 1159.6h0M579.3 1159.7h0M134.3 1173h0M603.5 1173.8h0M684.4 1174h0M126.2 1187.1h0M466 1187.7h0M514.5 1187.8h0M595.4 1187.9h0M522.6 1201.9h0M579.3 1216.1h0M393.2 1229.8h0M320.4 1243.8h0M150.5 1257.6h0M328.5 1257.9h0M425.6 1258.1h0M336.6 1272h0M449.8 1272.2h0M741.1 1272.7h0M150.5 1285.8h0M522.6 1286.4h0M401.3 1300.3h0M627.8 1300.7h0M757.2 1300.9h0M279.9 1314.2h0M490.3 1314.5h0M239.5 1328.2h0M530.7 1328.7h0M595.4 1328.8h0M166.7 1342.2h0M377 1342.5h0M142.4 1356.2h0M417.5 1356.7h0M449.8 1356.7h0M563.1 1356.9h0M579.3 1357h0M85.8 1370.2h0M247.6 1370.5h0M587.3 1371.1h0M668.2 1371.2h0M433.6 1384.9h0M546.9 1385.1h0M595.4 1385.2h0M611.6 1385.2h0M279.9 1398.7h0M587.3 1399.2h0M619.7 1399.3h0M652.1 1399.3h0M320.4 1412.9h0M498.4 1441.4h0M546.9 1441.4h0M611.6 1441.5h0M134.3 1454.8h0M457.9 1455.4h0M474.1 1455.4h0M126.2 1468.9h0M271.8 1469.2h0M676.3 1469.8h0M69.6 1482.9h0M263.8 1483.2h0M312.3 1483.3h0M393.2 1483.4h0M555 1483.7h0M733 1484h0M61.5 1497h0M255.7 1497.3h0M304.2 1497.4h0M741.1 1498.1h0M158.6 1525.3h0M466 1525.8h0M563.1 1526h0M555 1540.1h0M571.2 1540.1h0M174.8 1553.5h0M288 1553.7h0M466 1554h0M498.4 1554.1h0M263.8 1567.8h0M506.4 1568.2h0M668.2 1568.5h0M239.5 1581.8h0M466 1582.2h0M660.2 1582.5h0M692.5 1582.6h0M328.5 1596.1h0M757.2 1610.9h0"/>
<path stroke="#213fcc" d="M555 1032.8h0M587.3 1032.9h0M603.5 1032.9h0M304.2 1046.5h0M619.7 1061.1h0M271.8 1074.6h0M555 1089.2h0M749.1 1089.5h0M498.4 1103.2h0M530.7 1103.3h0M546.9 1103.3h0M579.3 1103.3h0M182.9 1116.8h0M312.3 1117h0M571.2 1117.4h0M482.2 1131.3h0M312.3 1145.2h0M490.3 1145.5h0M239.5 1159.1h0M320.4 1159.3h0M247.6 1173.2h0M296.1 1173.3h0M328.5 1173.4h0M457.9 1173.6h0M587.3 1173.8h0M652.1 1173.9h0M716.8 1174h0M255.7 1187.3h0M271.8 1187.4h0M401.3 1187.6h0M279.9 1201.5h0M571.2 1202h0M433.6 1215.8h0M506.4 1230h0M587.3 1230.2h0M676.3 1244.4h0M692.5 1244.4h0M85.8 1257.5h0M619.7 1258.4h0M684.4 1258.5h0M700.6 1258.5h0M716.8 1258.6h0M93.9 1271.6h0M595.4 1272.4h0M215.2 1285.9h0M239.5 1300h0M530.7 1300.5h0M579.3 1300.6h0M247.6 1314.1h0M328.5 1314.3h0M474.1 1314.5h0M110 1328h0M158.6 1328.1h0M190.9 1328.1h0M288 1328.3h0M385.1 1328.4h0M312.3 1342.4h0M190.9 1356.3h0M255.7 1356.4h0M352.7 1356.6h0M757.2 1357.3h0M102 1370.2h0M393.2 1370.7h0M619.7 1371.1h0M700.6 1371.3h0M385.1 1384.8h0M514.5 1385h0M296.1 1398.7h0M328.5 1398.8h0M360.8 1398.9h0M409.4 1427.1h0M441.7 1427.2h0M692.5 1441.7h0M757.2 1441.8h0M69.6 1454.7h0M279.9 1455.1h0M555 1455.5h0M368.9 1469.3h0M199 1483.1h0M627.8 1497.9h0M692.5 1498h0M166.7 1511.2h0M215.2 1511.3h0M377 1511.6h0M733 1512.2h0M207.1 1525.4h0M134.3 1539.4h0M635.9 1540.2h0M239.5 1553.6h0M255.7 1553.7h0M368.9 1553.9h0M401.3 1553.9h0M449.8 1554h0M514.5 1554.1h0M530.7 1554.1h0M134.3 1567.5h0M409.4 1568h0M425.6 1568h0M522.6 1568.2h0M619.7 1568.4h0M652.1 1568.4h0M174.8 1581.7h0M417.5 1582.1h0M449.8 1582.2h0M255.7 1610h0"/>
<path stroke="#2062be" d="M635.9 1033h0M571.2 1061.1h0M635.9 1061.2h0M546.9 1075.1h0M627.8 1075.2h0M231.4 1088.7h0M328.5 1088.8h0M522.6 1089.1h0M603.5 1089.3h0M255.7 1102.8h0M288 1102.8h0M304.2 1102.9h0M263.8 1116.9h0M506.4 1117.3h0M498.4 1131.4h0M150.5 1144.9h0M741.1 1160h0M757.2 1160h0M506.4 1173.7h0M724.9 1188.1h0M741.1 1188.1h0M733 1202.2h0M749.1 1202.3h0M142.4 1215.3h0M498.4 1215.9h0M611.6 1216.1h0M85.8 1229.3h0M296.1 1229.7h0M312.3 1229.7h0M668.2 1230.3h0M239.5 1243.7h0M255.7 1243.7h0M433.6 1244h0M466 1244h0M644 1244.3h0M134.3 1257.6h0M344.7 1257.9h0M571.2 1258.3h0M603.5 1258.4h0M158.6 1271.7h0M546.9 1272.4h0M247.6 1285.9h0M360.8 1286.1h0M457.9 1286.3h0M490.3 1286.4h0M538.8 1286.4h0M668.2 1286.7h0M77.7 1299.7h0M158.6 1299.9h0M271.8 1300.1h0M433.6 1300.3h0M660.2 1300.7h0M676.3 1300.8h0M85.8 1313.8h0M118.1 1313.9h0M296.1 1314.2h0M393.2 1314.4h0M555 1314.6h0M668.2 1314.8h0M255.7 1328.2h0M449.8 1328.6h0M498.4 1328.6h0M611.6 1328.8h0M644 1328.9h0M490.3 1342.7h0M77.7 1356.1h0M207.1 1356.3h0M288 1356.5h0M498.4 1356.8h0M457.9 1370.8h0M239.5 1384.6h0M336.6 1384.7h0M498.4 1385h0M134.3 1398.5h0M166.7 1398.5h0M457.9 1399h0M627.8 1413.4h0M676.3 1413.5h0M692.5 1413.5h0M231.4 1426.8h0M360.8 1427h0M506.4 1427.3h0M174.8 1440.8h0M239.5 1440.9h0M304.2 1441h0M385.1 1441.2h0M417.5 1441.2h0M449.8 1441.3h0M595.4 1441.5h0M619.7 1455.7h0M579.3 1469.7h0M215.2 1483.1h0M538.8 1483.7h0M587.3 1483.8h0M603.5 1483.8h0M77.7 1497h0M514.5 1497.7h0M757.2 1498.2h0M425.6 1511.7h0M474.1 1511.8h0M304.2 1525.6h0M530.7 1526h0M352.7 1553.8h0M546.9 1554.2h0M279.9 1567.8h0M393.2 1568h0M603.5 1568.3h0M676.3 1582.6h0M724.9 1610.8h0"/>
<path stroke="#2080a2" d="M546.9 1046.9h0M627.8 1047.1h0M182.9 1088.6h0M538.8 1089.2h0M652.1 1089.4h0M668.2 1089.4h0M142.4 1130.8h0M546.9 1131.5h0M223.3 1159.1h0M255.7 1159.1h0M482.2 1159.5h0M118.1 1173h0M182.9 1173.1h0M555 1173.7h0M563.1 1187.8h0M627.8 1188h0M102 1201.2h0M296.1 1201.5h0M409.4 1201.7h0M635.9 1202.1h0M684.4 1202.1h0M93.9 1215.2h0M110 1215.3h0M660.2 1216.2h0M692.5 1216.2h0M741.1 1216.3h0M118.1 1229.4h0M215.2 1229.5h0M93.9 1243.4h0M530.7 1244.2h0M627.8 1244.3h0M724.9 1244.5h0M182.9 1257.7h0M247.6 1257.8h0M555 1258.3h0M223.3 1271.8h0M352.7 1272h0M514.5 1272.3h0M627.8 1272.5h0M757.2 1272.7h0M182.9 1285.8h0M393.2 1286.2h0M425.6 1286.2h0M652.1 1286.6h0M733 1286.8h0M563.1 1300.6h0M741.1 1300.9h0M77.7 1327.9h0M93.9 1327.9h0M304.2 1328.3h0M433.6 1328.5h0M660.2 1328.9h0M676.3 1328.9h0M757.2 1329.1h0M344.7 1342.5h0M393.2 1342.5h0M425.6 1342.6h0M555 1342.8h0M239.5 1356.4h0M368.9 1356.6h0M385.1 1356.6h0M692.5 1357.1h0M708.7 1357.2h0M199 1370.4h0M538.8 1371h0M555 1371h0M684.4 1371.2h0M77.7 1384.3h0M207.1 1384.5h0M304.2 1384.7h0M757.2 1385.4h0M85.8 1398.4h0M231.4 1398.6h0M409.4 1398.9h0M571.2 1399.2h0M684.4 1399.4h0M749.1 1399.5h0M77.7 1412.5h0M401.3 1413h0M514.5 1413.2h0M530.7 1413.2h0M563.1 1413.3h0M724.9 1413.6h0M199 1426.8h0M247.6 1426.8h0M457.9 1427.2h0M490.3 1427.3h0M684.4 1427.6h0M29.1 1440.6h0M93.9 1440.7h0M158.6 1440.8h0M368.9 1441.1h0M724.9 1441.7h0M53.4 1454.7h0M118.1 1454.8h0M377 1455.2h0M522.6 1455.5h0M93.9 1468.8h0M158.6 1469h0M239.5 1469.1h0M304.2 1469.2h0M611.6 1469.7h0M37.2 1482.8h0M716.8 1484h0M142.4 1497.1h0M320.4 1497.4h0M401.3 1497.6h0M611.6 1497.9h0M644 1498h0M708.7 1498.1h0M247.6 1511.4h0M296.1 1511.5h0M522.6 1511.8h0M271.8 1525.5h0M385.1 1525.7h0M449.8 1525.8h0M514.5 1525.9h0M377 1539.8h0M668.2 1540.3h0M320.4 1553.8h0M433.6 1554h0M757.2 1554.5h0M733 1568.6h0M142.4 1581.7h0M223.3 1581.8h0M247.6 1595.9h0M716.8 1596.7h0M579.3 1610.6h0M611.6 1610.6h0"/>
<path stroke="#1f9a8a" d="M733 1033.1h0M255.7 1046.4h0M288 1046.5h0M611.6 1047h0M279.9 1060.6h0M684.4 1061.2h0M514.5 1075h0M676.3 1075.3h0M692.5 1075.3h0M741.1 1075.4h0M571.2 1089.2h0M279.9 1116.9h0M522.6 1117.3h0M538.8 1117.4h0M207.1 1130.9h0M182.9 1144.9h0M296.1 1145.1h0M522.6 1145.5h0M126.2 1158.9h0M174.8 1159h0M530.7 1159.6h0M150.5 1173.1h0M166.7 1173.1h0M279.9 1173.3h0M110 1187.1h0M320.4 1187.4h0M433.6 1187.6h0M449.8 1187.7h0M498.4 1187.7h0M530.7 1187.8h0M757.2 1188.2h0M166.7 1201.3h0M263.8 1201.4h0M587.3 1202h0M603.5 1202h0M126.2 1215.3h0M449.8 1215.8h0M466 1215.9h0M482.2 1215.9h0M150.5 1229.4h0M490.3 1230h0M110 1243.4h0M271.8 1243.7h0M417.5 1244h0M635.9 1258.4h0M190.9 1271.8h0M239.5 1271.8h0M563.1 1272.4h0M231.4 1285.9h0M417.5 1300.3h0M466 1300.4h0M482.2 1300.4h0M546.9 1300.5h0M134.3 1313.9h0M603.5 1314.7h0M733 1314.9h0M401.3 1328.5h0M466 1328.6h0M182.9 1342.2h0M506.4 1342.7h0M522.6 1342.8h0M587.3 1342.9h0M45.3 1356h0M741.1 1357.2h0M182.9 1370.4h0M409.4 1370.8h0M425.6 1370.8h0M474.1 1370.9h0M401.3 1384.8h0M482.2 1385h0M530.7 1385.1h0M741.1 1385.4h0M199 1398.6h0M344.7 1398.8h0M474.1 1399h0M635.9 1399.3h0M700.6 1399.4h0M417.5 1413h0M85.8 1426.6h0M118.1 1426.6h0M134.3 1426.6h0M393.2 1427.1h0M474.1 1427.2h0M61.5 1440.6h0M126.2 1440.7h0M514.5 1441.4h0M102 1454.8h0M263.8 1455h0M360.8 1455.2h0M506.4 1455.5h0M603.5 1455.6h0M733 1455.8h0M110 1468.9h0M174.8 1469h0M255.7 1469.1h0M385.1 1469.3h0M595.4 1469.7h0M708.7 1469.9h0M490.3 1483.6h0M749.1 1484.1h0M174.8 1497.2h0M207.1 1497.2h0M150.5 1511.2h0M199 1511.3h0M312.3 1511.5h0M555 1511.9h0M749.1 1512.2h0M546.9 1526h0M579.3 1526h0M595.4 1526.1h0M611.6 1526.1h0M660.2 1526.2h0M166.7 1539.4h0M199 1539.5h0M231.4 1539.5h0M279.9 1539.6h0M328.5 1539.7h0M360.8 1539.8h0M425.6 1539.9h0M158.6 1553.5h0M150.5 1567.6h0M377 1568h0M635.9 1568.4h0M684.4 1568.5h0M700.6 1568.5h0M716.8 1568.5h0M190.9 1581.7h0M207.1 1581.8h0M563.1 1582.4h0M708.7 1582.6h0M668.2 1596.6h0M708.7 1610.8h0"/>
<path stroke="#21b174" d="M571.2 1032.9h0M668.2 1033h0M749.1 1033.2h0M263.8 1060.5h0M296.1 1060.6h0M312.3 1060.6h0M223.3 1074.5h0M611.6 1075.2h0M708.7 1075.4h0M724.9 1075.4h0M215.2 1088.6h0M223.3 1102.7h0M271.8 1102.8h0M336.6 1102.9h0M482.2 1103.2h0M150.5 1116.7h0M344.7 1117h0M239.5 1130.9h0M611.6 1131.6h0M134.3 1144.8h0M142.4 1159h0M207.1 1159.1h0M288 1159.2h0M611.6 1159.7h0M231.4 1173.2h0M190.9 1187.2h0M708.7 1188.1h0M231.4 1201.4h0M207.1 1215.4h0M223.3 1215.4h0M255.7 1215.5h0M757.2 1216.4h0M166.7 1229.4h0M247.6 1229.6h0M571.2 1230.1h0M684.4 1230.3h0M401.3 1243.9h0M611.6 1244.3h0M660.2 1244.4h0M708.7 1244.5h0M668.2 1258.5h0M142.4 1271.7h0M207.1 1271.8h0M271.8 1271.9h0M498.4 1272.3h0M579.3 1272.4h0M69.6 1285.6h0M85.8 1285.7h0M118.1 1285.7h0M409.4 1286.2h0M441.7 1286.3h0M506.4 1286.4h0M708.7 1300.8h0M199 1314h0M409.4 1314.4h0M457.9 1314.5h0M506.4 1314.6h0M522.6 1314.6h0M652.1 1314.8h0M716.8 1314.9h0M142.4 1328h0M174.8 1328.1h0M368.9 1328.4h0M69.6 1342h0M134.3 1342.1h0M150.5 1342.1h0M215.2 1342.2h0M296.1 1342.4h0M700.6 1343.1h0M110 1356.2h0M336.6 1356.5h0M611.6 1357h0M627.8 1357h0M69.6 1370.2h0M134.3 1370.3h0M263.8 1370.5h0M279.9 1370.5h0M441.7 1370.8h0M603.5 1371.1h0M93.9 1384.3h0M142.4 1384.4h0M158.6 1384.4h0M417.5 1384.9h0M708.7 1385.4h0M506.4 1399.1h0M555 1399.2h0M288 1412.8h0M555 1427.4h0M652.1 1427.5h0M700.6 1427.6h0M110 1440.7h0M255.7 1440.9h0M352.7 1441.1h0M708.7 1441.7h0M741.1 1441.8h0M21.1 1454.6h0M85.8 1454.7h0M215.2 1455h0M328.5 1455.2h0M344.7 1455.2h0M490.3 1455.4h0M635.9 1455.7h0M77.7 1468.8h0M320.4 1469.2h0M482.2 1469.5h0M563.1 1469.6h0M627.8 1469.8h0M757.2 1470h0M279.9 1483.3h0M360.8 1483.4h0M425.6 1483.5h0M506.4 1483.6h0M571.2 1483.8h0M619.7 1483.8h0M352.7 1497.5h0M449.8 1497.6h0M595.4 1497.9h0M279.9 1511.4h0M490.3 1511.8h0M538.8 1511.9h0M619.7 1512h0M652.1 1512.1h0M239.5 1525.5h0M320.4 1525.6h0M627.8 1526.1h0M538.8 1540.1h0M716.8 1540.4h0M749.1 1540.4h0M142.4 1553.5h0M271.8 1553.7h0M563.1 1554.2h0M724.9 1554.5h0M166.7 1567.6h0M182.9 1567.6h0M749.1 1568.6h0M158.6 1581.7h0M627.8 1582.5h0M215.2 1595.9h0M263.8 1595.9h0M522.6 1596.4h0"/>
<path stroke="#25ca5e" d="M644 1047.1h0M757.2 1047.3h0M344.7 1060.7h0M668.2 1061.2h0M279.9 1088.7h0M700.6 1089.5h0M733 1089.5h0M352.7 1102.9h0M595.4 1103.4h0M166.7 1116.7h0M231.4 1116.8h0M490.3 1117.3h0M555 1117.4h0M190.9 1130.9h0M215.2 1145h0M587.3 1145.6h0M466 1159.5h0M627.8 1159.8h0M263.8 1173.2h0M474.1 1173.6h0M700.6 1174h0M174.8 1187.2h0M239.5 1187.3h0M134.3 1201.2h0M199 1201.3h0M441.7 1201.7h0M506.4 1201.8h0M619.7 1202h0M239.5 1215.5h0M708.7 1216.3h0M279.9 1229.6h0M441.7 1229.9h0M619.7 1230.2h0M126.2 1243.5h0M142.4 1243.5h0M158.6 1243.5h0M457.9 1258.1h0M482.2 1272.2h0M102 1285.7h0M263.8 1286h0M555 1286.5h0M603.5 1286.5h0M126.2 1299.8h0M174.8 1299.9h0M368.9 1300.2h0M182.9 1314h0M263.8 1314.1h0M377 1314.3h0M441.7 1314.5h0M61.5 1327.9h0M546.9 1328.7h0M741.1 1329h0M474.1 1342.7h0M619.7 1342.9h0M716.8 1343.1h0M61.5 1356.1h0M433.6 1356.7h0M466 1356.8h0M118.1 1370.3h0M360.8 1370.7h0M377 1370.7h0M749.1 1371.3h0M110 1384.3h0M352.7 1384.7h0M644 1385.2h0M676.3 1385.3h0M724.9 1385.4h0M263.8 1398.7h0M603.5 1399.3h0M45.3 1412.4h0M126.2 1412.5h0M158.6 1412.6h0M207.1 1412.7h0M336.6 1412.9h0M368.9 1413h0M385.1 1413h0M546.9 1413.3h0M644 1413.4h0M660.2 1413.5h0M757.2 1413.6h0M102 1426.6h0M344.7 1427h0M571.2 1427.4h0M401.3 1441.2h0M482.2 1441.3h0M668.2 1455.7h0M29.1 1468.7h0M61.5 1468.8h0M142.4 1468.9h0M401.3 1469.4h0M546.9 1469.6h0M182.9 1483.1h0M247.6 1483.2h0M377 1483.4h0M126.2 1497.1h0M498.4 1497.7h0M660.2 1498h0M102 1511.1h0M360.8 1511.6h0M393.2 1511.6h0M635.9 1512h0M700.6 1512.2h0M110 1525.2h0M142.4 1525.3h0M482.2 1525.9h0M741.1 1526.3h0M296.1 1539.6h0M506.4 1540h0M652.1 1540.2h0M207.1 1553.6h0M741.1 1554.5h0M328.5 1567.9h0M360.8 1567.9h0M571.2 1568.3h0M271.8 1581.9h0M368.9 1582h0M579.3 1582.4h0M749.1 1596.8h0M223.3 1610h0M563.1 1610.5h0"/>
<path stroke="#2ee244" d="M692.5 1047.2h0M708.7 1047.2h0M215.2 1060.4h0M555 1061h0M733 1061.3h0M190.9 1074.5h0M239.5 1074.6h0M207.1 1102.7h0M320.4 1102.9h0M328.5 1117h0M587.3 1117.4h0M304.2 1131h0M199 1145h0M247.6 1145h0M635.9 1145.7h0M271.8 1159.2h0M563.1 1159.7h0M595.4 1159.7h0M142.4 1187.1h0M158.6 1187.2h0M223.3 1187.3h0M385.1 1187.5h0M611.6 1187.9h0M150.5 1201.2h0M215.2 1201.3h0M385.1 1215.7h0M563.1 1216h0M627.8 1216.1h0M199 1229.5h0M231.4 1229.6h0M360.8 1229.8h0M635.9 1230.2h0M199 1257.7h0M522.6 1258.2h0M749.1 1258.6h0M110 1271.6h0M749.1 1286.8h0M190.9 1299.9h0M449.8 1300.4h0M215.2 1314.1h0M571.2 1314.7h0M684.4 1314.9h0M700.6 1314.9h0M126.2 1328h0M482.2 1328.6h0M668.2 1343h0M223.3 1356.3h0M304.2 1356.5h0M546.9 1356.9h0M506.4 1370.9h0M733 1371.3h0M45.3 1384.2h0M174.8 1384.4h0M288 1384.6h0M377 1398.9h0M538.8 1399.2h0M716.8 1399.5h0M271.8 1412.8h0M741.1 1413.6h0M668.2 1427.6h0M716.8 1427.6h0M749.1 1427.7h0M142.4 1440.8h0M207.1 1440.9h0M530.7 1441.4h0M660.2 1441.6h0M587.3 1455.6h0M352.7 1469.3h0M433.6 1469.4h0M449.8 1469.5h0M466 1469.5h0M85.8 1482.9h0M118.1 1483h0M296.1 1483.3h0M441.7 1483.5h0M474.1 1483.6h0M522.6 1483.7h0M684.4 1483.9h0M482.2 1497.7h0M579.3 1497.9h0M263.8 1511.4h0M288 1525.5h0M247.6 1539.6h0M619.7 1540.2h0M700.6 1540.3h0M385.1 1553.9h0M417.5 1553.9h0M579.3 1554.2h0M627.8 1554.3h0M457.9 1568.1h0M255.7 1581.8h0M320.4 1582h0M336.6 1582h0M433.6 1582.1h0M611.6 1582.4h0M441.7 1596.3h0M587.3 1596.5h0M700.6 1596.7h0M158.6 1609.9h0"/>
<path stroke="#54ee33" d="M684.4 1033.1h0M247.6 1060.5h0M716.8 1061.3h0M749.1 1061.4h0M660.2 1075.3h0M344.7 1088.8h0M190.9 1102.7h0M199 1116.8h0M158.6 1130.8h0M174.8 1130.8h0M271.8 1131h0M231.4 1145h0M538.8 1145.5h0M571.2 1145.6h0M158.6 1159h0M708.7 1159.9h0M668.2 1173.9h0M207.1 1187.2h0M676.3 1188h0M692.5 1188.1h0M312.3 1201.5h0M425.6 1201.7h0M490.3 1201.8h0M546.9 1216h0M538.8 1230.1h0M215.2 1257.7h0M231.4 1257.7h0M263.8 1257.8h0M77.7 1271.6h0M368.9 1272.1h0M433.6 1272.2h0M619.7 1286.6h0M93.9 1299.8h0M595.4 1300.6h0M611.6 1300.6h0M724.9 1300.8h0M102 1313.9h0M344.7 1314.3h0M223.3 1328.2h0M352.7 1328.4h0M360.8 1342.5h0M409.4 1342.6h0M457.9 1342.7h0M174.8 1356.3h0M401.3 1356.7h0M514.5 1356.8h0M530.7 1356.9h0M716.8 1371.3h0M53.4 1398.3h0M247.6 1398.7h0M441.7 1399h0M93.9 1412.5h0M708.7 1413.5h0M312.3 1427h0M579.3 1441.5h0M247.6 1455h0M296.1 1455.1h0M393.2 1455.3h0M571.2 1455.6h0M684.4 1455.8h0M716.8 1455.8h0M417.5 1469.4h0M644 1469.8h0M102 1483h0M409.4 1483.5h0M457.9 1483.6h0M190.9 1497.2h0M417.5 1497.6h0M231.4 1511.4h0M417.5 1525.8h0M644 1526.1h0M676.3 1526.2h0M336.6 1553.8h0M247.6 1567.7h0M441.7 1568.1h0M587.3 1568.3h0M199 1595.8h0M619.7 1596.6h0M190.9 1609.9h0M546.9 1610.5h0M741.1 1610.8h0"/>
<path stroke="#a0f529" d="M652.1 1033h0M563.1 1046.9h0M587.3 1061.1h0M563.1 1075.1h0M199 1088.6h0M506.4 1089.1h0M296.1 1116.9h0M182.9 1229.5h0M263.8 1229.6h0M190.9 1243.6h0M441.7 1258.1h0M474.1 1258.1h0M660.2 1272.6h0M134.3 1285.7h0M199 1285.9h0M538.8 1314.6h0M619.7 1314.8h0M749.1 1343.2h0M466 1384.9h0M215.2 1398.6h0M150.5 1426.7h0M199 1454.9h0M207.1 1469h0M660.2 1469.8h0M635.9 1483.9h0M652.1 1483.9h0M223.3 1525.4h0M522.6 1540h0M288 1581.9h0M514.5 1582.3h0M271.8 1610.1h0"/>
<path stroke="#f7f71e" d="M271.8 1046.5h0M660.2 1047.1h0M741.1 1047.2h0M207.1 1074.5h0M304.2 1074.7h0M336.6 1074.7h0M263.8 1088.7h0M296.1 1088.8h0M312.3 1088.8h0M716.8 1089.5h0M215.2 1116.8h0M255.7 1131h0M288 1131h0M320.4 1131.1h0M166.7 1144.9h0M263.8 1145.1h0M344.7 1145.2h0M190.9 1159h0M215.2 1173.2h0M490.3 1173.6h0M304.2 1187.4h0M247.6 1201.4h0M538.8 1201.9h0M652.1 1202.1h0M668.2 1202.1h0M174.8 1215.4h0M288 1215.6h0M530.7 1216h0M102 1229.3h0M555 1230.1h0M174.8 1243.5h0M514.5 1244.1h0M166.7 1257.6h0M312.3 1257.9h0M490.3 1258.2h0M126.2 1271.6h0M288 1271.9h0M304.2 1271.9h0M466 1272.2h0M676.3 1272.6h0M166.7 1285.8h0M587.3 1286.5h0M142.4 1299.9h0M514.5 1300.5h0M692.5 1300.8h0M150.5 1314h0M587.3 1314.7h0M563.1 1328.7h0M53.4 1342h0M85.8 1342h0M93.9 1356.1h0M158.6 1356.2h0M595.4 1357h0M644 1357.1h0M53.4 1370.2h0M118.1 1398.4h0M61.5 1412.4h0M142.4 1412.6h0M304.2 1412.8h0M37.2 1426.5h0M271.8 1441h0M37.2 1454.7h0M514.5 1469.6h0M741.1 1469.9h0M134.3 1483h0M150.5 1483h0M231.4 1483.2h0M344.7 1483.4h0M223.3 1497.2h0M288 1497.4h0M336.6 1497.4h0M385.1 1497.5h0M69.6 1511.1h0M344.7 1511.5h0M409.4 1511.7h0M571.2 1511.9h0M174.8 1525.3h0M190.9 1525.4h0M255.7 1525.5h0M352.7 1525.6h0M118.1 1539.3h0M263.8 1539.6h0M344.7 1539.7h0M393.2 1539.8h0M490.3 1540h0M684.4 1540.3h0M304.2 1553.7h0M215.2 1567.7h0M296.1 1567.8h0M555 1568.3h0M150.5 1595.8h0M279.9 1596h0M506.4 1596.4h0M555 1596.4h0M207.1 1609.9h0M514.5 1610.5h0M644 1610.7h0"/>
</g></g>
<defs><linearGradient id="gb" x1="0" y1="1" x2="0" y2="0">
<stop offset="0.000" stop-color="#250a6b"/>
<stop offset="0.120" stop-color="#2a12a0"/>
<stop offset="0.260" stop-color="#2228d0"/>
<stop offset="0.360" stop-color="#2058c8"/>
<stop offset="0.440" stop-color="#2078a8"/>
<stop offset="0.520" stop-color="#1f9490"/>
<stop offset="0.600" stop-color="#20ac78"/>
<stop offset="0.700" stop-color="#25cc5c"/>
<stop offset="0.780" stop-color="#2fe640"/>
<stop offset="0.860" stop-color="#5cf030"/>
<stop offset="0.930" stop-color="#a8f528"/>
<stop offset="1.000" stop-color="#f7f71e"/>
</linearGradient></defs>
<rect x="773.6" y="1084" width="1" height="438" fill="#b8c0cc"/>
<rect x="778.6" y="1078.6" width="16" height="451" fill="url(#gb)" stroke="#111" stroke-width="1.6"/>
<g font-family='"DejaVu Sans", "Liberation Sans", sans-serif' font-size="28.4" fill="#1e2426">
<rect x="795" y="1182.8" width="9" height="1.9" fill="#111"/>
<text x="810" y="1196.1">0.1</text>
<rect x="795" y="1299.5" width="9" height="1.9" fill="#111"/>
<text x="810" y="1312.8">0.0</text>
<rect x="795" y="1416.8" width="9" height="1.9" fill="#111"/>
<text x="810" y="1430">−0.1</text>
</g>
<g clip-path="url(#clipc)">
<g transform="translate(-7 620)">
<use href="#tissue"/>
<use href="#allsp" stroke="#fff" stroke-opacity="0.4" stroke-width="12.8" stroke-linecap="round" fill="none"/>
<g stroke-width="10.6" stroke-linecap="round" fill="none">
<path stroke="#27c62a" d="M555 1032.8h0M571.2 1032.9h0M587.3 1032.9h0M603.5 1032.9h0M619.7 1033h0M635.9 1033h0M684.4 1033.1h0M304.2 1046.5h0M546.9 1046.9h0M563.1 1046.9h0M579.3 1047h0M595.4 1047h0M611.6 1047h0M627.8 1047.1h0M692.5 1047.2h0M708.7 1047.2h0M231.4 1060.5h0M247.6 1060.5h0M538.8 1061h0M587.3 1061.1h0M603.5 1061.1h0M619.7 1061.1h0M635.9 1061.2h0M684.4 1061.2h0M700.6 1061.3h0M716.8 1061.3h0M239.5 1074.6h0M514.5 1075h0M530.7 1075.1h0M595.4 1075.2h0M611.6 1075.2h0M627.8 1075.2h0M644 1075.3h0M660.2 1075.3h0M676.3 1075.3h0M692.5 1075.3h0M741.1 1075.4h0M757.2 1075.5h0M182.9 1088.6h0M231.4 1088.7h0M490.3 1089.1h0M506.4 1089.1h0M522.6 1089.1h0M538.8 1089.2h0M587.3 1089.3h0M603.5 1089.3h0M652.1 1089.4h0M668.2 1089.4h0M684.4 1089.4h0M749.1 1089.5h0M158.6 1102.6h0M174.8 1102.6h0M190.9 1102.7h0M239.5 1102.8h0M336.6 1102.9h0M352.7 1102.9h0M482.2 1103.2h0M498.4 1103.2h0M514.5 1103.2h0M530.7 1103.3h0M546.9 1103.3h0M563.1 1103.3h0M579.3 1103.3h0M595.4 1103.4h0M611.6 1103.4h0M150.5 1116.7h0M166.7 1116.7h0M182.9 1116.8h0M344.7 1117h0M474.1 1117.2h0M490.3 1117.3h0M506.4 1117.3h0M522.6 1117.3h0M538.8 1117.4h0M555 1117.4h0M571.2 1117.4h0M587.3 1117.4h0M603.5 1117.5h0M142.4 1130.8h0M190.9 1130.9h0M482.2 1131.3h0M498.4 1131.4h0M514.5 1131.4h0M530.7 1131.4h0M546.9 1131.5h0M563.1 1131.5h0M579.3 1131.5h0M595.4 1131.5h0M611.6 1131.6h0M134.3 1144.8h0M215.2 1145h0M231.4 1145h0M474.1 1145.4h0M490.3 1145.5h0M506.4 1145.5h0M522.6 1145.5h0M538.8 1145.5h0M555 1145.6h0M571.2 1145.6h0M587.3 1145.6h0M603.5 1145.6h0M619.7 1145.7h0M635.9 1145.7h0M126.2 1158.9h0M142.4 1159h0M239.5 1159.1h0M288 1159.2h0M304.2 1159.2h0M320.4 1159.3h0M466 1159.5h0M514.5 1159.6h0M530.7 1159.6h0M546.9 1159.6h0M563.1 1159.7h0M579.3 1159.7h0M595.4 1159.7h0M611.6 1159.7h0M627.8 1159.8h0M644 1159.8h0M660.2 1159.8h0M676.3 1159.9h0M708.7 1159.9h0M724.9 1159.9h0M741.1 1160h0M757.2 1160h0M118.1 1173h0M134.3 1173h0M150.5 1173.1h0M166.7 1173.1h0M247.6 1173.2h0M263.8 1173.2h0M279.9 1173.3h0M328.5 1173.4h0M457.9 1173.6h0M522.6 1173.7h0M538.8 1173.7h0M555 1173.7h0M571.2 1173.8h0M587.3 1173.8h0M603.5 1173.8h0M619.7 1173.9h0M635.9 1173.9h0M652.1 1173.9h0M668.2 1173.9h0M684.4 1174h0M700.6 1174h0M716.8 1174h0M733 1174h0M749.1 1174.1h0M110 1187.1h0M126.2 1187.1h0M142.4 1187.1h0M158.6 1187.2h0M174.8 1187.2h0M190.9 1187.2h0M271.8 1187.4h0M336.6 1187.5h0M385.1 1187.5h0M401.3 1187.6h0M417.5 1187.6h0M433.6 1187.6h0M449.8 1187.7h0M466 1187.7h0M514.5 1187.8h0M563.1 1187.8h0M579.3 1187.9h0M595.4 1187.9h0M611.6 1187.9h0M627.8 1188h0M692.5 1188.1h0M708.7 1188.1h0M724.9 1188.1h0M741.1 1188.1h0M757.2 1188.2h0M102 1201.2h0M118.1 1201.2h0M134.3 1201.2h0M150.5 1201.2h0M199 1201.3h0M215.2 1201.3h0M393.2 1201.6h0M409.4 1201.7h0M425.6 1201.7h0M441.7 1201.7h0M457.9 1201.8h0M474.1 1201.8h0M490.3 1201.8h0M506.4 1201.8h0M571.2 1202h0M587.3 1202h0M603.5 1202h0M619.7 1202h0M700.6 1202.2h0M716.8 1202.2h0M733 1202.2h0M749.1 1202.3h0M126.2 1215.3h0M142.4 1215.3h0M207.1 1215.4h0M223.3 1215.4h0M320.4 1215.6h0M368.9 1215.7h0M385.1 1215.7h0M401.3 1215.8h0M417.5 1215.8h0M433.6 1215.8h0M449.8 1215.8h0M466 1215.9h0M482.2 1215.9h0M498.4 1215.9h0M579.3 1216.1h0M595.4 1216.1h0M611.6 1216.1h0M627.8 1216.1h0M692.5 1216.2h0M708.7 1216.3h0M724.9 1216.3h0M741.1 1216.3h0M757.2 1216.4h0M134.3 1229.4h0M150.5 1229.4h0M199 1229.5h0M215.2 1229.5h0M231.4 1229.6h0M312.3 1229.7h0M360.8 1229.8h0M377 1229.8h0M393.2 1229.8h0M409.4 1229.9h0M425.6 1229.9h0M441.7 1229.9h0M457.9 1229.9h0M474.1 1230h0M490.3 1230h0M587.3 1230.2h0M603.5 1230.2h0M619.7 1230.2h0M635.9 1230.2h0M652.1 1230.3h0M668.2 1230.3h0M684.4 1230.3h0M700.6 1230.4h0M716.8 1230.4h0M733 1230.4h0M749.1 1230.4h0M77.7 1243.4h0M126.2 1243.5h0M142.4 1243.5h0M207.1 1243.6h0M223.3 1243.6h0M239.5 1243.7h0M288 1243.7h0M336.6 1243.8h0M352.7 1243.8h0M368.9 1243.9h0M385.1 1243.9h0M401.3 1243.9h0M417.5 1244h0M433.6 1244h0M449.8 1244h0M466 1244h0M579.3 1244.2h0M595.4 1244.3h0M611.6 1244.3h0M627.8 1244.3h0M644 1244.3h0M660.2 1244.4h0M676.3 1244.4h0M692.5 1244.4h0M708.7 1244.5h0M724.9 1244.5h0M741.1 1244.5h0M757.2 1244.5h0M85.8 1257.5h0M102 1257.5h0M199 1257.7h0M215.2 1257.7h0M231.4 1257.7h0M247.6 1257.8h0M263.8 1257.8h0M344.7 1257.9h0M360.8 1258h0M377 1258h0M393.2 1258h0M409.4 1258h0M425.6 1258.1h0M441.7 1258.1h0M538.8 1258.3h0M555 1258.3h0M571.2 1258.3h0M587.3 1258.3h0M603.5 1258.4h0M619.7 1258.4h0M635.9 1258.4h0M652.1 1258.4h0M700.6 1258.5h0M716.8 1258.6h0M733 1258.6h0M749.1 1258.6h0M77.7 1271.6h0M93.9 1271.6h0M223.3 1271.8h0M239.5 1271.8h0M255.7 1271.9h0M336.6 1272h0M352.7 1272h0M368.9 1272.1h0M385.1 1272.1h0M401.3 1272.1h0M417.5 1272.1h0M433.6 1272.2h0M514.5 1272.3h0M530.7 1272.3h0M546.9 1272.4h0M563.1 1272.4h0M611.6 1272.5h0M627.8 1272.5h0M644 1272.5h0M708.7 1272.6h0M724.9 1272.7h0M741.1 1272.7h0M757.2 1272.7h0M69.6 1285.6h0M85.8 1285.7h0M102 1285.7h0M231.4 1285.9h0M247.6 1285.9h0M263.8 1286h0M328.5 1286.1h0M344.7 1286.1h0M360.8 1286.1h0M377 1286.2h0M393.2 1286.2h0M409.4 1286.2h0M425.6 1286.2h0M441.7 1286.3h0M490.3 1286.4h0M538.8 1286.4h0M555 1286.5h0M619.7 1286.6h0M635.9 1286.6h0M652.1 1286.6h0M716.8 1286.7h0M733 1286.8h0M749.1 1286.8h0M77.7 1299.7h0M93.9 1299.8h0M110 1299.8h0M223.3 1300h0M239.5 1300h0M255.7 1300h0M271.8 1300.1h0M288 1300.1h0M304.2 1300.1h0M320.4 1300.2h0M336.6 1300.2h0M352.7 1300.2h0M368.9 1300.2h0M385.1 1300.3h0M401.3 1300.3h0M417.5 1300.3h0M433.6 1300.3h0M449.8 1300.4h0M466 1300.4h0M482.2 1300.4h0M563.1 1300.6h0M611.6 1300.6h0M627.8 1300.7h0M644 1300.7h0M660.2 1300.7h0M724.9 1300.8h0M741.1 1300.9h0M757.2 1300.9h0M69.6 1313.8h0M85.8 1313.8h0M102 1313.9h0M118.1 1313.9h0M182.9 1314h0M199 1314h0M215.2 1314.1h0M231.4 1314.1h0M247.6 1314.1h0M263.8 1314.1h0M279.9 1314.2h0M296.1 1314.2h0M312.3 1314.2h0M328.5 1314.3h0M344.7 1314.3h0M360.8 1314.3h0M377 1314.3h0M393.2 1314.4h0M409.4 1314.4h0M425.6 1314.4h0M441.7 1314.5h0M457.9 1314.5h0M474.1 1314.5h0M490.3 1314.5h0M619.7 1314.8h0M635.9 1314.8h0M652.1 1314.8h0M668.2 1314.8h0M716.8 1314.9h0M733 1314.9h0M749.1 1315h0M110 1328h0M126.2 1328h0M174.8 1328.1h0M190.9 1328.1h0M207.1 1328.1h0M223.3 1328.2h0M239.5 1328.2h0M255.7 1328.2h0M271.8 1328.3h0M288 1328.3h0M304.2 1328.3h0M320.4 1328.3h0M336.6 1328.4h0M352.7 1328.4h0M368.9 1328.4h0M385.1 1328.4h0M401.3 1328.5h0M417.5 1328.5h0M433.6 1328.5h0M449.8 1328.6h0M466 1328.6h0M482.2 1328.6h0M498.4 1328.6h0M514.5 1328.7h0M611.6 1328.8h0M627.8 1328.9h0M644 1328.9h0M660.2 1328.9h0M676.3 1328.9h0M692.5 1329h0M708.7 1329h0M724.9 1329h0M741.1 1329h0M757.2 1329.1h0M118.1 1342.1h0M134.3 1342.1h0M182.9 1342.2h0M199 1342.2h0M215.2 1342.2h0M231.4 1342.3h0M247.6 1342.3h0M263.8 1342.3h0M279.9 1342.4h0M296.1 1342.4h0M312.3 1342.4h0M328.5 1342.4h0M344.7 1342.5h0M360.8 1342.5h0M377 1342.5h0M393.2 1342.5h0M409.4 1342.6h0M425.6 1342.6h0M441.7 1342.6h0M457.9 1342.7h0M474.1 1342.7h0M490.3 1342.7h0M506.4 1342.7h0M522.6 1342.8h0M538.8 1342.8h0M619.7 1342.9h0M668.2 1343h0M684.4 1343h0M700.6 1343.1h0M716.8 1343.1h0M733 1343.1h0M749.1 1343.2h0M126.2 1356.2h0M190.9 1356.3h0M207.1 1356.3h0M223.3 1356.3h0M239.5 1356.4h0M255.7 1356.4h0M271.8 1356.4h0M288 1356.5h0M304.2 1356.5h0M320.4 1356.5h0M336.6 1356.5h0M352.7 1356.6h0M368.9 1356.6h0M385.1 1356.6h0M401.3 1356.7h0M417.5 1356.7h0M433.6 1356.7h0M449.8 1356.7h0M466 1356.8h0M482.2 1356.8h0M498.4 1356.8h0M514.5 1356.8h0M530.7 1356.9h0M546.9 1356.9h0M563.1 1356.9h0M676.3 1357.1h0M692.5 1357.1h0M708.7 1357.2h0M724.9 1357.2h0M741.1 1357.2h0M757.2 1357.3h0M118.1 1370.3h0M134.3 1370.3h0M182.9 1370.4h0M199 1370.4h0M215.2 1370.4h0M231.4 1370.5h0M247.6 1370.5h0M263.8 1370.5h0M279.9 1370.5h0M296.1 1370.6h0M312.3 1370.6h0M328.5 1370.6h0M344.7 1370.6h0M360.8 1370.7h0M377 1370.7h0M393.2 1370.7h0M409.4 1370.8h0M425.6 1370.8h0M441.7 1370.8h0M457.9 1370.8h0M474.1 1370.9h0M490.3 1370.9h0M506.4 1370.9h0M522.6 1370.9h0M538.8 1371h0M555 1371h0M571.2 1371h0M619.7 1371.1h0M668.2 1371.2h0M684.4 1371.2h0M700.6 1371.3h0M716.8 1371.3h0M733 1371.3h0M749.1 1371.3h0M77.7 1384.3h0M93.9 1384.3h0M142.4 1384.4h0M158.6 1384.4h0M174.8 1384.4h0M190.9 1384.5h0M207.1 1384.5h0M223.3 1384.5h0M239.5 1384.6h0M255.7 1384.6h0M271.8 1384.6h0M288 1384.6h0M304.2 1384.7h0M320.4 1384.7h0M336.6 1384.7h0M352.7 1384.7h0M368.9 1384.8h0M385.1 1384.8h0M401.3 1384.8h0M417.5 1384.9h0M433.6 1384.9h0M449.8 1384.9h0M466 1384.9h0M482.2 1385h0M498.4 1385h0M514.5 1385h0M530.7 1385.1h0M546.9 1385.1h0M563.1 1385.1h0M579.3 1385.1h0M595.4 1385.2h0M611.6 1385.2h0M627.8 1385.2h0M644 1385.2h0M660.2 1385.3h0M676.3 1385.3h0M692.5 1385.3h0M708.7 1385.4h0M724.9 1385.4h0M741.1 1385.4h0M757.2 1385.4h0M85.8 1398.4h0M166.7 1398.5h0M182.9 1398.6h0M199 1398.6h0M215.2 1398.6h0M231.4 1398.6h0M247.6 1398.7h0M263.8 1398.7h0M279.9 1398.7h0M328.5 1398.8h0M344.7 1398.8h0M360.8 1398.9h0M377 1398.9h0M393.2 1398.9h0M409.4 1398.9h0M425.6 1399h0M441.7 1399h0M457.9 1399h0M474.1 1399h0M490.3 1399.1h0M506.4 1399.1h0M522.6 1399.1h0M538.8 1399.2h0M555 1399.2h0M571.2 1399.2h0M587.3 1399.2h0M603.5 1399.3h0M619.7 1399.3h0M635.9 1399.3h0M652.1 1399.3h0M668.2 1399.4h0M684.4 1399.4h0M700.6 1399.4h0M716.8 1399.5h0M733 1399.5h0M749.1 1399.5h0M93.9 1412.5h0M174.8 1412.6h0M190.9 1412.7h0M207.1 1412.7h0M223.3 1412.7h0M239.5 1412.7h0M255.7 1412.8h0M271.8 1412.8h0M336.6 1412.9h0M352.7 1412.9h0M368.9 1413h0M385.1 1413h0M401.3 1413h0M417.5 1413h0M433.6 1413.1h0M449.8 1413.1h0M466 1413.1h0M482.2 1413.1h0M498.4 1413.2h0M514.5 1413.2h0M530.7 1413.2h0M546.9 1413.3h0M563.1 1413.3h0M579.3 1413.3h0M595.4 1413.3h0M611.6 1413.4h0M627.8 1413.4h0M644 1413.4h0M660.2 1413.5h0M676.3 1413.5h0M692.5 1413.5h0M708.7 1413.5h0M724.9 1413.6h0M741.1 1413.6h0M757.2 1413.6h0M85.8 1426.6h0M102 1426.6h0M118.1 1426.6h0M182.9 1426.7h0M199 1426.8h0M215.2 1426.8h0M231.4 1426.8h0M247.6 1426.8h0M328.5 1427h0M344.7 1427h0M360.8 1427h0M377 1427.1h0M393.2 1427.1h0M409.4 1427.1h0M425.6 1427.1h0M441.7 1427.2h0M457.9 1427.2h0M474.1 1427.2h0M490.3 1427.3h0M506.4 1427.3h0M522.6 1427.3h0M538.8 1427.3h0M555 1427.4h0M571.2 1427.4h0M587.3 1427.4h0M603.5 1427.4h0M619.7 1427.5h0M635.9 1427.5h0M652.1 1427.5h0M668.2 1427.6h0M684.4 1427.6h0M700.6 1427.6h0M716.8 1427.6h0M733 1427.7h0M749.1 1427.7h0M61.5 1440.6h0M77.7 1440.6h0M93.9 1440.7h0M110 1440.7h0M126.2 1440.7h0M174.8 1440.8h0M190.9 1440.8h0M207.1 1440.9h0M223.3 1440.9h0M239.5 1440.9h0M304.2 1441h0M320.4 1441.1h0M336.6 1441.1h0M352.7 1441.1h0M368.9 1441.1h0M385.1 1441.2h0M401.3 1441.2h0M417.5 1441.2h0M433.6 1441.2h0M449.8 1441.3h0M466 1441.3h0M482.2 1441.3h0M498.4 1441.4h0M514.5 1441.4h0M530.7 1441.4h0M546.9 1441.4h0M563.1 1441.5h0M579.3 1441.5h0M595.4 1441.5h0M611.6 1441.5h0M627.8 1441.6h0M644 1441.6h0M660.2 1441.6h0M676.3 1441.7h0M692.5 1441.7h0M708.7 1441.7h0M724.9 1441.7h0M741.1 1441.8h0M757.2 1441.8h0M69.6 1454.7h0M85.8 1454.7h0M102 1454.8h0M118.1 1454.8h0M134.3 1454.8h0M150.5 1454.9h0M166.7 1454.9h0M182.9 1454.9h0M231.4 1455h0M247.6 1455h0M296.1 1455.1h0M312.3 1455.1h0M328.5 1455.2h0M344.7 1455.2h0M360.8 1455.2h0M377 1455.2h0M393.2 1455.3h0M409.4 1455.3h0M425.6 1455.3h0M441.7 1455.4h0M457.9 1455.4h0M474.1 1455.4h0M490.3 1455.4h0M538.8 1455.5h0M555 1455.5h0M571.2 1455.6h0M587.3 1455.6h0M603.5 1455.6h0M619.7 1455.7h0M635.9 1455.7h0M652.1 1455.7h0M668.2 1455.7h0M684.4 1455.8h0M700.6 1455.8h0M716.8 1455.8h0M61.5 1468.8h0M77.7 1468.8h0M93.9 1468.8h0M110 1468.9h0M174.8 1469h0M255.7 1469.1h0M271.8 1469.2h0M288 1469.2h0M304.2 1469.2h0M320.4 1469.2h0M368.9 1469.3h0M385.1 1469.3h0M401.3 1469.4h0M417.5 1469.4h0M433.6 1469.4h0M449.8 1469.5h0M466 1469.5h0M482.2 1469.5h0M546.9 1469.6h0M563.1 1469.6h0M579.3 1469.7h0M595.4 1469.7h0M611.6 1469.7h0M627.8 1469.8h0M676.3 1469.8h0M692.5 1469.9h0M708.7 1469.9h0M37.2 1482.8h0M53.4 1482.9h0M69.6 1482.9h0M85.8 1482.9h0M102 1483h0M182.9 1483.1h0M263.8 1483.2h0M312.3 1483.3h0M409.4 1483.5h0M425.6 1483.5h0M441.7 1483.5h0M457.9 1483.6h0M474.1 1483.6h0M490.3 1483.6h0M538.8 1483.7h0M555 1483.7h0M571.2 1483.8h0M587.3 1483.8h0M603.5 1483.8h0M619.7 1483.8h0M684.4 1483.9h0M700.6 1484h0M716.8 1484h0M45.3 1496.9h0M93.9 1497h0M110 1497.1h0M174.8 1497.2h0M190.9 1497.2h0M255.7 1497.3h0M433.6 1497.6h0M449.8 1497.6h0M466 1497.7h0M482.2 1497.7h0M498.4 1497.7h0M514.5 1497.7h0M530.7 1497.8h0M546.9 1497.8h0M595.4 1497.9h0M611.6 1497.9h0M627.8 1497.9h0M676.3 1498h0M692.5 1498h0M708.7 1498.1h0M724.9 1498.1h0M741.1 1498.1h0M757.2 1498.2h0M102 1511.1h0M118.1 1511.2h0M134.3 1511.2h0M150.5 1511.2h0M312.3 1511.5h0M441.7 1511.7h0M457.9 1511.7h0M474.1 1511.8h0M490.3 1511.8h0M506.4 1511.8h0M522.6 1511.8h0M538.8 1511.9h0M603.5 1512h0M619.7 1512h0M635.9 1512h0M652.1 1512.1h0M668.2 1512.1h0M684.4 1512.1h0M700.6 1512.2h0M716.8 1512.2h0M733 1512.2h0M749.1 1512.2h0M142.4 1525.3h0M288 1525.5h0M304.2 1525.6h0M320.4 1525.6h0M433.6 1525.8h0M449.8 1525.8h0M466 1525.8h0M514.5 1525.9h0M530.7 1526h0M546.9 1526h0M595.4 1526.1h0M611.6 1526.1h0M627.8 1526.1h0M644 1526.1h0M660.2 1526.2h0M708.7 1526.3h0M724.9 1526.3h0M741.1 1526.3h0M757.2 1526.3h0M150.5 1539.4h0M425.6 1539.9h0M441.7 1539.9h0M457.9 1539.9h0M522.6 1540h0M538.8 1540.1h0M555 1540.1h0M571.2 1540.1h0M587.3 1540.1h0M603.5 1540.2h0M619.7 1540.2h0M635.9 1540.2h0M652.1 1540.2h0M716.8 1540.4h0M733 1540.4h0M749.1 1540.4h0M142.4 1553.5h0M158.6 1553.5h0M174.8 1553.5h0M190.9 1553.6h0M239.5 1553.6h0M368.9 1553.9h0M417.5 1553.9h0M433.6 1554h0M449.8 1554h0M466 1554h0M514.5 1554.1h0M530.7 1554.1h0M579.3 1554.2h0M595.4 1554.2h0M611.6 1554.3h0M627.8 1554.3h0M644 1554.3h0M660.2 1554.4h0M708.7 1554.4h0M724.9 1554.5h0M741.1 1554.5h0M757.2 1554.5h0M134.3 1567.5h0M150.5 1567.6h0M166.7 1567.6h0M182.9 1567.6h0M247.6 1567.7h0M263.8 1567.8h0M328.5 1567.9h0M344.7 1567.9h0M360.8 1567.9h0M377 1568h0M393.2 1568h0M409.4 1568h0M425.6 1568h0M441.7 1568.1h0M457.9 1568.1h0M474.1 1568.1h0M490.3 1568.2h0M587.3 1568.3h0M603.5 1568.3h0M619.7 1568.4h0M635.9 1568.4h0M652.1 1568.4h0M668.2 1568.5h0M684.4 1568.5h0M700.6 1568.5h0M716.8 1568.5h0M733 1568.6h0M749.1 1568.6h0M174.8 1581.7h0M190.9 1581.7h0M239.5 1581.8h0M255.7 1581.8h0M320.4 1582h0M336.6 1582h0M352.7 1582h0M368.9 1582h0M417.5 1582.1h0M433.6 1582.1h0M449.8 1582.2h0M466 1582.2h0M579.3 1582.4h0M595.4 1582.4h0M611.6 1582.4h0M627.8 1582.5h0M644 1582.5h0M660.2 1582.5h0M676.3 1582.6h0M692.5 1582.6h0M708.7 1582.6h0M724.9 1582.6h0M741.1 1582.7h0M182.9 1595.8h0M231.4 1595.9h0M247.6 1595.9h0M328.5 1596.1h0M344.7 1596.1h0M360.8 1596.1h0M441.7 1596.3h0M587.3 1596.5h0M603.5 1596.5h0M619.7 1596.6h0M668.2 1596.6h0M684.4 1596.7h0M700.6 1596.7h0M716.8 1596.7h0M733 1596.7h0M749.1 1596.8h0M174.8 1609.9h0M239.5 1610h0M255.7 1610h0M579.3 1610.6h0M595.4 1610.6h0M611.6 1610.6h0M676.3 1610.7h0M692.5 1610.8h0M708.7 1610.8h0M724.9 1610.8h0M741.1 1610.8h0M757.2 1610.9h0"/>
<path stroke="#f4601c" d="M652.1 1033h0M668.2 1033h0M733 1033.1h0M749.1 1033.2h0M255.7 1046.4h0M288 1046.5h0M644 1047.1h0M676.3 1047.1h0M757.2 1047.3h0M215.2 1060.4h0M263.8 1060.5h0M279.9 1060.6h0M296.1 1060.6h0M312.3 1060.6h0M328.5 1060.6h0M344.7 1060.7h0M555 1061h0M571.2 1061.1h0M652.1 1061.2h0M668.2 1061.2h0M733 1061.3h0M749.1 1061.4h0M190.9 1074.5h0M223.3 1074.5h0M255.7 1074.6h0M271.8 1074.6h0M288 1074.7h0M320.4 1074.7h0M546.9 1075.1h0M579.3 1075.2h0M708.7 1075.4h0M724.9 1075.4h0M199 1088.6h0M215.2 1088.6h0M247.6 1088.7h0M279.9 1088.7h0M328.5 1088.8h0M344.7 1088.8h0M555 1089.2h0M571.2 1089.2h0M700.6 1089.5h0M733 1089.5h0M207.1 1102.7h0M223.3 1102.7h0M255.7 1102.8h0M271.8 1102.8h0M288 1102.8h0M304.2 1102.9h0M320.4 1102.9h0M199 1116.8h0M231.4 1116.8h0M247.6 1116.9h0M263.8 1116.9h0M279.9 1116.9h0M312.3 1117h0M328.5 1117h0M158.6 1130.8h0M174.8 1130.8h0M207.1 1130.9h0M223.3 1130.9h0M239.5 1130.9h0M271.8 1131h0M304.2 1131h0M336.6 1131.1h0M352.7 1131.1h0M150.5 1144.9h0M182.9 1144.9h0M199 1145h0M247.6 1145h0M279.9 1145.1h0M296.1 1145.1h0M312.3 1145.2h0M328.5 1145.2h0M158.6 1159h0M174.8 1159h0M207.1 1159.1h0M223.3 1159.1h0M255.7 1159.1h0M271.8 1159.2h0M336.6 1159.3h0M482.2 1159.5h0M498.4 1159.6h0M182.9 1173.1h0M199 1173.1h0M231.4 1173.2h0M296.1 1173.3h0M312.3 1173.3h0M474.1 1173.6h0M506.4 1173.7h0M207.1 1187.2h0M223.3 1187.3h0M239.5 1187.3h0M255.7 1187.3h0M288 1187.4h0M320.4 1187.4h0M482.2 1187.7h0M498.4 1187.7h0M530.7 1187.8h0M546.9 1187.8h0M644 1188h0M660.2 1188h0M676.3 1188h0M166.7 1201.3h0M182.9 1201.3h0M231.4 1201.4h0M263.8 1201.4h0M279.9 1201.5h0M296.1 1201.5h0M312.3 1201.5h0M522.6 1201.9h0M555 1201.9h0M635.9 1202.1h0M684.4 1202.1h0M93.9 1215.2h0M110 1215.3h0M158.6 1215.3h0M190.9 1215.4h0M239.5 1215.5h0M255.7 1215.5h0M271.8 1215.5h0M304.2 1215.6h0M514.5 1215.9h0M546.9 1216h0M563.1 1216h0M644 1216.2h0M660.2 1216.2h0M676.3 1216.2h0M85.8 1229.3h0M118.1 1229.4h0M166.7 1229.4h0M182.9 1229.5h0M247.6 1229.6h0M279.9 1229.6h0M296.1 1229.7h0M506.4 1230h0M522.6 1230h0M538.8 1230.1h0M571.2 1230.1h0M93.9 1243.4h0M110 1243.4h0M158.6 1243.5h0M190.9 1243.6h0M255.7 1243.7h0M271.8 1243.7h0M304.2 1243.8h0M320.4 1243.8h0M482.2 1244.1h0M498.4 1244.1h0M530.7 1244.2h0M546.9 1244.2h0M563.1 1244.2h0M118.1 1257.5h0M134.3 1257.6h0M150.5 1257.6h0M182.9 1257.7h0M279.9 1257.8h0M296.1 1257.8h0M328.5 1257.9h0M457.9 1258.1h0M474.1 1258.1h0M506.4 1258.2h0M522.6 1258.2h0M668.2 1258.5h0M684.4 1258.5h0M110 1271.6h0M142.4 1271.7h0M158.6 1271.7h0M174.8 1271.7h0M190.9 1271.8h0M207.1 1271.8h0M271.8 1271.9h0M320.4 1272h0M449.8 1272.2h0M482.2 1272.2h0M498.4 1272.3h0M579.3 1272.4h0M595.4 1272.4h0M660.2 1272.6h0M692.5 1272.6h0M118.1 1285.7h0M134.3 1285.7h0M150.5 1285.8h0M182.9 1285.8h0M215.2 1285.9h0M279.9 1286h0M296.1 1286h0M312.3 1286.1h0M457.9 1286.3h0M474.1 1286.3h0M506.4 1286.4h0M522.6 1286.4h0M571.2 1286.5h0M603.5 1286.5h0M668.2 1286.7h0M684.4 1286.7h0M700.6 1286.7h0M126.2 1299.8h0M158.6 1299.9h0M174.8 1299.9h0M190.9 1299.9h0M207.1 1300h0M498.4 1300.5h0M530.7 1300.5h0M546.9 1300.5h0M579.3 1300.6h0M595.4 1300.6h0M676.3 1300.8h0M708.7 1300.8h0M134.3 1313.9h0M166.7 1314h0M506.4 1314.6h0M522.6 1314.6h0M555 1314.6h0M571.2 1314.7h0M603.5 1314.7h0M684.4 1314.9h0M700.6 1314.9h0M61.5 1327.9h0M77.7 1327.9h0M93.9 1327.9h0M142.4 1328h0M158.6 1328.1h0M530.7 1328.7h0M546.9 1328.7h0M579.3 1328.8h0M595.4 1328.8h0M69.6 1342h0M102 1342.1h0M150.5 1342.1h0M166.7 1342.2h0M555 1342.8h0M571.2 1342.9h0M587.3 1342.9h0M603.5 1342.9h0M635.9 1343h0M652.1 1343h0M45.3 1356h0M61.5 1356.1h0M77.7 1356.1h0M110 1356.2h0M142.4 1356.2h0M174.8 1356.3h0M579.3 1357h0M611.6 1357h0M627.8 1357h0M660.2 1357.1h0M69.6 1370.2h0M85.8 1370.2h0M102 1370.2h0M150.5 1370.3h0M166.7 1370.3h0M587.3 1371.1h0M603.5 1371.1h0M635.9 1371.1h0M652.1 1371.2h0M45.3 1384.2h0M61.5 1384.3h0M110 1384.3h0M126.2 1384.4h0M53.4 1398.3h0M69.6 1398.4h0M102 1398.4h0M134.3 1398.5h0M150.5 1398.5h0M296.1 1398.7h0M312.3 1398.8h0M45.3 1412.4h0M77.7 1412.5h0M110 1412.5h0M126.2 1412.5h0M158.6 1412.6h0M288 1412.8h0M320.4 1412.9h0M53.4 1426.5h0M69.6 1426.5h0M134.3 1426.6h0M166.7 1426.7h0M263.8 1426.9h0M279.9 1426.9h0M296.1 1426.9h0M312.3 1427h0M29.1 1440.6h0M45.3 1440.6h0M142.4 1440.8h0M158.6 1440.8h0M255.7 1440.9h0M288 1441h0M21.1 1454.6h0M53.4 1454.7h0M199 1454.9h0M215.2 1455h0M263.8 1455h0M279.9 1455.1h0M506.4 1455.5h0M522.6 1455.5h0M733 1455.8h0M749.1 1455.9h0M29.1 1468.7h0M45.3 1468.8h0M126.2 1468.9h0M142.4 1468.9h0M158.6 1469h0M190.9 1469h0M223.3 1469.1h0M239.5 1469.1h0M336.6 1469.3h0M352.7 1469.3h0M498.4 1469.5h0M530.7 1469.6h0M644 1469.8h0M660.2 1469.8h0M724.9 1469.9h0M757.2 1470h0M118.1 1483h0M166.7 1483.1h0M199 1483.1h0M215.2 1483.1h0M247.6 1483.2h0M279.9 1483.3h0M296.1 1483.3h0M328.5 1483.3h0M360.8 1483.4h0M377 1483.4h0M393.2 1483.4h0M506.4 1483.6h0M522.6 1483.7h0M635.9 1483.9h0M668.2 1483.9h0M733 1484h0M749.1 1484.1h0M61.5 1497h0M77.7 1497h0M126.2 1497.1h0M142.4 1497.1h0M158.6 1497.1h0M207.1 1497.2h0M239.5 1497.3h0M271.8 1497.3h0M304.2 1497.4h0M320.4 1497.4h0M352.7 1497.5h0M368.9 1497.5h0M401.3 1497.6h0M417.5 1497.6h0M563.1 1497.8h0M579.3 1497.9h0M644 1498h0M660.2 1498h0M85.8 1511.1h0M166.7 1511.2h0M182.9 1511.3h0M199 1511.3h0M215.2 1511.3h0M231.4 1511.4h0M247.6 1511.4h0M263.8 1511.4h0M279.9 1511.4h0M296.1 1511.5h0M328.5 1511.5h0M360.8 1511.6h0M377 1511.6h0M393.2 1511.6h0M425.6 1511.7h0M555 1511.9h0M587.3 1512h0M110 1525.2h0M126.2 1525.3h0M158.6 1525.3h0M207.1 1525.4h0M239.5 1525.5h0M271.8 1525.5h0M336.6 1525.6h0M368.9 1525.7h0M385.1 1525.7h0M401.3 1525.7h0M417.5 1525.8h0M482.2 1525.9h0M498.4 1525.9h0M563.1 1526h0M579.3 1526h0M676.3 1526.2h0M692.5 1526.2h0M134.3 1539.4h0M166.7 1539.4h0M182.9 1539.5h0M199 1539.5h0M215.2 1539.5h0M231.4 1539.5h0M247.6 1539.6h0M279.9 1539.6h0M296.1 1539.6h0M312.3 1539.7h0M328.5 1539.7h0M360.8 1539.8h0M377 1539.8h0M409.4 1539.8h0M474.1 1539.9h0M506.4 1540h0M668.2 1540.3h0M700.6 1540.3h0M126.2 1553.4h0M207.1 1553.6h0M223.3 1553.6h0M255.7 1553.7h0M271.8 1553.7h0M288 1553.7h0M320.4 1553.8h0M336.6 1553.8h0M352.7 1553.8h0M385.1 1553.9h0M401.3 1553.9h0M482.2 1554h0M498.4 1554.1h0M546.9 1554.2h0M563.1 1554.2h0M676.3 1554.4h0M692.5 1554.4h0M199 1567.7h0M231.4 1567.7h0M279.9 1567.8h0M312.3 1567.9h0M506.4 1568.2h0M522.6 1568.2h0M538.8 1568.2h0M571.2 1568.3h0M142.4 1581.7h0M158.6 1581.7h0M207.1 1581.8h0M223.3 1581.8h0M271.8 1581.9h0M288 1581.9h0M304.2 1581.9h0M498.4 1582.3h0M530.7 1582.3h0M546.9 1582.3h0M563.1 1582.4h0M757.2 1582.7h0M199 1595.8h0M215.2 1595.9h0M263.8 1595.9h0M522.6 1596.4h0M538.8 1596.4h0M571.2 1596.5h0M635.9 1596.6h0M652.1 1596.6h0M158.6 1609.9h0M190.9 1609.9h0M223.3 1610h0M271.8 1610.1h0M288 1610.1h0M498.4 1610.4h0M530.7 1610.5h0M546.9 1610.5h0M563.1 1610.5h0M627.8 1610.7h0M660.2 1610.7h0"/>
<path stroke="#2a80ee" d="M271.8 1046.5h0M660.2 1047.1h0M741.1 1047.2h0M207.1 1074.5h0M304.2 1074.7h0M336.6 1074.7h0M563.1 1075.1h0M263.8 1088.7h0M296.1 1088.8h0M312.3 1088.8h0M716.8 1089.5h0M215.2 1116.8h0M296.1 1116.9h0M255.7 1131h0M288 1131h0M320.4 1131.1h0M166.7 1144.9h0M263.8 1145.1h0M344.7 1145.2h0M190.9 1159h0M215.2 1173.2h0M490.3 1173.6h0M304.2 1187.4h0M247.6 1201.4h0M538.8 1201.9h0M652.1 1202.1h0M668.2 1202.1h0M174.8 1215.4h0M288 1215.6h0M530.7 1216h0M102 1229.3h0M263.8 1229.6h0M555 1230.1h0M174.8 1243.5h0M514.5 1244.1h0M166.7 1257.6h0M312.3 1257.9h0M490.3 1258.2h0M126.2 1271.6h0M288 1271.9h0M304.2 1271.9h0M466 1272.2h0M676.3 1272.6h0M166.7 1285.8h0M199 1285.9h0M587.3 1286.5h0M142.4 1299.9h0M514.5 1300.5h0M692.5 1300.8h0M150.5 1314h0M538.8 1314.6h0M587.3 1314.7h0M563.1 1328.7h0M53.4 1342h0M85.8 1342h0M93.9 1356.1h0M158.6 1356.2h0M595.4 1357h0M644 1357.1h0M53.4 1370.2h0M118.1 1398.4h0M61.5 1412.4h0M142.4 1412.6h0M304.2 1412.8h0M37.2 1426.5h0M150.5 1426.7h0M271.8 1441h0M37.2 1454.7h0M207.1 1469h0M514.5 1469.6h0M741.1 1469.9h0M134.3 1483h0M150.5 1483h0M231.4 1483.2h0M344.7 1483.4h0M652.1 1483.9h0M223.3 1497.2h0M288 1497.4h0M336.6 1497.4h0M385.1 1497.5h0M69.6 1511.1h0M344.7 1511.5h0M409.4 1511.7h0M571.2 1511.9h0M174.8 1525.3h0M190.9 1525.4h0M223.3 1525.4h0M255.7 1525.5h0M352.7 1525.6h0M118.1 1539.3h0M263.8 1539.6h0M344.7 1539.7h0M393.2 1539.8h0M490.3 1540h0M684.4 1540.3h0M304.2 1553.7h0M215.2 1567.7h0M296.1 1567.8h0M555 1568.3h0M514.5 1582.3h0M150.5 1595.8h0M279.9 1596h0M506.4 1596.4h0M555 1596.4h0M207.1 1609.9h0M514.5 1610.5h0M644 1610.7h0"/>
</g></g></g>
<circle cx="118.2" cy="2276.7" r="12.1" fill="#2a7cf0"/>
<circle cx="118.2" cy="2329.5" r="12.1" fill="#f5501e"/>
<circle cx="118.2" cy="2382.5" r="12.1" fill="#22c222"/>
<g font-family='"Liberation Sans", Arial, sans-serif' font-size="33.5" fill="#111" stroke="#111" stroke-width="0.35">
<text x="144.5" y="2287.8" textLength="246.5" lengthAdjust="spacingAndGlyphs">(DLL4 response)</text>
<text x="391.5" y="2274.5" font-size="31" textLength="53" lengthAdjust="spacingAndGlyphs">high</text>
<text x="143.8" y="2340.4" textLength="426.5" lengthAdjust="spacingAndGlyphs">adjacent to (DLL4 response)</text>
<text x="570.5" y="2327.2" font-size="31" textLength="53" lengthAdjust="spacingAndGlyphs">high</text>
<text x="143.8" y="2394" textLength="222.5" lengthAdjust="spacingAndGlyphs">all other spots</text>
</g>
<g fill="#f5476a" stroke="#111" stroke-width="1.6">
<rect x="1062.2" y="1125.4" width="37.8" height="13.5"/>
<rect x="1120.2" y="1093.4" width="37.9" height="45.5"/>
<rect x="1178.3" y="1058" width="37.9" height="80.9"/>
</g>
<g font-family='"DejaVu Sans", "Liberation Sans", sans-serif' font-size="29" fill="#2a2f33" text-anchor="middle">
<text x="1079.5" y="1111.5">1.2k</text>
<text x="1136.7" y="1079">4.0k</text>
<text x="1195.2" y="1043.4">7.0k</text>
</g>
<rect x="1022.2" y="1138.9" width="233.1" height="729" fill="#fff" stroke="#111" stroke-width="2.2"/>
<g stroke="#8fa3ad" stroke-width="0.9" stroke-linejoin="round">
<polygon points="1081.3,1184.9 1081.4,1187 1081.6,1189.2 1081.7,1191.3 1081.9,1193.4 1082.1,1195.6 1082.3,1197.7 1082.5,1199.8 1082.8,1202 1083.3,1204.1 1083.7,1206.2 1084.2,1208.4 1084.8,1210.5 1085.8,1212.7 1086.8,1214.8 1088.3,1216.9 1090,1219.1 1091.7,1221.2 1093.5,1223.3 1095.4,1225.5 1097.1,1227.6 1098.7,1229.7 1100.2,1231.9 1101.6,1234 1102.9,1236.1 1103.7,1238.3 1104.4,1240.4 1104.1,1241.8 1103.5,1243.3 1102.7,1244.7 1101,1246.2 1099,1247.6 1096.5,1249.1 1094.1,1250.5 1091.8,1252 1089.7,1253.4 1087.9,1254.8 1086.1,1256.3 1084.6,1257.7 1083.3,1259.2 1082.2,1260.6 1081.3,1262.1 1080.6,1263.5 1079.6,1263.5 1078.9,1262.1 1077.9,1260.6 1076.9,1259.2 1075.6,1257.7 1074.1,1256.3 1072.3,1254.8 1070.5,1253.4 1068.4,1252 1066.1,1250.5 1063.7,1249.1 1061.2,1247.6 1059.2,1246.2 1057.5,1244.7 1056.6,1243.3 1056.1,1241.8 1055.8,1240.4 1056.5,1238.3 1057.3,1236.1 1058.6,1234 1060,1231.9 1061.5,1229.7 1063.1,1227.6 1064.8,1225.5 1066.7,1223.3 1068.5,1221.2 1070.2,1219.1 1071.9,1216.9 1073.4,1214.8 1074.4,1212.7 1075.4,1210.5 1076,1208.4 1076.5,1206.2 1076.9,1204.1 1077.4,1202 1077.7,1199.8 1077.9,1197.7 1078.1,1195.6 1078.3,1193.4 1078.5,1191.3 1078.6,1189.2 1078.8,1187 1078.9,1184.9" fill="#45acd8"/>
<polygon points="1140.2,1184.9 1140.3,1187 1140.5,1189.2 1140.6,1191.3 1140.8,1193.4 1141,1195.6 1141.2,1197.7 1141.4,1199.8 1141.7,1202 1142.2,1204.1 1142.6,1206.2 1143.1,1208.4 1143.7,1210.5 1144.7,1212.7 1145.7,1214.8 1147.2,1216.9 1148.9,1219.1 1150.6,1221.2 1152.4,1223.3 1154.3,1225.5 1156,1227.6 1157.6,1229.7 1159.1,1231.9 1160.5,1234 1161.8,1236.1 1162.6,1238.3 1163.3,1240.4 1163,1241.8 1162.5,1243.3 1161.6,1244.7 1159.9,1246.2 1157.9,1247.6 1155.4,1249.1 1153,1250.5 1150.7,1252 1148.6,1253.4 1146.8,1254.8 1145,1256.3 1143.5,1257.7 1142.2,1259.2 1141.2,1260.6 1140.2,1262.1 1139.5,1263.5 1138.5,1263.5 1137.8,1262.1 1136.8,1260.6 1135.8,1259.2 1134.5,1257.7 1133,1256.3 1131.2,1254.8 1129.4,1253.4 1127.3,1252 1125,1250.5 1122.6,1249.1 1120.1,1247.6 1118.1,1246.2 1116.4,1244.7 1115.5,1243.3 1115,1241.8 1114.7,1240.4 1115.4,1238.3 1116.2,1236.1 1117.5,1234 1118.9,1231.9 1120.4,1229.7 1122,1227.6 1123.7,1225.5 1125.6,1223.3 1127.4,1221.2 1129.1,1219.1 1130.8,1216.9 1132.3,1214.8 1133.3,1212.7 1134.3,1210.5 1134.9,1208.4 1135.4,1206.2 1135.8,1204.1 1136.3,1202 1136.6,1199.8 1136.8,1197.7 1137,1195.6 1137.2,1193.4 1137.4,1191.3 1137.5,1189.2 1137.7,1187 1137.8,1184.9" fill="#0f4bb5"/>
<polygon points="1198.6,1184.9 1198.7,1187 1198.9,1189.2 1199,1191.3 1199.2,1193.4 1199.4,1195.6 1199.6,1197.7 1199.8,1199.8 1200.1,1202 1200.6,1204.1 1201,1206.2 1201.5,1208.4 1202.1,1210.5 1203.1,1212.7 1204.1,1214.8 1205.6,1216.9 1207.3,1219.1 1209,1221.2 1210.8,1223.3 1212.7,1225.5 1214.4,1227.6 1216,1229.7 1217.5,1231.9 1218.9,1234 1220.2,1236.1 1221,1238.3 1221.7,1240.4 1221.4,1242 1220.9,1243.6 1220,1245.2 1218.3,1246.8 1216.3,1248.4 1213.8,1250 1211.4,1251.6 1209.1,1253.2 1207,1254.8 1205.2,1256.4 1203.4,1258 1201.9,1259.6 1200.6,1261.2 1199.6,1262.8 1198.6,1264.4 1197.9,1266 1196.9,1266 1196.2,1264.4 1195.2,1262.8 1194.2,1261.2 1192.9,1259.6 1191.4,1258 1189.6,1256.4 1187.8,1254.8 1185.7,1253.2 1183.4,1251.6 1181,1250 1178.5,1248.4 1176.5,1246.8 1174.8,1245.2 1174,1243.6 1173.4,1242 1173.1,1240.4 1173.8,1238.3 1174.6,1236.1 1175.9,1234 1177.3,1231.9 1178.8,1229.7 1180.4,1227.6 1182.1,1225.5 1184,1223.3 1185.8,1221.2 1187.5,1219.1 1189.2,1216.9 1190.7,1214.8 1191.7,1212.7 1192.7,1210.5 1193.3,1208.4 1193.8,1206.2 1194.2,1204.1 1194.7,1202 1195,1199.8 1195.2,1197.7 1195.4,1195.6 1195.6,1193.4 1195.8,1191.3 1195.9,1189.2 1196.1,1187 1196.2,1184.9" fill="#102f7d"/>
<polygon points="1081.3,1276.1 1081.4,1278.2 1081.5,1280.2 1081.6,1282.3 1081.8,1284.3 1082.1,1286.4 1082.4,1288.5 1082.6,1290.5 1082.9,1292.6 1083.3,1294.7 1083.7,1296.7 1084.1,1298.8 1084.5,1300.8 1085.1,1302.9 1085.7,1305 1086.2,1307 1086.9,1309.1 1088.4,1311.1 1089.8,1313.2 1091.9,1315.3 1094.1,1317.3 1096.1,1319.4 1098.1,1321.5 1099.9,1323.5 1101.7,1325.6 1103.4,1327.6 1104.4,1329.7 1103.5,1330.8 1102.6,1331.9 1100.8,1333 1099.1,1334.1 1097.1,1335.2 1095.1,1336.3 1093.1,1337.4 1091.5,1338.5 1089.9,1339.5 1088.3,1340.6 1086.7,1341.7 1085.1,1342.8 1083.8,1343.9 1082.4,1345 1081.5,1346.1 1080.6,1347.2 1079.6,1347.2 1078.7,1346.1 1077.8,1345 1076.4,1343.9 1075.1,1342.8 1073.5,1341.7 1071.9,1340.6 1070.3,1339.5 1068.7,1338.5 1067.1,1337.4 1065.1,1336.3 1063.1,1335.2 1061.1,1334.1 1059.4,1333 1057.6,1331.9 1056.7,1330.8 1055.8,1329.7 1056.8,1327.6 1058.5,1325.6 1060.3,1323.5 1062.1,1321.5 1064.1,1319.4 1066.1,1317.3 1068.3,1315.3 1070.4,1313.2 1071.8,1311.1 1073.3,1309.1 1074,1307 1074.5,1305 1075.1,1302.9 1075.7,1300.8 1076.1,1298.8 1076.5,1296.7 1076.9,1294.7 1077.3,1292.6 1077.6,1290.5 1077.8,1288.5 1078.1,1286.4 1078.4,1284.3 1078.6,1282.3 1078.7,1280.2 1078.8,1278.2 1078.9,1276.1" fill="#55bede"/>
<polygon points="1140.2,1276.1 1140.3,1278.2 1140.4,1280.2 1140.5,1282.3 1140.7,1284.3 1141,1286.4 1141.3,1288.5 1141.5,1290.5 1141.8,1292.6 1142.2,1294.7 1142.6,1296.7 1143,1298.8 1143.4,1300.8 1144,1302.9 1144.6,1305 1145.1,1307 1145.8,1309.1 1147.3,1311.1 1148.7,1313.2 1150.8,1315.3 1153,1317.3 1155,1319.4 1157,1321.5 1158.8,1323.5 1160.6,1325.6 1162.3,1327.6 1163.3,1329.7 1162.4,1330.8 1161.5,1331.9 1159.7,1333 1158,1334.1 1156,1335.2 1154,1336.3 1152,1337.4 1150.4,1338.5 1148.8,1339.5 1147.2,1340.6 1145.6,1341.7 1144,1342.8 1142.7,1343.9 1141.3,1345 1140.4,1346.1 1139.5,1347.2 1138.5,1347.2 1137.6,1346.1 1136.7,1345 1135.3,1343.9 1134,1342.8 1132.4,1341.7 1130.8,1340.6 1129.2,1339.5 1127.6,1338.5 1126,1337.4 1124,1336.3 1122,1335.2 1120,1334.1 1118.3,1333 1116.5,1331.9 1115.6,1330.8 1114.7,1329.7 1115.7,1327.6 1117.4,1325.6 1119.2,1323.5 1121,1321.5 1123,1319.4 1125,1317.3 1127.2,1315.3 1129.3,1313.2 1130.7,1311.1 1132.2,1309.1 1132.9,1307 1133.4,1305 1134,1302.9 1134.6,1300.8 1135,1298.8 1135.4,1296.7 1135.8,1294.7 1136.2,1292.6 1136.5,1290.5 1136.7,1288.5 1137,1286.4 1137.3,1284.3 1137.5,1282.3 1137.6,1280.2 1137.7,1278.2 1137.8,1276.1" fill="#2888d8"/>
<polygon points="1198.6,1276.1 1198.7,1278.2 1198.8,1280.2 1198.9,1282.3 1199.1,1284.3 1199.4,1286.4 1199.7,1288.5 1199.9,1290.5 1200.2,1292.6 1200.6,1294.7 1201,1296.7 1201.4,1298.8 1201.8,1300.8 1202.4,1302.9 1203,1305 1203.5,1307 1204.2,1309.1 1205.7,1311.1 1207.1,1313.2 1209.2,1315.3 1211.4,1317.3 1213.4,1319.4 1215.4,1321.5 1217.2,1323.5 1219,1325.6 1220.7,1327.6 1221.7,1329.7 1220.8,1331 1219.9,1332.2 1218.1,1333.5 1216.4,1334.7 1214.4,1336 1212.4,1337.2 1210.4,1338.5 1208.8,1339.7 1207.2,1341 1205.6,1342.2 1204,1343.5 1202.4,1344.7 1201.1,1346 1199.7,1347.2 1198.8,1348.5 1197.9,1349.7 1196.9,1349.7 1196,1348.5 1195.1,1347.2 1193.7,1346 1192.4,1344.7 1190.8,1343.5 1189.2,1342.2 1187.6,1341 1186,1339.7 1184.4,1338.5 1182.4,1337.2 1180.4,1336 1178.4,1334.7 1176.7,1333.5 1174.9,1332.2 1174,1331 1173.1,1329.7 1174.1,1327.6 1175.8,1325.6 1177.6,1323.5 1179.4,1321.5 1181.4,1319.4 1183.4,1317.3 1185.6,1315.3 1187.7,1313.2 1189.1,1311.1 1190.6,1309.1 1191.3,1307 1191.8,1305 1192.4,1302.9 1193,1300.8 1193.4,1298.8 1193.8,1296.7 1194.2,1294.7 1194.6,1292.6 1194.9,1290.5 1195.1,1288.5 1195.4,1286.4 1195.7,1284.3 1195.9,1282.3 1196,1280.2 1196.1,1278.2 1196.2,1276.1" fill="#1155c0"/>
<polygon points="1081.3,1368.3 1081.4,1370.4 1081.5,1372.5 1081.6,1374.6 1081.8,1376.7 1082.1,1378.8 1082.4,1380.9 1082.6,1383 1082.9,1385.1 1083.3,1387.2 1083.7,1389.3 1084.1,1391.4 1084.5,1393.5 1085,1395.6 1085.5,1397.7 1086,1399.8 1086.6,1401.9 1088,1404 1089.4,1406.1 1091.5,1408.2 1093.8,1410.3 1095.8,1412.4 1097.9,1414.5 1099.8,1416.6 1101.6,1418.7 1103.4,1420.8 1104.4,1422.9 1103.5,1424.1 1102.5,1425.3 1100.6,1426.5 1098.9,1427.7 1096.9,1428.8 1094.9,1430 1093.1,1431.2 1091.5,1432.4 1089.9,1433.6 1088.3,1434.8 1086.7,1436 1085.1,1437.2 1083.8,1438.3 1082.4,1439.5 1081.5,1440.7 1080.6,1441.9 1079.6,1441.9 1078.7,1440.7 1077.8,1439.5 1076.4,1438.3 1075.1,1437.2 1073.5,1436 1071.9,1434.8 1070.3,1433.6 1068.7,1432.4 1067.1,1431.2 1065.3,1430 1063.3,1428.8 1061.3,1427.7 1059.6,1426.5 1057.7,1425.3 1056.7,1424.1 1055.8,1422.9 1056.8,1420.8 1058.6,1418.7 1060.4,1416.6 1062.3,1414.5 1064.4,1412.4 1066.4,1410.3 1068.7,1408.2 1070.8,1406.1 1072.2,1404 1073.6,1401.9 1074.2,1399.8 1074.7,1397.7 1075.2,1395.6 1075.7,1393.5 1076.1,1391.4 1076.5,1389.3 1076.9,1387.2 1077.3,1385.1 1077.6,1383 1077.8,1380.9 1078.1,1378.8 1078.4,1376.7 1078.6,1374.6 1078.7,1372.5 1078.8,1370.4 1078.9,1368.3" fill="#f3f7f9"/>
<polygon points="1140.2,1368.3 1140.3,1370.4 1140.4,1372.5 1140.5,1374.6 1140.7,1376.7 1141,1378.8 1141.3,1380.9 1141.5,1383 1141.8,1385.1 1142.2,1387.2 1142.6,1389.3 1143,1391.4 1143.4,1393.5 1143.9,1395.6 1144.4,1397.7 1144.9,1399.8 1145.5,1401.9 1146.9,1404 1148.3,1406.1 1150.4,1408.2 1152.7,1410.3 1154.7,1412.4 1156.8,1414.5 1158.7,1416.6 1160.5,1418.7 1162.3,1420.8 1163.3,1422.9 1162.4,1424.1 1161.4,1425.3 1159.5,1426.5 1157.8,1427.7 1155.8,1428.8 1153.8,1430 1152,1431.2 1150.4,1432.4 1148.8,1433.6 1147.2,1434.8 1145.6,1436 1144,1437.2 1142.7,1438.3 1141.3,1439.5 1140.4,1440.7 1139.5,1441.9 1138.5,1441.9 1137.6,1440.7 1136.7,1439.5 1135.3,1438.3 1134,1437.2 1132.4,1436 1130.8,1434.8 1129.2,1433.6 1127.6,1432.4 1126,1431.2 1124.2,1430 1122.2,1428.8 1120.2,1427.7 1118.5,1426.5 1116.6,1425.3 1115.6,1424.1 1114.7,1422.9 1115.7,1420.8 1117.5,1418.7 1119.3,1416.6 1121.2,1414.5 1123.3,1412.4 1125.3,1410.3 1127.6,1408.2 1129.7,1406.1 1131.1,1404 1132.5,1401.9 1133.1,1399.8 1133.6,1397.7 1134.1,1395.6 1134.6,1393.5 1135,1391.4 1135.4,1389.3 1135.8,1387.2 1136.2,1385.1 1136.5,1383 1136.7,1380.9 1137,1378.8 1137.3,1376.7 1137.5,1374.6 1137.6,1372.5 1137.7,1370.4 1137.8,1368.3" fill="#7ecfe0"/>
<polygon points="1198.6,1368.3 1198.7,1370.4 1198.8,1372.5 1198.9,1374.6 1199.1,1376.7 1199.4,1378.8 1199.7,1380.9 1199.9,1383 1200.2,1385.1 1200.6,1387.2 1201,1389.3 1201.4,1391.4 1201.8,1393.5 1202.3,1395.6 1202.8,1397.7 1203.3,1399.8 1203.9,1401.9 1205.3,1404 1206.7,1406.1 1208.8,1408.2 1211.1,1410.3 1213.1,1412.4 1215.2,1414.5 1217.1,1416.6 1218.9,1418.7 1220.7,1420.8 1221.7,1422.9 1220.8,1424.2 1219.8,1425.6 1217.9,1426.9 1216.2,1428.3 1214.2,1429.6 1212.2,1431 1210.4,1432.3 1208.8,1433.7 1207.2,1435 1205.6,1436.3 1204,1437.7 1202.4,1439 1201.1,1440.4 1199.7,1441.7 1198.8,1443.1 1197.9,1444.4 1196.9,1444.4 1196,1443.1 1195.1,1441.7 1193.7,1440.4 1192.4,1439 1190.8,1437.7 1189.2,1436.3 1187.6,1435 1186,1433.7 1184.4,1432.3 1182.6,1431 1180.6,1429.6 1178.6,1428.3 1176.9,1426.9 1175,1425.6 1174,1424.2 1173.1,1422.9 1174.1,1420.8 1175.9,1418.7 1177.7,1416.6 1179.6,1414.5 1181.7,1412.4 1183.7,1410.3 1186,1408.2 1188.1,1406.1 1189.5,1404 1190.9,1401.9 1191.5,1399.8 1192,1397.7 1192.5,1395.6 1193,1393.5 1193.4,1391.4 1193.8,1389.3 1194.2,1387.2 1194.6,1385.1 1194.9,1383 1195.1,1380.9 1195.4,1378.8 1195.7,1376.7 1195.9,1374.6 1196,1372.5 1196.1,1370.4 1196.2,1368.3" fill="#3a9ad5"/>
<polygon points="1081.3,1456.3 1081.4,1458.5 1081.5,1460.7 1081.6,1462.9 1081.9,1465 1082.1,1467.2 1082.3,1469.4 1082.6,1471.6 1082.8,1473.8 1083.3,1476 1083.7,1478.1 1084.1,1480.3 1084.7,1482.5 1085.5,1484.7 1086.3,1486.9 1087.5,1489.1 1088.7,1491.3 1090.4,1493.4 1092,1495.6 1094,1497.8 1095.9,1500 1097.6,1502.2 1099.4,1504.4 1100.9,1506.5 1102.4,1508.7 1103.6,1510.9 1104.4,1513.1 1103.9,1514.3 1103.2,1515.6 1101.9,1516.8 1100.2,1518 1098.2,1519.3 1095.9,1520.5 1093.7,1521.8 1091.7,1523 1089.8,1524.2 1088,1525.5 1086.3,1526.7 1084.8,1527.9 1083.5,1529.2 1082.3,1530.4 1081.4,1531.7 1080.6,1532.9 1079.6,1532.9 1078.8,1531.7 1077.9,1530.4 1076.7,1529.2 1075.4,1527.9 1073.9,1526.7 1072.2,1525.5 1070.4,1524.2 1068.5,1523 1066.5,1521.8 1064.3,1520.5 1062,1519.3 1060,1518 1058.3,1516.8 1057,1515.6 1056.3,1514.3 1055.8,1513.1 1056.6,1510.9 1057.8,1508.7 1059.3,1506.5 1060.8,1504.4 1062.6,1502.2 1064.3,1500 1066.2,1497.8 1068.2,1495.6 1069.8,1493.4 1071.5,1491.3 1072.7,1489.1 1073.9,1486.9 1074.7,1484.7 1075.5,1482.5 1076.1,1480.3 1076.5,1478.1 1076.9,1476 1077.4,1473.8 1077.6,1471.6 1077.9,1469.4 1078.1,1467.2 1078.3,1465 1078.6,1462.9 1078.7,1460.7 1078.8,1458.5 1078.9,1456.3" fill="#52b5de"/>
<polygon points="1140.2,1456.3 1140.3,1458.5 1140.4,1460.7 1140.5,1462.9 1140.8,1465 1141,1467.2 1141.2,1469.4 1141.5,1471.6 1141.7,1473.8 1142.2,1476 1142.6,1478.1 1143,1480.3 1143.6,1482.5 1144.4,1484.7 1145.2,1486.9 1146.4,1489.1 1147.6,1491.3 1149.3,1493.4 1150.9,1495.6 1152.9,1497.8 1154.8,1500 1156.5,1502.2 1158.3,1504.4 1159.8,1506.5 1161.3,1508.7 1162.5,1510.9 1163.3,1513.1 1162.8,1514.3 1162.1,1515.6 1160.8,1516.8 1159.1,1518 1157.1,1519.3 1154.8,1520.5 1152.6,1521.8 1150.6,1523 1148.7,1524.2 1146.9,1525.5 1145.2,1526.7 1143.7,1527.9 1142.4,1529.2 1141.2,1530.4 1140.3,1531.7 1139.5,1532.9 1138.5,1532.9 1137.7,1531.7 1136.8,1530.4 1135.6,1529.2 1134.3,1527.9 1132.8,1526.7 1131.1,1525.5 1129.3,1524.2 1127.4,1523 1125.4,1521.8 1123.2,1520.5 1120.9,1519.3 1118.9,1518 1117.2,1516.8 1115.9,1515.6 1115.2,1514.3 1114.7,1513.1 1115.5,1510.9 1116.7,1508.7 1118.2,1506.5 1119.7,1504.4 1121.5,1502.2 1123.2,1500 1125.1,1497.8 1127.1,1495.6 1128.7,1493.4 1130.4,1491.3 1131.6,1489.1 1132.8,1486.9 1133.6,1484.7 1134.4,1482.5 1135,1480.3 1135.4,1478.1 1135.8,1476 1136.3,1473.8 1136.5,1471.6 1136.8,1469.4 1137,1467.2 1137.2,1465 1137.5,1462.9 1137.6,1460.7 1137.7,1458.5 1137.8,1456.3" fill="#1a6acc"/>
<polygon points="1198.6,1456.3 1198.7,1458.5 1198.8,1460.7 1198.9,1462.9 1199.2,1465 1199.4,1467.2 1199.6,1469.4 1199.9,1471.6 1200.1,1473.8 1200.6,1476 1201,1478.1 1201.4,1480.3 1202,1482.5 1202.8,1484.7 1203.6,1486.9 1204.8,1489.1 1206,1491.3 1207.7,1493.4 1209.3,1495.6 1211.3,1497.8 1213.2,1500 1214.9,1502.2 1216.7,1504.4 1218.2,1506.5 1219.7,1508.7 1220.9,1510.9 1221.7,1513.1 1221.2,1514.5 1220.5,1515.9 1219.2,1517.3 1217.5,1518.7 1215.5,1520.1 1213.2,1521.5 1211,1522.9 1209,1524.2 1207.1,1525.6 1205.3,1527 1203.6,1528.4 1202.1,1529.8 1200.8,1531.2 1199.6,1532.6 1198.7,1534 1197.9,1535.4 1196.9,1535.4 1196.1,1534 1195.2,1532.6 1194,1531.2 1192.7,1529.8 1191.2,1528.4 1189.5,1527 1187.7,1525.6 1185.8,1524.2 1183.8,1522.9 1181.6,1521.5 1179.3,1520.1 1177.3,1518.7 1175.6,1517.3 1174.3,1515.9 1173.6,1514.5 1173.1,1513.1 1173.9,1510.9 1175.1,1508.7 1176.6,1506.5 1178.1,1504.4 1179.9,1502.2 1181.6,1500 1183.5,1497.8 1185.5,1495.6 1187.1,1493.4 1188.8,1491.3 1190,1489.1 1191.2,1486.9 1192,1484.7 1192.8,1482.5 1193.4,1480.3 1193.8,1478.1 1194.2,1476 1194.7,1473.8 1194.9,1471.6 1195.2,1469.4 1195.4,1467.2 1195.6,1465 1195.9,1462.9 1196,1460.7 1196.1,1458.5 1196.2,1456.3" fill="#1460c8"/>
<polygon points="1081.3,1547.6 1081.4,1549.8 1081.5,1551.9 1081.6,1554.1 1081.8,1556.2 1082.1,1558.4 1082.4,1560.5 1082.6,1562.7 1082.9,1564.8 1083.3,1567 1083.7,1569.1 1084.1,1571.3 1084.5,1573.4 1085.1,1575.6 1085.7,1577.8 1086.2,1579.9 1086.9,1582.1 1088.4,1584.2 1089.8,1586.4 1091.9,1588.5 1094.1,1590.7 1096.1,1592.8 1098.1,1595 1099.9,1597.1 1101.7,1599.3 1103.4,1601.4 1104.4,1603.6 1103.5,1604.8 1102.6,1606 1100.8,1607.2 1099.1,1608.3 1097.1,1609.5 1095.1,1610.7 1093.1,1611.9 1091.5,1613.1 1089.9,1614.3 1088.3,1615.5 1086.7,1616.7 1085.1,1617.8 1083.8,1619 1082.4,1620.2 1081.5,1621.4 1080.6,1622.6 1079.6,1622.6 1078.7,1621.4 1077.8,1620.2 1076.4,1619 1075.1,1617.8 1073.5,1616.7 1071.9,1615.5 1070.3,1614.3 1068.7,1613.1 1067.1,1611.9 1065.1,1610.7 1063.1,1609.5 1061.1,1608.3 1059.4,1607.2 1057.6,1606 1056.7,1604.8 1055.8,1603.6 1056.8,1601.4 1058.5,1599.3 1060.3,1597.1 1062.1,1595 1064.1,1592.8 1066.1,1590.7 1068.3,1588.5 1070.4,1586.4 1071.8,1584.2 1073.3,1582.1 1074,1579.9 1074.5,1577.8 1075.1,1575.6 1075.7,1573.4 1076.1,1571.3 1076.5,1569.1 1076.9,1567 1077.3,1564.8 1077.6,1562.7 1077.8,1560.5 1078.1,1558.4 1078.4,1556.2 1078.6,1554.1 1078.7,1551.9 1078.8,1549.8 1078.9,1547.6" fill="#f5f9fb"/>
<polygon points="1140.2,1547.6 1140.3,1549.8 1140.4,1551.9 1140.5,1554.1 1140.7,1556.2 1141,1558.4 1141.3,1560.5 1141.5,1562.7 1141.8,1564.8 1142.2,1567 1142.6,1569.1 1143,1571.3 1143.4,1573.4 1144,1575.6 1144.6,1577.8 1145.1,1579.9 1145.8,1582.1 1147.3,1584.2 1148.7,1586.4 1150.8,1588.5 1153,1590.7 1155,1592.8 1157,1595 1158.8,1597.1 1160.6,1599.3 1162.3,1601.4 1163.3,1603.6 1162.4,1604.8 1161.5,1606 1159.7,1607.2 1158,1608.3 1156,1609.5 1154,1610.7 1152,1611.9 1150.4,1613.1 1148.8,1614.3 1147.2,1615.5 1145.6,1616.7 1144,1617.8 1142.7,1619 1141.3,1620.2 1140.4,1621.4 1139.5,1622.6 1138.5,1622.6 1137.6,1621.4 1136.7,1620.2 1135.3,1619 1134,1617.8 1132.4,1616.7 1130.8,1615.5 1129.2,1614.3 1127.6,1613.1 1126,1611.9 1124,1610.7 1122,1609.5 1120,1608.3 1118.3,1607.2 1116.5,1606 1115.6,1604.8 1114.7,1603.6 1115.7,1601.4 1117.4,1599.3 1119.2,1597.1 1121,1595 1123,1592.8 1125,1590.7 1127.2,1588.5 1129.3,1586.4 1130.7,1584.2 1132.2,1582.1 1132.9,1579.9 1133.4,1577.8 1134,1575.6 1134.6,1573.4 1135,1571.3 1135.4,1569.1 1135.8,1567 1136.2,1564.8 1136.5,1562.7 1136.7,1560.5 1137,1558.4 1137.3,1556.2 1137.5,1554.1 1137.6,1551.9 1137.7,1549.8 1137.8,1547.6" fill="#5ebde0"/>
<polygon points="1198.6,1547.6 1198.7,1549.8 1198.8,1551.9 1198.9,1554.1 1199.1,1556.2 1199.4,1558.4 1199.7,1560.5 1199.9,1562.7 1200.2,1564.8 1200.6,1567 1201,1569.1 1201.4,1571.3 1201.8,1573.4 1202.4,1575.6 1203,1577.8 1203.5,1579.9 1204.2,1582.1 1205.7,1584.2 1207.1,1586.4 1209.2,1588.5 1211.4,1590.7 1213.4,1592.8 1215.4,1595 1217.2,1597.1 1219,1599.3 1220.7,1601.4 1221.7,1603.6 1220.8,1604.9 1219.9,1606.3 1218.1,1607.6 1216.4,1609 1214.4,1610.3 1212.4,1611.7 1210.4,1613 1208.8,1614.3 1207.2,1615.7 1205.6,1617 1204,1618.4 1202.4,1619.7 1201.1,1621.1 1199.7,1622.4 1198.8,1623.8 1197.9,1625.1 1196.9,1625.1 1196,1623.8 1195.1,1622.4 1193.7,1621.1 1192.4,1619.7 1190.8,1618.4 1189.2,1617 1187.6,1615.7 1186,1614.3 1184.4,1613 1182.4,1611.7 1180.4,1610.3 1178.4,1609 1176.7,1607.6 1174.9,1606.3 1174,1604.9 1173.1,1603.6 1174.1,1601.4 1175.8,1599.3 1177.6,1597.1 1179.4,1595 1181.4,1592.8 1183.4,1590.7 1185.6,1588.5 1187.7,1586.4 1189.1,1584.2 1190.6,1582.1 1191.3,1579.9 1191.8,1577.8 1192.4,1575.6 1193,1573.4 1193.4,1571.3 1193.8,1569.1 1194.2,1567 1194.6,1564.8 1194.9,1562.7 1195.1,1560.5 1195.4,1558.4 1195.7,1556.2 1195.9,1554.1 1196,1551.9 1196.1,1549.8 1196.2,1547.6" fill="#2278d0"/>
<polygon points="1081.3,1638.1 1081.4,1640.3 1081.5,1642.4 1081.6,1644.6 1081.9,1646.7 1082.1,1648.9 1082.3,1651 1082.6,1653.2 1082.8,1655.3 1083.3,1657.5 1083.7,1659.6 1084.1,1661.8 1084.7,1663.9 1085.5,1666.1 1086.3,1668.3 1087.5,1670.4 1088.7,1672.6 1090.4,1674.7 1092,1676.9 1094,1679 1095.9,1681.2 1097.6,1683.3 1099.4,1685.5 1100.9,1687.6 1102.4,1689.8 1103.6,1691.9 1104.4,1694.1 1103.9,1695.5 1103.2,1697 1101.9,1698.4 1100.2,1699.9 1098.2,1701.3 1095.9,1702.8 1093.7,1704.2 1091.7,1705.7 1089.8,1707.1 1088,1708.6 1086.3,1710 1084.8,1711.5 1083.5,1712.9 1082.3,1714.4 1081.4,1715.8 1080.6,1717.3 1079.6,1717.3 1078.8,1715.8 1077.9,1714.4 1076.7,1712.9 1075.4,1711.5 1073.9,1710 1072.2,1708.6 1070.4,1707.1 1068.5,1705.7 1066.5,1704.2 1064.3,1702.8 1062,1701.3 1060,1699.9 1058.3,1698.4 1057,1697 1056.3,1695.5 1055.8,1694.1 1056.6,1691.9 1057.8,1689.8 1059.3,1687.6 1060.8,1685.5 1062.6,1683.3 1064.3,1681.2 1066.2,1679 1068.2,1676.9 1069.8,1674.7 1071.5,1672.6 1072.7,1670.4 1073.9,1668.3 1074.7,1666.1 1075.5,1663.9 1076.1,1661.8 1076.5,1659.6 1076.9,1657.5 1077.4,1655.3 1077.6,1653.2 1077.9,1651 1078.1,1648.9 1078.3,1646.7 1078.6,1644.6 1078.7,1642.4 1078.8,1640.3 1078.9,1638.1" fill="#8dd8e4"/>
<polygon points="1140.2,1638.1 1140.3,1640.3 1140.4,1642.4 1140.5,1644.6 1140.8,1646.7 1141,1648.9 1141.2,1651 1141.5,1653.2 1141.7,1655.3 1142.2,1657.5 1142.6,1659.6 1143,1661.8 1143.6,1663.9 1144.4,1666.1 1145.2,1668.3 1146.4,1670.4 1147.6,1672.6 1149.3,1674.7 1150.9,1676.9 1152.9,1679 1154.8,1681.2 1156.5,1683.3 1158.3,1685.5 1159.8,1687.6 1161.3,1689.8 1162.5,1691.9 1163.3,1694.1 1162.8,1695.5 1162.1,1697 1160.8,1698.4 1159.1,1699.9 1157.1,1701.3 1154.8,1702.8 1152.6,1704.2 1150.6,1705.7 1148.7,1707.1 1146.9,1708.6 1145.2,1710 1143.7,1711.5 1142.4,1712.9 1141.2,1714.4 1140.3,1715.8 1139.5,1717.3 1138.5,1717.3 1137.7,1715.8 1136.8,1714.4 1135.6,1712.9 1134.3,1711.5 1132.8,1710 1131.1,1708.6 1129.3,1707.1 1127.4,1705.7 1125.4,1704.2 1123.2,1702.8 1120.9,1701.3 1118.9,1699.9 1117.2,1698.4 1115.9,1697 1115.2,1695.5 1114.7,1694.1 1115.5,1691.9 1116.7,1689.8 1118.2,1687.6 1119.7,1685.5 1121.5,1683.3 1123.2,1681.2 1125.1,1679 1127.1,1676.9 1128.7,1674.7 1130.4,1672.6 1131.6,1670.4 1132.8,1668.3 1133.6,1666.1 1134.4,1663.9 1135,1661.8 1135.4,1659.6 1135.8,1657.5 1136.3,1655.3 1136.5,1653.2 1136.8,1651 1137,1648.9 1137.2,1646.7 1137.5,1644.6 1137.6,1642.4 1137.7,1640.3 1137.8,1638.1" fill="#1a6ccc"/>
<polygon points="1198.6,1638.1 1198.7,1640.3 1198.8,1642.4 1198.9,1644.6 1199.2,1646.7 1199.4,1648.9 1199.6,1651 1199.9,1653.2 1200.1,1655.3 1200.6,1657.5 1201,1659.6 1201.4,1661.8 1202,1663.9 1202.8,1666.1 1203.6,1668.3 1204.8,1670.4 1206,1672.6 1207.7,1674.7 1209.3,1676.9 1211.3,1679 1213.2,1681.2 1214.9,1683.3 1216.7,1685.5 1218.2,1687.6 1219.7,1689.8 1220.9,1691.9 1221.7,1694.1 1221.2,1695.7 1220.5,1697.3 1219.2,1698.9 1217.5,1700.5 1215.5,1702.1 1213.2,1703.7 1211,1705.3 1209,1706.9 1207.1,1708.6 1205.3,1710.2 1203.6,1711.8 1202.1,1713.4 1200.8,1715 1199.6,1716.6 1198.7,1718.2 1197.9,1719.8 1196.9,1719.8 1196.1,1718.2 1195.2,1716.6 1194,1715 1192.7,1713.4 1191.2,1711.8 1189.5,1710.2 1187.7,1708.6 1185.8,1706.9 1183.8,1705.3 1181.6,1703.7 1179.3,1702.1 1177.3,1700.5 1175.6,1698.9 1174.3,1697.3 1173.6,1695.7 1173.1,1694.1 1173.9,1691.9 1175.1,1689.8 1176.6,1687.6 1178.1,1685.5 1179.9,1683.3 1181.6,1681.2 1183.5,1679 1185.5,1676.9 1187.1,1674.7 1188.8,1672.6 1190,1670.4 1191.2,1668.3 1192,1666.1 1192.8,1663.9 1193.4,1661.8 1193.8,1659.6 1194.2,1657.5 1194.7,1655.3 1194.9,1653.2 1195.2,1651 1195.4,1648.9 1195.6,1646.7 1195.9,1644.6 1196,1642.4 1196.1,1640.3 1196.2,1638.1" fill="#12449f"/>
<polygon points="1081.3,1728.6 1081.4,1730.8 1081.5,1733 1081.6,1735.2 1081.9,1737.3 1082.1,1739.5 1082.3,1741.7 1082.6,1743.9 1082.8,1746.1 1083.3,1748.3 1083.7,1750.4 1084.1,1752.6 1084.6,1754.8 1085.4,1757 1086.1,1759.2 1087,1761.4 1088.1,1763.6 1089.7,1765.7 1091.3,1767.9 1093.3,1770.1 1095.3,1772.3 1097.1,1774.5 1099,1776.7 1100.6,1778.8 1102.2,1781 1103.5,1783.2 1104.4,1785.4 1103.7,1786.6 1103,1787.8 1101.6,1789 1099.9,1790.2 1097.8,1791.5 1095.6,1792.7 1093.5,1793.9 1091.6,1795.1 1089.8,1796.3 1088.1,1797.5 1086.4,1798.7 1084.9,1800 1083.6,1801.2 1082.3,1802.4 1081.4,1803.6 1080.6,1804.8 1079.6,1804.8 1078.8,1803.6 1077.9,1802.4 1076.6,1801.2 1075.3,1800 1073.8,1798.7 1072.1,1797.5 1070.4,1796.3 1068.6,1795.1 1066.7,1793.9 1064.6,1792.7 1062.4,1791.5 1060.3,1790.2 1058.6,1789 1057.2,1787.8 1056.5,1786.6 1055.8,1785.4 1056.7,1783.2 1058,1781 1059.6,1778.8 1061.2,1776.7 1063.1,1774.5 1064.9,1772.3 1066.9,1770.1 1068.9,1767.9 1070.5,1765.7 1072.1,1763.6 1073.2,1761.4 1074.1,1759.2 1074.8,1757 1075.6,1754.8 1076.1,1752.6 1076.5,1750.4 1076.9,1748.3 1077.4,1746.1 1077.6,1743.9 1077.9,1741.7 1078.1,1739.5 1078.3,1737.3 1078.6,1735.2 1078.7,1733 1078.8,1730.8 1078.9,1728.6" fill="#a5dde8"/>
<polygon points="1140.2,1728.6 1140.3,1730.8 1140.4,1733 1140.5,1735.2 1140.8,1737.3 1141,1739.5 1141.2,1741.7 1141.5,1743.9 1141.7,1746.1 1142.2,1748.3 1142.6,1750.4 1143,1752.6 1143.5,1754.8 1144.3,1757 1145,1759.2 1145.9,1761.4 1147,1763.6 1148.6,1765.7 1150.2,1767.9 1152.2,1770.1 1154.2,1772.3 1156,1774.5 1157.9,1776.7 1159.5,1778.8 1161.1,1781 1162.4,1783.2 1163.3,1785.4 1162.6,1786.6 1161.9,1787.8 1160.5,1789 1158.8,1790.2 1156.7,1791.5 1154.5,1792.7 1152.4,1793.9 1150.5,1795.1 1148.7,1796.3 1147,1797.5 1145.3,1798.7 1143.8,1800 1142.5,1801.2 1141.2,1802.4 1140.3,1803.6 1139.5,1804.8 1138.5,1804.8 1137.7,1803.6 1136.8,1802.4 1135.5,1801.2 1134.2,1800 1132.7,1798.7 1131,1797.5 1129.3,1796.3 1127.5,1795.1 1125.6,1793.9 1123.5,1792.7 1121.3,1791.5 1119.2,1790.2 1117.5,1789 1116.1,1787.8 1115.4,1786.6 1114.7,1785.4 1115.6,1783.2 1116.9,1781 1118.5,1778.8 1120.1,1776.7 1122,1774.5 1123.8,1772.3 1125.8,1770.1 1127.8,1767.9 1129.4,1765.7 1131,1763.6 1132.1,1761.4 1133,1759.2 1133.7,1757 1134.5,1754.8 1135,1752.6 1135.4,1750.4 1135.8,1748.3 1136.3,1746.1 1136.5,1743.9 1136.8,1741.7 1137,1739.5 1137.2,1737.3 1137.5,1735.2 1137.6,1733 1137.7,1730.8 1137.8,1728.6" fill="#2e8fd6"/>
<polygon points="1198.6,1728.6 1198.7,1730.8 1198.8,1733 1198.9,1735.2 1199.2,1737.3 1199.4,1739.5 1199.6,1741.7 1199.9,1743.9 1200.1,1746.1 1200.6,1748.3 1201,1750.4 1201.4,1752.6 1201.9,1754.8 1202.7,1757 1203.4,1759.2 1204.3,1761.4 1205.4,1763.6 1207,1765.7 1208.6,1767.9 1210.6,1770.1 1212.6,1772.3 1214.4,1774.5 1216.3,1776.7 1217.9,1778.8 1219.5,1781 1220.8,1783.2 1221.7,1785.4 1221,1786.8 1220.3,1788.1 1218.9,1789.5 1217.2,1790.9 1215.1,1792.2 1212.9,1793.6 1210.8,1795 1208.9,1796.4 1207.1,1797.7 1205.4,1799.1 1203.7,1800.5 1202.2,1801.8 1200.9,1803.2 1199.6,1804.6 1198.7,1805.9 1197.9,1807.3 1196.9,1807.3 1196.1,1805.9 1195.2,1804.6 1193.9,1803.2 1192.6,1801.8 1191.1,1800.5 1189.4,1799.1 1187.7,1797.7 1185.9,1796.4 1184,1795 1181.9,1793.6 1179.7,1792.2 1177.6,1790.9 1175.9,1789.5 1174.5,1788.1 1173.8,1786.8 1173.1,1785.4 1174,1783.2 1175.3,1781 1176.9,1778.8 1178.5,1776.7 1180.4,1774.5 1182.2,1772.3 1184.2,1770.1 1186.2,1767.9 1187.8,1765.7 1189.4,1763.6 1190.5,1761.4 1191.4,1759.2 1192.1,1757 1192.9,1754.8 1193.4,1752.6 1193.8,1750.4 1194.2,1748.3 1194.7,1746.1 1194.9,1743.9 1195.2,1741.7 1195.4,1739.5 1195.6,1737.3 1195.9,1735.2 1196,1733 1196.1,1730.8 1196.2,1728.6" fill="#1258c0"/>
</g>
<rect x="1019.4" y="1229.7" width="2" height="1.6" fill="#222"/>
<rect x="1019.4" y="1320.4" width="2" height="1.6" fill="#222"/>
<rect x="1019.4" y="1411.1" width="2" height="1.6" fill="#222"/>
<rect x="1019.4" y="1501.8" width="2" height="1.6" fill="#222"/>
<rect x="1019.4" y="1592.5" width="2" height="1.6" fill="#222"/>
<rect x="1019.4" y="1683.2" width="2" height="1.6" fill="#222"/>
<rect x="1019.4" y="1773.9" width="2" height="1.6" fill="#222"/>
<rect x="1078.8" y="1868" width="2.6" height="15.5" fill="#222"/>
<rect x="1137.7" y="1868" width="2.6" height="15.5" fill="#222"/>
<rect x="1196.1" y="1868" width="2.6" height="15.5" fill="#222"/>
<g font-family='"Liberation Sans", Arial, sans-serif' font-size="37.5" fill="#1a1a1a">
<text x="1267.4" y="1244">IFNγ</text>
<text x="1267.4" y="1334.7">TNF</text>
<text x="1267.4" y="1425.4">IL-1β</text>
<text x="1267.4" y="1516.1">IFNγ + TNF</text>
<text x="1267.4" y="1606.8">TNF + IL-1β</text>
<text x="1267.4" y="1697.5">IFNγ + IL-1β</text>
<text x="1267.4" y="1788.2">IFNγ + TNF + IL-1β</text>
</g>
<g font-family='"Liberation Sans", Arial, sans-serif' font-size="33.5" fill="#111" stroke="#111" stroke-width="0.35">
<g transform="translate(1087.8 2203.5) rotate(-90)"><text x="0" y="0" textLength="247" lengthAdjust="spacingAndGlyphs">(DLL4 response)</text><text x="246" y="-14" font-size="31" textLength="53" lengthAdjust="spacingAndGlyphs">high</text></g>
<g transform="translate(1151.2 2384.2) rotate(-90)"><text x="0" y="0" textLength="426.5" lengthAdjust="spacingAndGlyphs">adjacent to (DLL4 response)</text><text x="426" y="-9.6" font-size="31" textLength="53" lengthAdjust="spacingAndGlyphs">high</text></g>
<g transform="translate(1213.5 2127.5) rotate(-90)"><text x="0" y="0" textLength="219" lengthAdjust="spacingAndGlyphs">all other spots</text></g>
</g>
<rect x="1282.2" y="1915" width="1" height="141" fill="#a5a5a5"/>
<g font-family='"DejaVu Sans", "Liberation Sans", sans-serif' font-size="32.4" fill="#2e3a3e">
<text x="1280.2" y="1946">Median expression</text>
<text x="1430.8" y="1981.3" text-anchor="middle">in group</text>
</g>
<defs><linearGradient id="gd" x1="0" y1="0" x2="1" y2="0"><stop offset="0" stop-color="#f4fafb"/><stop offset="0.3" stop-color="#a6e4ee"/><stop offset="0.5" stop-color="#55bde8"/><stop offset="0.7" stop-color="#1e7ae6"/><stop offset="0.85" stop-color="#1550c8"/><stop offset="1" stop-color="#142a7a"/></linearGradient></defs>
<rect x="1328" y="1999.6" width="207" height="55.4" fill="url(#gd)" stroke="#111" stroke-width="1.6"/>
<rect x="1371.9" y="2055.6" width="1.8" height="11.5" fill="#222"/>
<rect x="1481.7" y="2055.6" width="1.8" height="11.5" fill="#222"/>
<g font-family='"DejaVu Sans", "Liberation Sans", sans-serif' font-size="32" fill="#2e3a3e" text-anchor="middle">
<text x="1373.5" y="2097.5">−0.10</text>
<text x="1480" y="2097.5">−0.05</text>
</g>
</svg>
</body></html>
